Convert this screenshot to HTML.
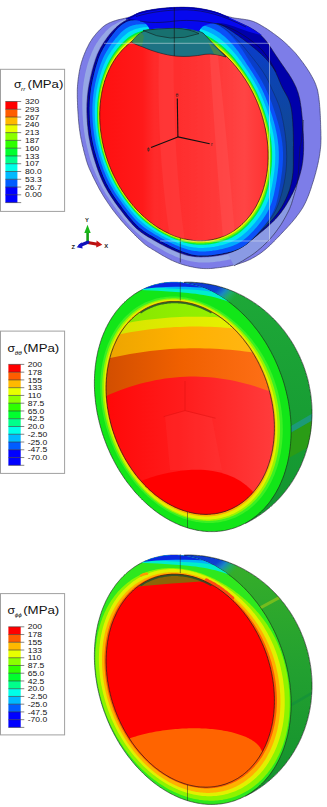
<!DOCTYPE html>
<html><head><meta charset="utf-8"><style>
html,body{margin:0;padding:0;background:#fff;}
body{width:327px;height:807px;overflow:hidden;}
svg{display:block;}
</style></head><body>
<svg width="327" height="807" viewBox="0 0 327 807">
<defs><clipPath id="lavclip"><path d="M0,0 H140 V120 L175,200 L262,230 L262,280 H0 Z"/></clipPath>
<linearGradient id="steel" gradientUnits="userSpaceOnUse" x1="0" y1="25" x2="0" y2="150"><stop offset="0" stop-color="#0a3ad8"/><stop offset="0.45" stop-color="#0c44b0"/><stop offset="1" stop-color="#11488e"/></linearGradient>
<linearGradient id="redg1" gradientUnits="userSpaceOnUse" x1="100" y1="0" x2="270" y2="0"><stop offset="0" stop-color="#ff1010"/><stop offset="0.25" stop-color="#ff1a1a"/><stop offset="0.32" stop-color="#ff2a2a"/><stop offset="0.5" stop-color="#ff3030"/><stop offset="0.7" stop-color="#ff3a3a"/><stop offset="0.85" stop-color="#ff4444"/><stop offset="1" stop-color="#ff3030"/></linearGradient>
<clipPath id="red1"><path d="M101.3,135.4 101.1,134.3 101,133.2 100.8,132.1 100.7,131 100.5,129.9 100.4,128.8 100.3,127.7 100.2,126.6 100.1,125.5 100,124.3 99.9,123.2 99.9,122.1 99.8,120.9 99.8,119.8 99.7,118.6 99.7,117.5 99.7,116.3 99.7,115.2 99.7,114 99.7,112.8 99.7,111.6 99.8,110.5 99.8,109.3 99.9,108.1 99.9,106.9 100,105.7 100.1,104.5 100.2,103.3 100.4,102 100.5,100.8 100.6,99.6 100.8,98.4 101,97.2 101.2,95.9 101.4,94.7 101.6,93.4 101.8,92.2 102.1,91 102.4,89.7 102.6,88.5 102.9,87.2 103.3,86 103.6,84.7 104,83.5 104.3,82.2 104.7,81 105.1,79.7 105.5,78.5 106,77.2 106.5,76 106.9,74.7 107.4,73.5 108,72.2 108.5,71 109.1,69.8 109.7,68.5 110.3,67.3 110.9,66.1 111.5,64.9 112.2,63.7 112.9,62.5 113.6,61.3 114.4,60.2 115.1,59 115.9,57.8 116.7,56.7 117.5,55.6 118.4,54.5 119.3,53.4 120.2,52.3 121.1,51.3 122,50.2 123,49.2 124,48.2 125,47.2 126,46.2 127,45.3 128.1,44.4 129.2,43.5 130.3,42.6 131.5,41.7 132.6,40.9 133.8,40.1 135,39.3 136.2,38.6 137.4,37.9 138.6,37.2 139.9,36.5 141.2,35.9 142.4,35.3 143.7,34.7 145.1,34.2 146.4,33.7 147.7,33.2 149.1,32.8 150.4,32.3 151.8,32 153.2,31.6 154.5,31.3 155.9,31 157.3,30.8 158.7,30.6 160.1,30.4 161.5,30.2 163,30.1 164.4,30 165.8,30 167.2,29.9 168.6,29.9 170,30 171.4,30.1 172.8,30.1 174.2,30.3 175.6,30.4 177,30.6 178.4,30.8 179.8,31.1 181.2,31.3 182.5,31.6 183.9,31.9 185.2,32.3 186.6,32.6 187.9,33 189.2,33.4 190.6,33.9 191.9,34.3 193.1,34.8 194.4,35.3 195.7,35.8 196.9,36.3 198.2,36.9 199.4,37.5 200.6,38.1 201.8,38.7 203,39.3 204.2,39.9 205.4,40.6 206.5,41.2 207.6,41.9 208.8,42.6 209.9,43.3 211,44 212.1,44.7 213.1,45.4 214.2,46.2 215.2,46.9 216.2,47.7 217.3,48.5 218.3,49.3 219.2,50.1 220.2,50.9 221.2,51.7 222.1,52.5 223.1,53.3 224,54.1 224.9,54.9 225.8,55.8 226.7,56.6 227.5,57.5 228.4,58.3 229.2,59.2 230.1,60.1 230.9,60.9 231.7,61.8 232.5,62.7 233.3,63.5 234,64.4 234.8,65.3 235.6,66.2 236.3,67.1 237,68 237.7,68.9 238.4,69.8 239.1,70.7 239.8,71.6 240.5,72.5 241.2,73.4 241.8,74.3 242.5,75.3 243.1,76.2 243.7,77.1 244.3,78 245,78.9 245.6,79.9 246.1,80.8 246.7,81.7 247.3,82.7 247.9,83.6 248.4,84.5 249,85.5 249.5,86.4 250,87.3 250.5,88.3 251,89.2 251.6,90.2 252,91.1 252.5,92.1 253,93 253.5,94 253.9,94.9 254.4,95.9 254.9,96.9 255.3,97.8 255.7,98.8 256.2,99.8 256.6,100.7 257,101.7 257.4,102.7 257.8,103.6 258.2,104.6 258.6,105.6 258.9,106.6 259.3,107.6 259.7,108.6 260,109.5 260.4,110.5 260.7,111.5 261,112.5 261.4,113.5 261.7,114.5 262,115.6 262.3,116.6 262.6,117.6 262.9,118.6 263.2,119.6 263.4,120.6 263.7,121.7 264,122.7 264.2,123.7 264.5,124.8 264.7,125.8 264.9,126.9 265.2,127.9 265.4,129 265.6,130 265.8,131.1 266,132.2 266.2,133.2 266.4,134.3 266.5,135.4 266.7,136.5 266.8,137.6 267,138.6 267.1,139.7 267.3,140.8 267.4,141.9 267.5,143.1 267.6,144.2 267.7,145.3 267.8,146.4 267.9,147.6 267.9,148.7 268,149.8 268,151 268.1,152.1 268.1,153.3 268.1,154.4 268.1,155.6 268.1,156.8 268.1,157.9 268.1,159.1 268,160.3 268,161.5 267.9,162.7 267.9,163.9 267.8,165.1 267.7,166.3 267.6,167.5 267.4,168.7 267.3,169.9 267.2,171.2 267,172.4 266.8,173.6 266.6,174.8 266.4,176.1 266.2,177.3 266,178.6 265.7,179.8 265.4,181 265.2,182.3 264.9,183.5 264.5,184.8 264.2,186 263.8,187.3 263.5,188.6 263.1,189.8 262.7,191.1 262.3,192.3 261.8,193.6 261.3,194.8 260.9,196.1 260.4,197.3 259.8,198.5 259.3,199.8 258.7,201 258.1,202.2 257.5,203.4 256.9,204.7 256.3,205.9 255.6,207.1 254.9,208.3 254.2,209.4 253.4,210.6 252.7,211.8 251.9,212.9 251.1,214 250.3,215.2 249.4,216.3 248.5,217.4 247.6,218.4 246.7,219.5 245.8,220.6 244.8,221.6 243.8,222.6 242.8,223.6 241.8,224.5 240.8,225.5 239.7,226.4 238.6,227.3 237.5,228.2 236.3,229 235.2,229.9 234,230.7 232.8,231.4 231.6,232.2 230.4,232.9 229.2,233.6 227.9,234.2 226.6,234.9 225.4,235.5 224.1,236 222.7,236.6 221.4,237.1 220.1,237.6 218.7,238 217.4,238.4 216,238.8 214.6,239.1 213.3,239.5 211.9,239.7 210.5,240 209.1,240.2 207.7,240.4 206.3,240.5 204.8,240.7 203.4,240.7 202,240.8 200.6,240.8 199.2,240.8 197.8,240.8 196.4,240.7 195,240.6 193.6,240.5 192.2,240.3 190.8,240.1 189.4,239.9 188,239.7 186.6,239.4 185.3,239.1 183.9,238.8 182.6,238.5 181.2,238.1 179.9,237.7 178.6,237.3 177.2,236.9 175.9,236.4 174.7,236 173.4,235.5 172.1,234.9 170.9,234.4 169.6,233.9 168.4,233.3 167.2,232.7 166,232.1 164.8,231.5 163.6,230.9 162.4,230.2 161.3,229.5 160.2,228.9 159,228.2 157.9,227.5 156.8,226.8 155.7,226 154.7,225.3 153.6,224.6 152.6,223.8 151.6,223 150.5,222.3 149.5,221.5 148.6,220.7 147.6,219.9 146.6,219.1 145.7,218.3 144.7,217.5 143.8,216.6 142.9,215.8 142,215 141.1,214.1 140.3,213.3 139.4,212.4 138.6,211.6 137.7,210.7 136.9,209.8 136.1,209 135.3,208.1 134.5,207.2 133.8,206.3 133,205.4 132.2,204.6 131.5,203.7 130.8,202.8 130.1,201.9 129.4,201 128.7,200.1 128,199.2 127.3,198.2 126.6,197.3 126,196.4 125.3,195.5 124.7,194.6 124.1,193.7 123.5,192.7 122.8,191.8 122.2,190.9 121.7,190 121.1,189 120.5,188.1 119.9,187.2 119.4,186.2 118.8,185.3 118.3,184.4 117.8,183.4 117.3,182.5 116.8,181.5 116.2,180.6 115.8,179.6 115.3,178.7 114.8,177.7 114.3,176.8 113.9,175.8 113.4,174.9 112.9,173.9 112.5,172.9 112.1,172 111.6,171 111.2,170 110.8,169.1 110.4,168.1 110,167.1 109.6,166.1 109.2,165.2 108.9,164.2 108.5,163.2 108.1,162.2 107.8,161.2 107.4,160.2 107.1,159.2 106.8,158.2 106.4,157.2 106.1,156.2 105.8,155.2 105.5,154.2 105.2,153.2 104.9,152.2 104.6,151.1 104.4,150.1 104.1,149.1 103.8,148.1 103.6,147 103.3,146 103.1,144.9 102.9,143.9 102.6,142.8 102.4,141.8 102.2,140.7 102,139.7 101.8,138.6 101.6,137.5 101.4,136.5Z"/></clipPath>
<clipPath id="tealc"><path d="M131.5,42 C135,37 140,32 147,30.2 C160,28.5 175,28 190,29.4 C196,30 200,31.5 203,33 L226,57 C218,54.5 212,53.6 205,54.3 C195,56.3 185,56.9 176,56.1 C165,55 152,51 143,47 C138,45.2 134,43.8 131.5,42 Z"/></clipPath>
<linearGradient id="shade" x1="0" y1="0" x2="1" y2="0"><stop offset="0" stop-color="#000" stop-opacity="0.12"/><stop offset="0.45" stop-color="#000" stop-opacity="0"/><stop offset="0.75" stop-color="#fff" stop-opacity="0.08"/><stop offset="1" stop-color="#fff" stop-opacity="0.12"/></linearGradient>
<clipPath id="cx2"><path d="M179.6,265.0 L330,265.0 L330,545.0 L250.7,545.0 Z"/></clipPath>
<linearGradient id="exl2" gradientUnits="userSpaceOnUse" x1="0" y1="290.0" x2="0" y2="530.0"><stop offset="0" stop-color="#1ea838"/><stop offset="0.5" stop-color="#189e34"/><stop offset="1" stop-color="#139430"/></linearGradient>
<radialGradient id="exg2" gradientUnits="userSpaceOnUse" cx="200" cy="268.0" r="50"><stop offset="0" stop-color="#0a30d8"/><stop offset="0.55" stop-color="#1040d0"/><stop offset="0.68" stop-color="#1a88c4"/><stop offset="0.8" stop-color="#20ac70" stop-opacity="0.8"/><stop offset="0.92" stop-color="#20ac50" stop-opacity="0"/><stop offset="1" stop-color="#20ac50" stop-opacity="0"/></radialGradient>
<clipPath id="cs2"><path d="M155.6,287 157.1,286.6 158.6,286.2 160.1,285.8 161.6,285.4 163.1,285 164.7,284.7 166.2,284.4 167.7,284.1 169.2,283.8 170.8,283.6 172.3,283.3 173.9,283.1 175.4,282.9 177,282.8 178.5,282.6 180.1,282.5 181.6,282.4 183.2,282.3 184.8,282.3 186.3,282.2 187.9,282.2 189.4,282.2 191,282.2 192.6,282.3 194.1,282.4 195.7,282.5 197.3,282.6 198.8,282.7 200.4,282.9 202,283 203.5,283.2 205.1,283.5 206.6,283.7 208.2,284 209.7,284.3 211.3,284.6 212.8,284.9 214.4,285.3 215.9,285.6 217.4,286 219,286.4 220.5,286.9 222,287.3 223.5,287.8 225,288.3 226.5,288.8 228,289.3 229.5,289.9 231,290.5 232.5,291.1 234,291.7 235.4,292.3 236.9,293 238.3,293.7 239.8,294.4 241.2,295.1 242.6,295.8 244.1,296.6 245.5,297.4 246.9,298.2 248.2,299 249.6,299.8 251,300.7 252.4,301.5 253.7,302.4 255,303.3 256.4,304.2 257.7,305.2 259,306.1 260.3,307.1 261.6,308.1 262.8,309.1 264.1,310.1 265.4,311.2 266.6,312.3 267.8,313.3 269,314.4 270.2,315.5 271.4,316.7 272.6,317.8 273.7,319 274.9,320.1 276,321.3 277.1,322.5 278.2,323.7 279.3,325 280.4,326.2 281.4,327.5 282.4,328.8 283.5,330 284.5,331.3 285.5,332.7 286.4,334 287.4,335.3 288.3,336.7 289.3,338 290.2,339.4 291.1,340.8 292,342.2 292.8,343.6 293.7,345 294.5,346.5 295.3,347.9 296.1,349.4 296.8,350.8 297.6,352.3 298.3,353.8 299.1,355.3 299.8,356.8 300.4,358.3 301.1,359.8 301.7,361.4 302.4,362.9 303,364.4 303.6,366 304.1,367.5 304.7,369.1 305.2,370.7 305.7,372.3 306.2,373.8 306.7,375.4 307.1,377 307.6,378.6 308,380.2 308.4,381.9 308.7,383.5 309.1,385.1 309.4,386.7 309.7,388.4 310,390 310.3,391.6 310.6,393.3 310.8,394.9 311,396.5 311.2,398.2 311.4,399.8 311.5,401.5 311.7,403.1 311.8,404.8 311.9,406.4 311.9,408.1 312,409.7 312,411.4 312,413 312,414.7 312,416.3 311.9,418 311.8,419.6 311.7,421.3 311.6,422.9 311.5,424.6 311.3,426.2 311.2,427.8 311,429.5 310.8,431.1 310.5,432.7 310.3,434.3 310,435.9 309.7,437.5 309.4,439.1 309,440.7 308.7,442.3 308.3,443.9 307.9,445.5 307.5,447.1 307,448.6 306.6,450.2 306.1,451.8 305.6,453.3 305.1,454.8 304.6,456.4 304,457.9 303.4,459.4 302.8,460.9 302.2,462.4 301.6,463.9 301,465.4 300.3,466.9 299.6,468.3 298.9,469.8 298.2,471.2 297.4,472.6 296.7,474 295.9,475.4 295.1,476.8 294.3,478.2 293.5,479.6 292.6,480.9 291.8,482.3 290.9,483.6 290,484.9 289.1,486.2 288.1,487.5 287.2,488.8 286.2,490.1 285.3,491.3 284.3,492.6 283.2,493.8 282.2,495 281.2,496.2 280.1,497.4 279.1,498.5 278,499.7 276.9,500.8 275.7,501.9 274.6,503 273.5,504.1 272.3,505.2 271.1,506.2 270,507.3 268.8,508.3 267.5,509.3 266.3,510.3 265.1,511.2 263.8,512.2 262.6,513.1 261.3,514 260,514.9 258.7,515.8 257.4,516.6 256.1,517.5 254.8,518.3 253.4,519.1 252.1,519.9 250.7,520.6 249.3,521.4 247.9,522.1 246.6,522.8 245.2,523.5 243.7,524.2 242.3,524.8 240.9,525.4 239.5,526 238,526.6 236.6,527.2 235.1,527.7 233.6,528.3 232.2,528.8 230.7,529.2 229.2,529.7 227.7,530.1 226.2,530.6 224.7,531 223.2,531.3 221.7,531.7 220.2,532 218.6,532.4 217.1,532.6 215.6,532.9 214,533.2 212.5,533.4 211,533.6 209.4,533.8 207.9,534 206.3,534.1 204.7,534.2 203.2,534.3 201.6,534.4 200.1,534.5 198.5,534.5 196.9,534.5 195.4,534.5 193.8,534.5 192.2,534.4 190.7,534.4 189.1,534.3 187.5,534.1 186,534 184.4,533.9 182.9,533.7 181.3,533.5 179.7,533.2 178.2,533 176.6,532.7 175.1,532.5 173.5,532.1 172,531.8 170.4,531.5 168.9,531.1 167.4,530.7 165.8,530.3 164.3,529.9 162.8,529.4 161.3,528.9 159.8,528.4 158.3,527.9 156.8,527.4 155.3,526.8 153.8,526.2 152.3,525.6 150.9,525 149.4,524.4 147.9,523.7 146.5,523 145,522.3 143.6,521.6 142.2,520.9 140.8,520.1 139.4,519.4 138,518.6 136.6,517.8 135.2,516.9 133.8,516.1 132.5,515.2 131.1,514.3 129.8,513.4 128.4,512.5 127.1,511.5 125.8,510.6 124.5,509.6 123.2,508.6 122,507.6 120.7,506.6 119.5,505.5 118.2,504.5 117,503.4 115.8,502.3 114.6,501.2 113.4,500.1 112.3,498.9 111.1,497.8 110,496.6 108.8,495.4 107.7,494.2 106.6,493 105.5,491.7 104.5,490.5 103.4,489.2 102.4,488 101.4,486.7 100.3,485.4 99.4,484.1 98.4,482.7 97.4,481.4 96.5,480 95.5,478.7 94.6,477.3 93.7,475.9 92.9,474.5 92,473.1 91.2,471.7 90.3,470.2 89.5,468.8 88.7,467.3 88,465.9 87.2,464.4 86.5,462.9 85.8,461.4 85.1,459.9 84.4,458.4 83.7,456.9 83.1,455.4 82.5,453.8 81.8,452.3 81.3,450.7 80.7,449.2 80.1,447.6 79.6,446 79.1,444.5 78.6,442.9 78.1,441.3 77.7,439.7 77.3,438.1 76.8,436.5 76.4,434.9 76.1,433.2 75.7,431.6 75.4,430 75.1,428.4 74.8,426.7 74.5,425.1 74.3,423.5 74,421.8 73.8,420.2 73.6,418.5 73.4,416.9 73.3,415.2 73.2,413.6 73.1,411.9 73,410.3 72.9,408.6 72.8,407 72.8,405.3 72.8,403.7 72.8,402 72.9,400.4 72.9,398.7 73,397.1 73.1,395.4 73.2,393.8 73.3,392.2 73.5,390.5 73.7,388.9 73.9,387.3 74.1,385.6 74.3,384 74.6,382.4 74.8,380.8 75.1,379.2 75.5,377.6 75.8,376 76.2,374.4 76.5,372.8 76.9,371.2 77.3,369.6 77.8,368.1 78.2,366.5 78.7,365 79.2,363.4 79.7,361.9 80.3,360.3 80.8,358.8 81.4,357.3 82,355.8 82.6,354.3 83.2,352.8 83.9,351.3 84.5,349.9 85.2,348.4 85.9,347 86.6,345.5 87.4,344.1 88.1,342.7 88.9,341.3 89.7,339.9 90.5,338.5 91.3,337.1 92.2,335.8 93.1,334.4 93.9,333.1 94.8,331.8 95.7,330.5 96.7,329.2 97.6,327.9 98.6,326.6 99.6,325.4 100.6,324.2 101.6,322.9 102.6,321.7 103.6,320.5 104.7,319.4 105.8,318.2 106.9,317 108,315.9 109.1,314.8 110.2,313.7 111.3,312.6 112.5,311.5 113.7,310.5 114.9,309.5 116.1,308.4 117.3,307.4 118.5,306.5 119.7,305.5 121,304.5 122.2,303.6 123.5,302.7 124.8,301.8 126.1,300.9 127.4,300.1 128.7,299.2 130.1,298.4 131.4,297.6 132.8,296.8 134.1,296.1 135.5,295.3 136.9,294.6 138.3,293.9 139.7,293.2 141.1,292.6 142.5,291.9 143.9,291.3 145.4,290.7 146.8,290.1 148.2,289.5 149.7,289 151.2,288.5 152.6,288 154.1,287.5Z"/></clipPath>
<clipPath id="ce2"><path d="M150.3,286.2 151.5,285.8 152.6,285.5 153.8,285.1 155,284.8 156.2,284.5 157.4,284.2 158.6,283.9 159.8,283.6 161,283.4 162.2,283.2 163.5,283 164.7,282.8 165.9,282.7 167.2,282.6 168.4,282.5 169.7,282.4 170.9,282.3 172.2,282.3 173.4,282.3 174.7,282.3 176,282.3 177.2,282.3 178.5,282.4 179.8,282.5 181.1,282.6 182.3,282.7 183.6,282.9 184.9,283.1 186.2,283.3 187.5,283.5 188.8,283.7 190,284 191.3,284.3 192.6,284.6 193.9,284.9 195.2,285.2 196.5,285.6 197.8,286 199.1,286.4 200.3,286.8 201.6,287.3 202.9,287.7 204.2,288.2 205.5,288.7 206.7,289.2 208,289.8 209.3,290.4 210.5,290.9 211.8,291.6 213.1,292.2 214.3,292.8 215.6,293.5 216.8,294.2 218.1,294.9 219.3,295.6 220.6,296.4 221.8,297.1 223,297.9 224.2,298.7 225.5,299.5 226.7,300.4 227.9,301.2 229.1,302.1 230.3,303 231.5,303.9 232.6,304.8 233.8,305.8 235,306.7 236.1,307.7 237.3,308.7 238.4,309.7 239.6,310.8 240.7,311.8 241.8,312.9 242.9,313.9 244,315 245.1,316.1 246.2,317.3 247.3,318.4 248.4,319.6 249.4,320.7 250.5,321.9 251.5,323.1 252.5,324.3 253.5,325.6 254.5,326.8 255.5,328.1 256.5,329.3 257.5,330.6 258.5,331.9 259.4,333.2 260.4,334.6 261.3,335.9 262.2,337.2 263.1,338.6 264,340 264.9,341.3 265.8,342.7 266.6,344.1 267.5,345.6 268.3,347 269.1,348.4 269.9,349.9 270.7,351.3 271.5,352.8 272.2,354.3 273,355.7 273.7,357.2 274.5,358.7 275.2,360.3 275.9,361.8 276.5,363.3 277.2,364.8 277.9,366.4 278.5,367.9 279.1,369.5 279.7,371 280.3,372.6 280.9,374.2 281.5,375.7 282,377.3 282.6,378.9 283.1,380.5 283.6,382.1 284.1,383.7 284.5,385.3 285,386.9 285.4,388.5 285.8,390.1 286.3,391.8 286.6,393.4 287,395 287.4,396.6 287.7,398.3 288.1,399.9 288.4,401.5 288.7,403.2 288.9,404.8 289.2,406.4 289.4,408 289.7,409.7 289.9,411.3 290.1,412.9 290.2,414.6 290.4,416.2 290.6,417.8 290.7,419.4 290.8,421.1 290.9,422.7 291,424.3 291,425.9 291.1,427.5 291.1,429.1 291.1,430.7 291.1,432.3 291.1,433.9 291,435.5 291,437.1 290.9,438.7 290.8,440.3 290.7,441.8 290.6,443.4 290.4,445 290.3,446.5 290.1,448.1 289.9,449.6 289.7,451.1 289.5,452.7 289.2,454.2 289,455.7 288.7,457.2 288.4,458.7 288.1,460.1 287.8,461.6 287.5,463.1 287.1,464.5 286.7,466 286.3,467.4 285.9,468.8 285.5,470.2 285.1,471.6 284.6,473 284.2,474.4 283.7,475.8 283.2,477.1 282.7,478.5 282.1,479.8 281.6,481.1 281,482.4 280.4,483.7 279.9,485 279.3,486.3 278.6,487.5 278,488.8 277.3,490 276.7,491.2 276,492.4 275.3,493.6 274.6,494.7 273.9,495.9 273.1,497 272.4,498.1 271.6,499.2 270.9,500.3 270.1,501.4 269.3,502.5 268.5,503.5 267.6,504.5 266.8,505.5 265.9,506.5 265.1,507.5 264.2,508.5 263.3,509.4 262.4,510.3 261.5,511.2 260.5,512.1 259.6,513 258.7,513.8 257.7,514.7 256.7,515.5 255.7,516.3 254.7,517 253.7,517.8 252.7,518.5 251.7,519.3 250.7,520 249.6,520.6 248.6,521.3 247.5,521.9 246.4,522.6 245.3,523.2 244.3,523.7 243.2,524.3 242,524.8 240.9,525.4 239.8,525.9 238.7,526.3 237.5,526.8 236.4,527.2 235.2,527.7 234,528.1 232.9,528.4 231.7,528.8 230.5,529.1 229.3,529.4 228.1,529.7 226.9,530 225.7,530.3 224.5,530.5 223.3,530.7 222,530.9 220.8,531.1 219.6,531.2 218.3,531.3 217.1,531.4 215.8,531.5 214.6,531.6 213.3,531.6 212.1,531.6 210.8,531.6 209.5,531.6 208.3,531.6 207,531.5 205.7,531.4 204.4,531.3 203.2,531.2 201.9,531 200.6,530.8 199.3,530.6 198,530.4 196.7,530.2 195.5,529.9 194.2,529.6 192.9,529.3 191.6,529 190.3,528.7 189,528.3 187.7,527.9 186.4,527.5 185.2,527.1 183.9,526.6 182.6,526.2 181.3,525.7 180,525.2 178.8,524.7 177.5,524.1 176.2,523.5 175,523 173.7,522.3 172.4,521.7 171.2,521.1 169.9,520.4 168.7,519.7 167.4,519 166.2,518.3 164.9,517.5 163.7,516.8 162.5,516 161.3,515.2 160,514.4 158.8,513.5 157.6,512.7 156.4,511.8 155.2,510.9 154,510 152.9,509.1 151.7,508.1 150.5,507.2 149.4,506.2 148.2,505.2 147.1,504.2 145.9,503.1 144.8,502.1 143.7,501 142.6,500 141.5,498.9 140.4,497.8 139.3,496.6 138.2,495.5 137.1,494.3 136.1,493.2 135,492 134,490.8 133,489.6 132,488.3 131,487.1 130,485.8 129,484.6 128,483.3 127,482 126.1,480.7 125.1,479.3 124.2,478 123.3,476.7 122.4,475.3 121.5,473.9 120.6,472.6 119.7,471.2 118.9,469.8 118,468.3 117.2,466.9 116.4,465.5 115.6,464 114.8,462.6 114,461.1 113.3,459.6 112.5,458.2 111.8,456.7 111,455.2 110.3,453.6 109.6,452.1 109,450.6 108.3,449.1 107.6,447.5 107,446 106.4,444.4 105.8,442.9 105.2,441.3 104.6,439.7 104,438.2 103.5,436.6 102.9,435 102.4,433.4 101.9,431.8 101.4,430.2 101,428.6 100.5,427 100.1,425.4 99.7,423.8 99.2,422.1 98.9,420.5 98.5,418.9 98.1,417.3 97.8,415.6 97.4,414 97.1,412.4 96.8,410.7 96.6,409.1 96.3,407.5 96.1,405.9 95.8,404.2 95.6,402.6 95.4,401 95.3,399.3 95.1,397.7 94.9,396.1 94.8,394.5 94.7,392.8 94.6,391.2 94.5,389.6 94.5,388 94.4,386.4 94.4,384.8 94.4,383.2 94.4,381.6 94.4,380 94.5,378.4 94.5,376.8 94.6,375.2 94.7,373.6 94.8,372.1 94.9,370.5 95.1,368.9 95.2,367.4 95.4,365.8 95.6,364.3 95.8,362.8 96,361.2 96.3,359.7 96.5,358.2 96.8,356.7 97.1,355.2 97.4,353.8 97.7,352.3 98,350.8 98.4,349.4 98.8,347.9 99.2,346.5 99.6,345.1 100,343.7 100.4,342.3 100.9,340.9 101.3,339.5 101.8,338.1 102.3,336.8 102.8,335.4 103.4,334.1 103.9,332.8 104.5,331.5 105.1,330.2 105.6,328.9 106.2,327.6 106.9,326.4 107.5,325.1 108.2,323.9 108.8,322.7 109.5,321.5 110.2,320.3 110.9,319.2 111.6,318 112.4,316.9 113.1,315.8 113.9,314.7 114.6,313.6 115.4,312.5 116.2,311.4 117,310.4 117.9,309.4 118.7,308.4 119.6,307.4 120.4,306.4 121.3,305.4 122.2,304.5 123.1,303.6 124,302.7 125,301.8 125.9,300.9 126.8,300.1 127.8,299.2 128.8,298.4 129.8,297.6 130.8,296.9 131.8,296.1 132.8,295.4 133.8,294.6 134.8,293.9 135.9,293.3 136.9,292.6 138,292 139.1,291.3 140.2,290.7 141.2,290.2 142.3,289.6 143.5,289.1 144.6,288.5 145.7,288 146.8,287.6 148,287.1 149.1,286.7Z"/></clipPath>
<clipPath id="cr2"><path d="M154.6,304.8 155.6,304.4 156.6,304.1 157.6,303.8 158.6,303.5 159.6,303.3 160.6,303 161.7,302.8 162.7,302.6 163.8,302.4 164.8,302.2 165.9,302.1 166.9,301.9 168,301.8 169,301.7 170.1,301.6 171.2,301.5 172.2,301.5 173.3,301.5 174.4,301.5 175.5,301.5 176.6,301.5 177.7,301.5 178.8,301.6 179.8,301.7 180.9,301.8 182,301.9 183.1,302 184.2,302.2 185.3,302.3 186.4,302.5 187.5,302.7 188.6,303 189.7,303.2 190.8,303.5 191.9,303.7 193,304 194.1,304.4 195.2,304.7 196.3,305 197.4,305.4 198.5,305.8 199.6,306.2 200.7,306.6 201.8,307.1 202.9,307.5 204,308 205.1,308.5 206.2,309 207.2,309.5 208.3,310 209.4,310.6 210.5,311.2 211.5,311.8 212.6,312.4 213.6,313 214.7,313.6 215.8,314.3 216.8,314.9 217.8,315.6 218.9,316.3 219.9,317.1 220.9,317.8 222,318.5 223,319.3 224,320.1 225,320.9 226,321.7 227,322.5 228,323.3 229,324.2 229.9,325.1 230.9,326 231.9,326.8 232.8,327.8 233.8,328.7 234.7,329.6 235.6,330.6 236.6,331.5 237.5,332.5 238.4,333.5 239.3,334.5 240.2,335.5 241.1,336.5 241.9,337.6 242.8,338.6 243.7,339.7 244.5,340.8 245.3,341.9 246.2,343 247,344.1 247.8,345.2 248.6,346.3 249.4,347.5 250.2,348.6 250.9,349.8 251.7,351 252.4,352.1 253.2,353.3 253.9,354.5 254.6,355.7 255.3,357 256,358.2 256.7,359.4 257.4,360.7 258,361.9 258.7,363.2 259.3,364.5 259.9,365.7 260.5,367 261.1,368.3 261.7,369.6 262.3,370.9 262.9,372.2 263.4,373.5 264,374.9 264.5,376.2 265,377.5 265.5,378.8 266,380.2 266.5,381.5 266.9,382.9 267.4,384.2 267.8,385.6 268.2,387 268.6,388.3 269,389.7 269.4,391.1 269.8,392.5 270.1,393.8 270.5,395.2 270.8,396.6 271.1,398 271.4,399.4 271.7,400.8 272,402.2 272.2,403.6 272.5,405 272.7,406.3 272.9,407.7 273.1,409.1 273.3,410.5 273.5,411.9 273.6,413.3 273.8,414.7 273.9,416.1 274,417.5 274.1,418.9 274.2,420.3 274.3,421.6 274.3,423 274.4,424.4 274.4,425.8 274.4,427.1 274.4,428.5 274.4,429.9 274.4,431.2 274.3,432.6 274.3,434 274.2,435.3 274.1,436.6 274,438 273.9,439.3 273.8,440.6 273.6,442 273.5,443.3 273.3,444.6 273.1,445.9 272.9,447.2 272.7,448.5 272.5,449.8 272.2,451.1 272,452.3 271.7,453.6 271.4,454.8 271.1,456.1 270.8,457.3 270.5,458.6 270.1,459.8 269.8,461 269.4,462.2 269,463.4 268.6,464.6 268.2,465.8 267.8,466.9 267.4,468.1 266.9,469.2 266.4,470.4 266,471.5 265.5,472.6 265,473.7 264.5,474.8 263.9,475.9 263.4,476.9 262.9,478 262.3,479 261.7,480.1 261.1,481.1 260.5,482.1 259.9,483.1 259.3,484.1 258.7,485 258,486 257.3,486.9 256.7,487.8 256,488.8 255.3,489.7 254.6,490.5 253.9,491.4 253.2,492.3 252.4,493.1 251.7,493.9 250.9,494.8 250.1,495.6 249.4,496.3 248.6,497.1 247.8,497.9 247,498.6 246.2,499.3 245.3,500 244.5,500.7 243.6,501.4 242.8,502.1 241.9,502.7 241,503.3 240.2,503.9 239.3,504.5 238.4,505.1 237.5,505.7 236.5,506.2 235.6,506.7 234.7,507.2 233.8,507.7 232.8,508.2 231.9,508.7 230.9,509.1 229.9,509.5 228.9,509.9 228,510.3 227,510.7 226,511.1 225,511.4 224,511.7 223,512 221.9,512.3 220.9,512.6 219.9,512.8 218.9,513 217.8,513.3 216.8,513.4 215.7,513.6 214.7,513.8 213.6,513.9 212.6,514 211.5,514.1 210.4,514.2 209.4,514.3 208.3,514.3 207.2,514.4 206.1,514.4 205.1,514.4 204,514.3 202.9,514.3 201.8,514.2 200.7,514.2 199.6,514.1 198.5,514 197.4,513.8 196.3,513.7 195.2,513.5 194.1,513.3 193,513.1 191.9,512.9 190.8,512.6 189.7,512.4 188.6,512.1 187.5,511.8 186.4,511.5 185.3,511.1 184.2,510.8 183.1,510.4 182,510 180.9,509.6 179.8,509.2 178.7,508.8 177.6,508.3 176.6,507.9 175.5,507.4 174.4,506.9 173.3,506.3 172.2,505.8 171.2,505.3 170.1,504.7 169,504.1 168,503.5 166.9,502.9 165.8,502.2 164.8,501.6 163.7,500.9 162.7,500.2 161.7,499.5 160.6,498.8 159.6,498.1 158.6,497.3 157.6,496.5 156.5,495.8 155.5,495 154.5,494.2 153.5,493.3 152.6,492.5 151.6,491.6 150.6,490.8 149.6,489.9 148.7,489 147.7,488.1 146.8,487.2 145.8,486.2 144.9,485.3 144,484.3 143.1,483.3 142.2,482.3 141.3,481.3 140.4,480.3 139.5,479.3 138.6,478.3 137.7,477.2 136.9,476.1 136,475.1 135.2,474 134.4,472.9 133.6,471.8 132.7,470.6 131.9,469.5 131.2,468.4 130.4,467.2 129.6,466.1 128.9,464.9 128.1,463.7 127.4,462.5 126.6,461.3 125.9,460.1 125.2,458.9 124.5,457.6 123.8,456.4 123.2,455.2 122.5,453.9 121.9,452.7 121.2,451.4 120.6,450.1 120,448.8 119.4,447.5 118.8,446.2 118.2,444.9 117.7,443.6 117.1,442.3 116.6,441 116.1,439.7 115.5,438.3 115,437 114.6,435.6 114.1,434.3 113.6,432.9 113.2,431.6 112.7,430.2 112.3,428.9 111.9,427.5 111.5,426.1 111.1,424.8 110.8,423.4 110.4,422 110.1,420.6 109.8,419.2 109.4,417.8 109.1,416.5 108.9,415.1 108.6,413.7 108.3,412.3 108.1,410.9 107.9,409.5 107.6,408.1 107.4,406.7 107.3,405.3 107.1,403.9 106.9,402.5 106.8,401.1 106.7,399.7 106.5,398.4 106.4,397 106.3,395.6 106.3,394.2 106.2,392.8 106.2,391.4 106.1,390.1 106.1,388.7 106.1,387.3 106.1,386 106.2,384.6 106.2,383.2 106.3,381.9 106.4,380.5 106.4,379.2 106.5,377.9 106.7,376.5 106.8,375.2 106.9,373.9 107.1,372.6 107.3,371.2 107.4,369.9 107.6,368.6 107.9,367.3 108.1,366.1 108.3,364.8 108.6,363.5 108.9,362.2 109.1,361 109.4,359.7 109.8,358.5 110.1,357.3 110.4,356.1 110.8,354.8 111.1,353.6 111.5,352.4 111.9,351.3 112.3,350.1 112.8,348.9 113.2,347.8 113.6,346.6 114.1,345.5 114.6,344.4 115.1,343.3 115.6,342.2 116.1,341.1 116.6,340 117.1,338.9 117.7,337.9 118.2,336.8 118.8,335.8 119.4,334.8 120,333.8 120.6,332.8 121.2,331.8 121.9,330.8 122.5,329.9 123.2,328.9 123.9,328 124.5,327.1 125.2,326.2 125.9,325.3 126.7,324.4 127.4,323.6 128.1,322.7 128.9,321.9 129.6,321.1 130.4,320.3 131.2,319.5 132,318.7 132.8,318 133.6,317.2 134.4,316.5 135.2,315.8 136.1,315.1 136.9,314.4 137.8,313.8 138.6,313.1 139.5,312.5 140.4,311.9 141.3,311.3 142.2,310.7 143.1,310.2 144,309.6 144.9,309.1 145.8,308.6 146.8,308.1 147.7,307.6 148.7,307.2 149.6,306.7 150.6,306.3 151.6,305.9 152.6,305.5 153.6,305.1Z"/></clipPath>
<linearGradient id="g2red" gradientUnits="userSpaceOnUse" x1="105" y1="0" x2="275" y2="0"><stop offset="0" stop-color="#ff0a0a"/><stop offset="0.45" stop-color="#ff1c1c"/><stop offset="1" stop-color="#ff3c3c"/></linearGradient>
<linearGradient id="g2yg" gradientUnits="userSpaceOnUse" x1="105" y1="0" x2="275" y2="0"><stop offset="0" stop-color="#84e400"/><stop offset="0.45" stop-color="#90ee00"/><stop offset="1" stop-color="#9cf400"/></linearGradient>
<linearGradient id="g2y" gradientUnits="userSpaceOnUse" x1="105" y1="0" x2="275" y2="0"><stop offset="0" stop-color="#d4e200"/><stop offset="0.45" stop-color="#e0ec00"/><stop offset="1" stop-color="#ecf400"/></linearGradient>
<linearGradient id="g2o" gradientUnits="userSpaceOnUse" x1="105" y1="0" x2="275" y2="0"><stop offset="0" stop-color="#eca400"/><stop offset="0.45" stop-color="#ffb000"/><stop offset="1" stop-color="#ffb818"/></linearGradient>
<linearGradient id="g2ro" gradientUnits="userSpaceOnUse" x1="105" y1="0" x2="275" y2="0"><stop offset="0" stop-color="#d24e00"/><stop offset="0.45" stop-color="#f06000"/><stop offset="1" stop-color="#ff7018"/></linearGradient>
<linearGradient id="g2r" gradientUnits="userSpaceOnUse" x1="105" y1="0" x2="275" y2="0"><stop offset="0" stop-color="#ff0808"/><stop offset="0.45" stop-color="#ff1c1c"/><stop offset="1" stop-color="#ff3c3c"/></linearGradient>
<clipPath id="cx3"><path d="M179.6,537.8 L330,537.8 L330,817.8 L250.7,817.8 Z"/></clipPath>
<linearGradient id="exl3" gradientUnits="userSpaceOnUse" x1="0" y1="562.8" x2="0" y2="802.8"><stop offset="0" stop-color="#36ae2a"/><stop offset="0.45" stop-color="#22a030"/><stop offset="1" stop-color="#12902e"/></linearGradient>
<radialGradient id="exg3" gradientUnits="userSpaceOnUse" cx="200" cy="540.8" r="50"><stop offset="0" stop-color="#0a30d8"/><stop offset="0.55" stop-color="#1040d0"/><stop offset="0.68" stop-color="#1a88c4"/><stop offset="0.8" stop-color="#20ac70" stop-opacity="0.8"/><stop offset="0.92" stop-color="#20ac50" stop-opacity="0"/><stop offset="1" stop-color="#20ac50" stop-opacity="0"/></radialGradient>
<clipPath id="cs3"><path d="M155.6,559.8 157.1,559.4 158.6,559 160.1,558.6 161.6,558.2 163.1,557.8 164.7,557.5 166.2,557.2 167.7,556.9 169.2,556.6 170.8,556.4 172.3,556.1 173.9,555.9 175.4,555.7 177,555.6 178.5,555.4 180.1,555.3 181.6,555.2 183.2,555.1 184.8,555.1 186.3,555 187.9,555 189.4,555 191,555 192.6,555.1 194.1,555.2 195.7,555.3 197.3,555.4 198.8,555.5 200.4,555.7 202,555.8 203.5,556 205.1,556.3 206.6,556.5 208.2,556.8 209.7,557.1 211.3,557.4 212.8,557.7 214.4,558.1 215.9,558.4 217.4,558.8 219,559.2 220.5,559.7 222,560.1 223.5,560.6 225,561.1 226.5,561.6 228,562.1 229.5,562.7 231,563.3 232.5,563.9 234,564.5 235.4,565.1 236.9,565.8 238.3,566.5 239.8,567.2 241.2,567.9 242.6,568.6 244.1,569.4 245.5,570.2 246.9,571 248.2,571.8 249.6,572.6 251,573.5 252.4,574.3 253.7,575.2 255,576.1 256.4,577 257.7,578 259,578.9 260.3,579.9 261.6,580.9 262.8,581.9 264.1,582.9 265.4,584 266.6,585.1 267.8,586.1 269,587.2 270.2,588.3 271.4,589.5 272.6,590.6 273.7,591.8 274.9,592.9 276,594.1 277.1,595.3 278.2,596.5 279.3,597.8 280.4,599 281.4,600.3 282.4,601.6 283.5,602.8 284.5,604.1 285.5,605.5 286.4,606.8 287.4,608.1 288.3,609.5 289.3,610.8 290.2,612.2 291.1,613.6 292,615 292.8,616.4 293.7,617.8 294.5,619.3 295.3,620.7 296.1,622.2 296.8,623.6 297.6,625.1 298.3,626.6 299.1,628.1 299.8,629.6 300.4,631.1 301.1,632.6 301.7,634.2 302.4,635.7 303,637.2 303.6,638.8 304.1,640.3 304.7,641.9 305.2,643.5 305.7,645.1 306.2,646.6 306.7,648.2 307.1,649.8 307.6,651.4 308,653 308.4,654.7 308.7,656.3 309.1,657.9 309.4,659.5 309.7,661.2 310,662.8 310.3,664.4 310.6,666.1 310.8,667.7 311,669.3 311.2,671 311.4,672.6 311.5,674.3 311.7,675.9 311.8,677.6 311.9,679.2 311.9,680.9 312,682.5 312,684.2 312,685.8 312,687.5 312,689.1 311.9,690.8 311.8,692.4 311.7,694.1 311.6,695.7 311.5,697.4 311.3,699 311.2,700.6 311,702.3 310.8,703.9 310.5,705.5 310.3,707.1 310,708.7 309.7,710.3 309.4,711.9 309,713.5 308.7,715.1 308.3,716.7 307.9,718.3 307.5,719.9 307,721.4 306.6,723 306.1,724.6 305.6,726.1 305.1,727.6 304.6,729.2 304,730.7 303.4,732.2 302.8,733.7 302.2,735.2 301.6,736.7 301,738.2 300.3,739.7 299.6,741.1 298.9,742.6 298.2,744 297.4,745.4 296.7,746.8 295.9,748.2 295.1,749.6 294.3,751 293.5,752.4 292.6,753.7 291.8,755.1 290.9,756.4 290,757.7 289.1,759 288.1,760.3 287.2,761.6 286.2,762.9 285.3,764.1 284.3,765.4 283.2,766.6 282.2,767.8 281.2,769 280.1,770.2 279.1,771.3 278,772.5 276.9,773.6 275.7,774.7 274.6,775.8 273.5,776.9 272.3,778 271.1,779 270,780.1 268.8,781.1 267.5,782.1 266.3,783.1 265.1,784 263.8,785 262.6,785.9 261.3,786.8 260,787.7 258.7,788.6 257.4,789.4 256.1,790.3 254.8,791.1 253.4,791.9 252.1,792.7 250.7,793.4 249.3,794.2 247.9,794.9 246.6,795.6 245.2,796.3 243.7,797 242.3,797.6 240.9,798.2 239.5,798.8 238,799.4 236.6,800 235.1,800.5 233.6,801.1 232.2,801.6 230.7,802 229.2,802.5 227.7,802.9 226.2,803.4 224.7,803.8 223.2,804.1 221.7,804.5 220.2,804.8 218.6,805.2 217.1,805.4 215.6,805.7 214,806 212.5,806.2 211,806.4 209.4,806.6 207.9,806.8 206.3,806.9 204.7,807 203.2,807.1 201.6,807.2 200.1,807.3 198.5,807.3 196.9,807.3 195.4,807.3 193.8,807.3 192.2,807.2 190.7,807.2 189.1,807.1 187.5,806.9 186,806.8 184.4,806.7 182.9,806.5 181.3,806.3 179.7,806 178.2,805.8 176.6,805.5 175.1,805.3 173.5,804.9 172,804.6 170.4,804.3 168.9,803.9 167.4,803.5 165.8,803.1 164.3,802.7 162.8,802.2 161.3,801.7 159.8,801.2 158.3,800.7 156.8,800.2 155.3,799.6 153.8,799 152.3,798.4 150.9,797.8 149.4,797.2 147.9,796.5 146.5,795.8 145,795.1 143.6,794.4 142.2,793.7 140.8,792.9 139.4,792.2 138,791.4 136.6,790.6 135.2,789.7 133.8,788.9 132.5,788 131.1,787.1 129.8,786.2 128.4,785.3 127.1,784.3 125.8,783.4 124.5,782.4 123.2,781.4 122,780.4 120.7,779.4 119.5,778.3 118.2,777.3 117,776.2 115.8,775.1 114.6,774 113.4,772.9 112.3,771.7 111.1,770.6 110,769.4 108.8,768.2 107.7,767 106.6,765.8 105.5,764.5 104.5,763.3 103.4,762 102.4,760.8 101.4,759.5 100.3,758.2 99.4,756.9 98.4,755.5 97.4,754.2 96.5,752.8 95.5,751.5 94.6,750.1 93.7,748.7 92.9,747.3 92,745.9 91.2,744.5 90.3,743 89.5,741.6 88.7,740.1 88,738.7 87.2,737.2 86.5,735.7 85.8,734.2 85.1,732.7 84.4,731.2 83.7,729.7 83.1,728.2 82.5,726.6 81.8,725.1 81.3,723.5 80.7,722 80.1,720.4 79.6,718.8 79.1,717.3 78.6,715.7 78.1,714.1 77.7,712.5 77.3,710.9 76.8,709.3 76.4,707.7 76.1,706 75.7,704.4 75.4,702.8 75.1,701.2 74.8,699.5 74.5,697.9 74.3,696.3 74,694.6 73.8,693 73.6,691.3 73.4,689.7 73.3,688 73.2,686.4 73.1,684.7 73,683.1 72.9,681.4 72.8,679.8 72.8,678.1 72.8,676.5 72.8,674.8 72.9,673.2 72.9,671.5 73,669.9 73.1,668.2 73.2,666.6 73.3,665 73.5,663.3 73.7,661.7 73.9,660.1 74.1,658.4 74.3,656.8 74.6,655.2 74.8,653.6 75.1,652 75.5,650.4 75.8,648.8 76.2,647.2 76.5,645.6 76.9,644 77.3,642.4 77.8,640.9 78.2,639.3 78.7,637.8 79.2,636.2 79.7,634.7 80.3,633.1 80.8,631.6 81.4,630.1 82,628.6 82.6,627.1 83.2,625.6 83.9,624.1 84.5,622.7 85.2,621.2 85.9,619.8 86.6,618.3 87.4,616.9 88.1,615.5 88.9,614.1 89.7,612.7 90.5,611.3 91.3,609.9 92.2,608.6 93.1,607.2 93.9,605.9 94.8,604.6 95.7,603.3 96.7,602 97.6,600.7 98.6,599.4 99.6,598.2 100.6,597 101.6,595.7 102.6,594.5 103.6,593.3 104.7,592.2 105.8,591 106.9,589.8 108,588.7 109.1,587.6 110.2,586.5 111.3,585.4 112.5,584.3 113.7,583.3 114.9,582.3 116.1,581.2 117.3,580.2 118.5,579.3 119.7,578.3 121,577.3 122.2,576.4 123.5,575.5 124.8,574.6 126.1,573.7 127.4,572.9 128.7,572 130.1,571.2 131.4,570.4 132.8,569.6 134.1,568.9 135.5,568.1 136.9,567.4 138.3,566.7 139.7,566 141.1,565.4 142.5,564.7 143.9,564.1 145.4,563.5 146.8,562.9 148.2,562.3 149.7,561.8 151.2,561.3 152.6,560.8 154.1,560.3Z"/></clipPath>
<clipPath id="ce3"><path d="M150.3,559 151.5,558.6 152.6,558.3 153.8,557.9 155,557.6 156.2,557.3 157.4,557 158.6,556.7 159.8,556.4 161,556.2 162.2,556 163.5,555.8 164.7,555.6 165.9,555.5 167.2,555.4 168.4,555.3 169.7,555.2 170.9,555.1 172.2,555.1 173.4,555.1 174.7,555.1 176,555.1 177.2,555.1 178.5,555.2 179.8,555.3 181.1,555.4 182.3,555.5 183.6,555.7 184.9,555.9 186.2,556.1 187.5,556.3 188.8,556.5 190,556.8 191.3,557.1 192.6,557.4 193.9,557.7 195.2,558 196.5,558.4 197.8,558.8 199.1,559.2 200.3,559.6 201.6,560.1 202.9,560.5 204.2,561 205.5,561.5 206.7,562 208,562.6 209.3,563.2 210.5,563.7 211.8,564.4 213.1,565 214.3,565.6 215.6,566.3 216.8,567 218.1,567.7 219.3,568.4 220.6,569.2 221.8,569.9 223,570.7 224.2,571.5 225.5,572.3 226.7,573.2 227.9,574 229.1,574.9 230.3,575.8 231.5,576.7 232.6,577.6 233.8,578.6 235,579.5 236.1,580.5 237.3,581.5 238.4,582.5 239.6,583.6 240.7,584.6 241.8,585.7 242.9,586.7 244,587.8 245.1,588.9 246.2,590.1 247.3,591.2 248.4,592.4 249.4,593.5 250.5,594.7 251.5,595.9 252.5,597.1 253.5,598.4 254.5,599.6 255.5,600.9 256.5,602.1 257.5,603.4 258.5,604.7 259.4,606 260.4,607.4 261.3,608.7 262.2,610 263.1,611.4 264,612.8 264.9,614.1 265.8,615.5 266.6,616.9 267.5,618.4 268.3,619.8 269.1,621.2 269.9,622.7 270.7,624.1 271.5,625.6 272.2,627.1 273,628.5 273.7,630 274.5,631.5 275.2,633.1 275.9,634.6 276.5,636.1 277.2,637.6 277.9,639.2 278.5,640.7 279.1,642.3 279.7,643.8 280.3,645.4 280.9,647 281.5,648.5 282,650.1 282.6,651.7 283.1,653.3 283.6,654.9 284.1,656.5 284.5,658.1 285,659.7 285.4,661.3 285.8,662.9 286.3,664.6 286.6,666.2 287,667.8 287.4,669.4 287.7,671.1 288.1,672.7 288.4,674.3 288.7,676 288.9,677.6 289.2,679.2 289.4,680.8 289.7,682.5 289.9,684.1 290.1,685.7 290.2,687.4 290.4,689 290.6,690.6 290.7,692.2 290.8,693.9 290.9,695.5 291,697.1 291,698.7 291.1,700.3 291.1,701.9 291.1,703.5 291.1,705.1 291.1,706.7 291,708.3 291,709.9 290.9,711.5 290.8,713.1 290.7,714.6 290.6,716.2 290.4,717.8 290.3,719.3 290.1,720.9 289.9,722.4 289.7,723.9 289.5,725.5 289.2,727 289,728.5 288.7,730 288.4,731.5 288.1,732.9 287.8,734.4 287.5,735.9 287.1,737.3 286.7,738.8 286.3,740.2 285.9,741.6 285.5,743 285.1,744.4 284.6,745.8 284.2,747.2 283.7,748.6 283.2,749.9 282.7,751.3 282.1,752.6 281.6,753.9 281,755.2 280.4,756.5 279.9,757.8 279.3,759.1 278.6,760.3 278,761.6 277.3,762.8 276.7,764 276,765.2 275.3,766.4 274.6,767.5 273.9,768.7 273.1,769.8 272.4,770.9 271.6,772 270.9,773.1 270.1,774.2 269.3,775.3 268.5,776.3 267.6,777.3 266.8,778.3 265.9,779.3 265.1,780.3 264.2,781.3 263.3,782.2 262.4,783.1 261.5,784 260.5,784.9 259.6,785.8 258.7,786.6 257.7,787.5 256.7,788.3 255.7,789.1 254.7,789.8 253.7,790.6 252.7,791.3 251.7,792.1 250.7,792.8 249.6,793.4 248.6,794.1 247.5,794.7 246.4,795.4 245.3,796 244.3,796.5 243.2,797.1 242,797.6 240.9,798.2 239.8,798.7 238.7,799.1 237.5,799.6 236.4,800 235.2,800.5 234,800.9 232.9,801.2 231.7,801.6 230.5,801.9 229.3,802.2 228.1,802.5 226.9,802.8 225.7,803.1 224.5,803.3 223.3,803.5 222,803.7 220.8,803.9 219.6,804 218.3,804.1 217.1,804.2 215.8,804.3 214.6,804.4 213.3,804.4 212.1,804.4 210.8,804.4 209.5,804.4 208.3,804.4 207,804.3 205.7,804.2 204.4,804.1 203.2,804 201.9,803.8 200.6,803.6 199.3,803.4 198,803.2 196.7,803 195.5,802.7 194.2,802.4 192.9,802.1 191.6,801.8 190.3,801.5 189,801.1 187.7,800.7 186.4,800.3 185.2,799.9 183.9,799.4 182.6,799 181.3,798.5 180,798 178.8,797.5 177.5,796.9 176.2,796.3 175,795.8 173.7,795.1 172.4,794.5 171.2,793.9 169.9,793.2 168.7,792.5 167.4,791.8 166.2,791.1 164.9,790.3 163.7,789.6 162.5,788.8 161.3,788 160,787.2 158.8,786.3 157.6,785.5 156.4,784.6 155.2,783.7 154,782.8 152.9,781.9 151.7,780.9 150.5,780 149.4,779 148.2,778 147.1,777 145.9,775.9 144.8,774.9 143.7,773.8 142.6,772.8 141.5,771.7 140.4,770.6 139.3,769.4 138.2,768.3 137.1,767.1 136.1,766 135,764.8 134,763.6 133,762.4 132,761.1 131,759.9 130,758.6 129,757.4 128,756.1 127,754.8 126.1,753.5 125.1,752.1 124.2,750.8 123.3,749.5 122.4,748.1 121.5,746.7 120.6,745.4 119.7,744 118.9,742.6 118,741.1 117.2,739.7 116.4,738.3 115.6,736.8 114.8,735.4 114,733.9 113.3,732.4 112.5,731 111.8,729.5 111,728 110.3,726.4 109.6,724.9 109,723.4 108.3,721.9 107.6,720.3 107,718.8 106.4,717.2 105.8,715.7 105.2,714.1 104.6,712.5 104,711 103.5,709.4 102.9,707.8 102.4,706.2 101.9,704.6 101.4,703 101,701.4 100.5,699.8 100.1,698.2 99.7,696.6 99.2,694.9 98.9,693.3 98.5,691.7 98.1,690.1 97.8,688.4 97.4,686.8 97.1,685.2 96.8,683.5 96.6,681.9 96.3,680.3 96.1,678.7 95.8,677 95.6,675.4 95.4,673.8 95.3,672.1 95.1,670.5 94.9,668.9 94.8,667.3 94.7,665.6 94.6,664 94.5,662.4 94.5,660.8 94.4,659.2 94.4,657.6 94.4,656 94.4,654.4 94.4,652.8 94.5,651.2 94.5,649.6 94.6,648 94.7,646.4 94.8,644.9 94.9,643.3 95.1,641.7 95.2,640.2 95.4,638.6 95.6,637.1 95.8,635.6 96,634 96.3,632.5 96.5,631 96.8,629.5 97.1,628 97.4,626.6 97.7,625.1 98,623.6 98.4,622.2 98.8,620.7 99.2,619.3 99.6,617.9 100,616.5 100.4,615.1 100.9,613.7 101.3,612.3 101.8,610.9 102.3,609.6 102.8,608.2 103.4,606.9 103.9,605.6 104.5,604.3 105.1,603 105.6,601.7 106.2,600.4 106.9,599.2 107.5,597.9 108.2,596.7 108.8,595.5 109.5,594.3 110.2,593.1 110.9,592 111.6,590.8 112.4,589.7 113.1,588.6 113.9,587.5 114.6,586.4 115.4,585.3 116.2,584.2 117,583.2 117.9,582.2 118.7,581.2 119.6,580.2 120.4,579.2 121.3,578.2 122.2,577.3 123.1,576.4 124,575.5 125,574.6 125.9,573.7 126.8,572.9 127.8,572 128.8,571.2 129.8,570.4 130.8,569.7 131.8,568.9 132.8,568.2 133.8,567.4 134.8,566.7 135.9,566.1 136.9,565.4 138,564.8 139.1,564.1 140.2,563.5 141.2,563 142.3,562.4 143.5,561.9 144.6,561.3 145.7,560.8 146.8,560.4 148,559.9 149.1,559.5Z"/></clipPath>
<clipPath id="cr3"><path d="M154.6,577.6 155.6,577.2 156.6,576.9 157.6,576.6 158.6,576.3 159.6,576.1 160.6,575.8 161.7,575.6 162.7,575.4 163.8,575.2 164.8,575 165.9,574.9 166.9,574.7 168,574.6 169,574.5 170.1,574.4 171.2,574.3 172.2,574.3 173.3,574.3 174.4,574.3 175.5,574.3 176.6,574.3 177.7,574.3 178.8,574.4 179.8,574.5 180.9,574.6 182,574.7 183.1,574.8 184.2,575 185.3,575.1 186.4,575.3 187.5,575.5 188.6,575.8 189.7,576 190.8,576.3 191.9,576.5 193,576.8 194.1,577.2 195.2,577.5 196.3,577.8 197.4,578.2 198.5,578.6 199.6,579 200.7,579.4 201.8,579.9 202.9,580.3 204,580.8 205.1,581.3 206.2,581.8 207.2,582.3 208.3,582.8 209.4,583.4 210.5,584 211.5,584.6 212.6,585.2 213.6,585.8 214.7,586.4 215.8,587.1 216.8,587.7 217.8,588.4 218.9,589.1 219.9,589.9 220.9,590.6 222,591.3 223,592.1 224,592.9 225,593.7 226,594.5 227,595.3 228,596.1 229,597 229.9,597.9 230.9,598.8 231.9,599.6 232.8,600.6 233.8,601.5 234.7,602.4 235.6,603.4 236.6,604.3 237.5,605.3 238.4,606.3 239.3,607.3 240.2,608.3 241.1,609.3 241.9,610.4 242.8,611.4 243.7,612.5 244.5,613.6 245.3,614.7 246.2,615.8 247,616.9 247.8,618 248.6,619.1 249.4,620.3 250.2,621.4 250.9,622.6 251.7,623.8 252.4,624.9 253.2,626.1 253.9,627.3 254.6,628.5 255.3,629.8 256,631 256.7,632.2 257.4,633.5 258,634.7 258.7,636 259.3,637.3 259.9,638.5 260.5,639.8 261.1,641.1 261.7,642.4 262.3,643.7 262.9,645 263.4,646.3 264,647.7 264.5,649 265,650.3 265.5,651.6 266,653 266.5,654.3 266.9,655.7 267.4,657 267.8,658.4 268.2,659.8 268.6,661.1 269,662.5 269.4,663.9 269.8,665.3 270.1,666.6 270.5,668 270.8,669.4 271.1,670.8 271.4,672.2 271.7,673.6 272,675 272.2,676.4 272.5,677.8 272.7,679.1 272.9,680.5 273.1,681.9 273.3,683.3 273.5,684.7 273.6,686.1 273.8,687.5 273.9,688.9 274,690.3 274.1,691.7 274.2,693.1 274.3,694.4 274.3,695.8 274.4,697.2 274.4,698.6 274.4,699.9 274.4,701.3 274.4,702.7 274.4,704 274.3,705.4 274.3,706.8 274.2,708.1 274.1,709.4 274,710.8 273.9,712.1 273.8,713.4 273.6,714.8 273.5,716.1 273.3,717.4 273.1,718.7 272.9,720 272.7,721.3 272.5,722.6 272.2,723.9 272,725.1 271.7,726.4 271.4,727.6 271.1,728.9 270.8,730.1 270.5,731.4 270.1,732.6 269.8,733.8 269.4,735 269,736.2 268.6,737.4 268.2,738.6 267.8,739.7 267.4,740.9 266.9,742 266.4,743.2 266,744.3 265.5,745.4 265,746.5 264.5,747.6 263.9,748.7 263.4,749.7 262.9,750.8 262.3,751.8 261.7,752.9 261.1,753.9 260.5,754.9 259.9,755.9 259.3,756.9 258.7,757.8 258,758.8 257.3,759.7 256.7,760.6 256,761.6 255.3,762.5 254.6,763.3 253.9,764.2 253.2,765.1 252.4,765.9 251.7,766.7 250.9,767.6 250.1,768.4 249.4,769.1 248.6,769.9 247.8,770.7 247,771.4 246.2,772.1 245.3,772.8 244.5,773.5 243.6,774.2 242.8,774.9 241.9,775.5 241,776.1 240.2,776.7 239.3,777.3 238.4,777.9 237.5,778.5 236.5,779 235.6,779.5 234.7,780 233.8,780.5 232.8,781 231.9,781.5 230.9,781.9 229.9,782.3 228.9,782.7 228,783.1 227,783.5 226,783.9 225,784.2 224,784.5 223,784.8 221.9,785.1 220.9,785.4 219.9,785.6 218.9,785.8 217.8,786.1 216.8,786.2 215.7,786.4 214.7,786.6 213.6,786.7 212.6,786.8 211.5,786.9 210.4,787 209.4,787.1 208.3,787.1 207.2,787.2 206.1,787.2 205.1,787.2 204,787.1 202.9,787.1 201.8,787 200.7,787 199.6,786.9 198.5,786.8 197.4,786.6 196.3,786.5 195.2,786.3 194.1,786.1 193,785.9 191.9,785.7 190.8,785.4 189.7,785.2 188.6,784.9 187.5,784.6 186.4,784.3 185.3,783.9 184.2,783.6 183.1,783.2 182,782.8 180.9,782.4 179.8,782 178.7,781.6 177.6,781.1 176.6,780.7 175.5,780.2 174.4,779.7 173.3,779.1 172.2,778.6 171.2,778.1 170.1,777.5 169,776.9 168,776.3 166.9,775.7 165.8,775 164.8,774.4 163.7,773.7 162.7,773 161.7,772.3 160.6,771.6 159.6,770.9 158.6,770.1 157.6,769.3 156.5,768.6 155.5,767.8 154.5,767 153.5,766.1 152.6,765.3 151.6,764.4 150.6,763.6 149.6,762.7 148.7,761.8 147.7,760.9 146.8,760 145.8,759 144.9,758.1 144,757.1 143.1,756.1 142.2,755.1 141.3,754.1 140.4,753.1 139.5,752.1 138.6,751.1 137.7,750 136.9,748.9 136,747.9 135.2,746.8 134.4,745.7 133.6,744.6 132.7,743.4 131.9,742.3 131.2,741.2 130.4,740 129.6,738.9 128.9,737.7 128.1,736.5 127.4,735.3 126.6,734.1 125.9,732.9 125.2,731.7 124.5,730.4 123.8,729.2 123.2,728 122.5,726.7 121.9,725.5 121.2,724.2 120.6,722.9 120,721.6 119.4,720.3 118.8,719 118.2,717.7 117.7,716.4 117.1,715.1 116.6,713.8 116.1,712.5 115.5,711.1 115,709.8 114.6,708.4 114.1,707.1 113.6,705.7 113.2,704.4 112.7,703 112.3,701.7 111.9,700.3 111.5,698.9 111.1,697.6 110.8,696.2 110.4,694.8 110.1,693.4 109.8,692 109.4,690.6 109.1,689.3 108.9,687.9 108.6,686.5 108.3,685.1 108.1,683.7 107.9,682.3 107.6,680.9 107.4,679.5 107.3,678.1 107.1,676.7 106.9,675.3 106.8,673.9 106.7,672.5 106.5,671.2 106.4,669.8 106.3,668.4 106.3,667 106.2,665.6 106.2,664.2 106.1,662.9 106.1,661.5 106.1,660.1 106.1,658.8 106.2,657.4 106.2,656 106.3,654.7 106.4,653.3 106.4,652 106.5,650.7 106.7,649.3 106.8,648 106.9,646.7 107.1,645.4 107.3,644 107.4,642.7 107.6,641.4 107.9,640.1 108.1,638.9 108.3,637.6 108.6,636.3 108.9,635 109.1,633.8 109.4,632.5 109.8,631.3 110.1,630.1 110.4,628.9 110.8,627.6 111.1,626.4 111.5,625.2 111.9,624.1 112.3,622.9 112.8,621.7 113.2,620.6 113.6,619.4 114.1,618.3 114.6,617.2 115.1,616.1 115.6,615 116.1,613.9 116.6,612.8 117.1,611.7 117.7,610.7 118.2,609.6 118.8,608.6 119.4,607.6 120,606.6 120.6,605.6 121.2,604.6 121.9,603.6 122.5,602.7 123.2,601.7 123.9,600.8 124.5,599.9 125.2,599 125.9,598.1 126.7,597.2 127.4,596.4 128.1,595.5 128.9,594.7 129.6,593.9 130.4,593.1 131.2,592.3 132,591.5 132.8,590.8 133.6,590 134.4,589.3 135.2,588.6 136.1,587.9 136.9,587.2 137.8,586.6 138.6,585.9 139.5,585.3 140.4,584.7 141.3,584.1 142.2,583.5 143.1,583 144,582.4 144.9,581.9 145.8,581.4 146.8,580.9 147.7,580.4 148.7,580 149.6,579.5 150.6,579.1 151.6,578.7 152.6,578.3 153.6,577.9Z"/></clipPath></defs>
<rect width="327" height="807" fill="#fff"/>
<path d="M80.4,135.4 80.2,134 80,132.7 79.8,131.3 79.6,129.9 79.4,128.5 79.2,127.1 79.1,125.7 78.9,124.3 78.8,122.9 78.6,121.5 78.5,120.1 78.4,118.7 78.3,117.2 78.2,115.8 78.1,114.3 78,112.9 77.9,111.4 77.8,109.9 77.7,108.4 77.6,106.9 77.6,105.4 77.5,103.9 77.5,102.3 77.4,100.8 77.4,99.2 77.3,97.6 77.3,96.1 77.3,94.5 77.3,92.8 77.3,91.2 77.3,89.6 77.4,88 77.5,86.3 77.6,84.7 77.8,83 77.9,81.4 78.1,79.7 78.3,78.1 78.6,76.4 78.8,74.7 79.1,73 79.4,71.3 79.7,69.6 80.1,67.9 80.4,66.3 80.9,64.6 81.3,62.9 81.8,61.2 82.4,59.6 82.9,57.9 83.5,56.3 84.2,54.6 84.8,53 85.5,51.4 86.2,49.7 87,48.1 87.8,46.5 88.6,44.9 89.4,43.3 90.3,41.8 91.3,40.3 92.2,38.8 93.3,37.3 94.4,35.9 95.5,34.5 96.6,33.2 97.8,31.9 99,30.6 100.3,29.3 101.6,28.1 102.9,26.9 104.3,25.8 105.7,24.8 107.3,23.9 108.9,23.1 110.5,22.4 112.2,21.7 113.9,21.1 115.6,20.6 117.3,20 119,19.6 120.8,19.2 122.6,18.8 124.3,18.4 126,18 127.7,17.6 129.3,17.1 130.9,16.4 132.5,15.8 134,15 135.6,14.3 137.1,13.6 138.7,12.9 140.3,12.3 142,11.8 143.6,11.4 145.3,11 146.9,10.6 148.6,10.3 150.3,9.9 152,9.7 153.6,9.4 155.3,9.1 157,8.9 158.7,8.7 160.4,8.5 162.1,8.3 163.7,8.1 165.4,8 167.1,7.8 168.8,7.7 170.5,7.6 172.2,7.5 173.8,7.4 175.5,7.4 177.2,7.3 178.9,7.3 180.5,7.2 182.2,7.2 183.9,7.2 185.6,7.3 187.3,7.3 188.9,7.4 190.6,7.5 192.3,7.6 193.9,7.8 195.6,7.9 197.3,8.1 198.9,8.3 200.6,8.6 202.2,8.9 203.9,9.2 205.5,9.5 207.2,9.8 208.8,10.2 210.4,10.6 212,11 213.7,11.5 215.3,11.9 216.8,12.5 218.4,13 220,13.6 221.5,14.2 223.1,14.8 224.6,15.4 226.2,16 227.8,16.5 229.4,16.9 231,17.3 232.6,17.7 234.3,18 236,18.3 237.8,18.5 239.5,18.7 241.3,19 243.1,19.2 244.9,19.5 246.7,19.8 248.5,20.1 250.2,20.5 251.9,21 253.6,21.6 255.3,22.3 256.9,23 258.4,23.8 260,24.7 261.5,25.6 263,26.5 264.5,27.4 266,28.3 267.5,29.3 269,30.3 270.4,31.3 271.9,32.3 273.3,33.4 274.8,34.4 276.2,35.5 277.7,36.6 279.1,37.7 280.5,38.8 281.9,39.9 283.2,41.1 284.6,42.3 285.9,43.5 287.2,44.7 288.6,46 289.8,47.3 291.1,48.6 292.4,49.9 293.6,51.2 294.9,52.5 296.1,53.9 297.2,55.3 298.4,56.7 299.5,58.2 300.6,59.6 301.7,61.1 302.8,62.5 303.9,64 304.9,65.5 306,67 307,68.5 308,70.1 309,71.6 310,73.2 310.9,74.8 311.8,76.4 312.7,78 313.6,79.7 314.4,81.3 315.1,83 315.8,84.7 316.4,86.5 317,88.3 317.5,90 317.9,91.9 318.2,93.7 318.5,95.5 318.8,97.3 319,99.2 319.2,101 319.4,102.8 319.6,104.7 319.7,106.5 319.9,108.3 320,110.2 320.1,112 320.2,113.8 320.3,115.6 320.4,117.4 320.4,119.2 320.5,121 320.6,122.8 320.6,124.6 320.7,126.4 320.7,128.2 320.8,130 320.9,131.8 320.9,133.6 320.9,135.4 321,137.2 321,139 320.9,140.8 320.9,142.6 320.8,144.4 320.7,146.1 320.5,147.9 320.3,149.7 320.1,151.5 319.8,153.3 319.6,155.1 319.3,156.8 319,158.6 318.6,160.3 318.3,162.1 317.9,163.9 317.5,165.6 317.1,167.4 316.7,169.1 316.2,170.8 315.8,172.6 315.3,174.3 314.8,176 314.3,177.8 313.8,179.5 313.3,181.2 312.7,182.9 312.2,184.6 311.6,186.3 311.1,188.1 310.5,189.8 309.9,191.5 309.3,193.2 308.7,194.9 308,196.6 307.3,198.3 306.6,199.9 305.9,201.6 305.1,203.2 304.2,204.9 303.4,206.5 302.5,208 301.5,209.6 300.5,211.1 299.5,212.6 298.4,214.1 297.3,215.5 296.2,217 295.1,218.4 293.9,219.8 292.8,221.2 291.6,222.6 290.4,223.9 289.2,225.3 288,226.6 286.7,228 285.5,229.3 284.3,230.6 283,231.9 281.8,233.2 280.5,234.6 279.3,235.9 278,237.2 276.7,238.5 275.5,239.8 274.2,241.1 272.9,242.4 271.6,243.7 270.3,245 269,246.2 267.6,247.5 266.2,248.7 264.8,249.9 263.4,251 261.9,252.2 260.5,253.3 258.9,254.3 257.4,255.3 255.8,256.3 254.3,257.2 252.6,258.1 251,259 249.3,259.8 247.7,260.5 246,261.2 244.2,261.9 242.5,262.5 240.8,263.1 239,263.7 237.3,264.2 235.5,264.7 233.7,265.1 231.9,265.5 230.1,265.9 228.3,266.3 226.5,266.6 224.7,266.9 222.9,267.1 221.1,267.4 219.3,267.6 217.5,267.8 215.7,268 214,268.2 212.2,268.4 210.4,268.5 208.6,268.6 206.8,268.6 205,268.6 203.2,268.5 201.4,268.4 199.6,268.2 197.8,268 196.1,267.7 194.3,267.4 192.5,267 190.8,266.7 189,266.3 187.3,265.8 185.6,265.4 183.9,264.9 182.2,264.4 180.5,263.8 178.9,263.3 177.2,262.6 175.6,262 174,261.3 172.4,260.6 170.8,259.9 169.3,259.1 167.7,258.3 166.2,257.4 164.7,256.6 163.2,255.8 161.7,254.9 160.3,254.1 158.9,253.2 157.4,252.3 156,251.5 154.6,250.6 153.2,249.8 151.9,249 150.5,248.1 149.1,247.3 147.8,246.5 146.5,245.5 145.2,244.6 144,243.6 142.8,242.5 141.6,241.4 140.4,240.3 139.3,239.3 138.1,238.2 137,237.1 135.9,236 134.8,234.9 133.7,233.8 132.7,232.8 131.6,231.7 130.6,230.6 129.5,229.5 128.5,228.5 127.5,227.4 126.5,226.3 125.5,225.3 124.6,224.2 123.6,223.1 122.6,222 121.7,221 120.8,219.9 119.9,218.8 119,217.7 118.1,216.6 117.2,215.5 116.4,214.5 115.5,213.4 114.7,212.3 113.8,211.2 113,210.1 112.2,209 111.4,207.9 110.6,206.8 109.8,205.7 109.1,204.6 108.3,203.5 107.5,202.3 106.8,201.2 106.1,200.1 105.3,199 104.6,197.9 103.9,196.8 103.2,195.7 102.5,194.5 101.8,193.4 101.2,192.2 100.5,191.1 99.9,190 99.2,188.8 98.6,187.7 98,186.5 97.4,185.3 96.8,184.2 96.2,183 95.6,181.8 95,180.7 94.4,179.5 93.8,178.3 93.3,177.2 92.7,176 92.2,174.8 91.6,173.6 91.1,172.4 90.5,171.2 90,170 89.4,168.8 88.9,167.6 88.4,166.4 88,165.2 87.5,163.9 87.1,162.7 86.7,161.4 86.3,160.2 86,158.9 85.6,157.6 85.3,156.3 84.9,155.1 84.6,153.8 84.2,152.5 83.9,151.2 83.6,149.9 83.3,148.6 83,147.3 82.6,146 82.3,144.7 82,143.4 81.8,142.1 81.5,140.7 81.2,139.4 80.9,138.1 80.7,136.7Z" fill="#7d7de8" stroke="#2a2a55" stroke-width="0.6"/>
<path d="M84.7,135.4 84.5,134.1 84.3,132.8 84.1,131.5 83.9,130.1 83.8,128.8 83.6,127.5 83.5,126.2 83.3,124.8 83.2,123.5 83.1,122.1 83,120.7 82.9,119.4 82.8,118 82.7,116.6 82.6,115.2 82.5,113.8 82.5,112.4 82.4,111 82.4,109.6 82.3,108.2 82.3,106.7 82.3,105.3 82.3,103.8 82.3,102.4 82.3,100.9 82.3,99.4 82.3,97.9 82.4,96.4 82.4,94.9 82.5,93.4 82.6,91.9 82.7,90.3 82.9,88.8 83,87.3 83.2,85.7 83.4,84.2 83.6,82.6 83.9,81.1 84.1,79.5 84.4,77.9 84.7,76.4 85,74.8 85.3,73.2 85.7,71.6 86.1,70 86.5,68.4 86.9,66.8 87.3,65.2 87.8,63.6 88.3,62 88.8,60.4 89.4,58.8 90,57.2 90.6,55.7 91.2,54.1 91.8,52.5 92.5,50.9 93.3,49.4 94,47.8 94.8,46.3 95.7,44.8 96.5,43.3 97.5,41.9 98.4,40.4 99.4,39 100.4,37.7 101.5,36.3 102.6,35 103.7,33.7 104.9,32.4 106,31.1 107.3,29.9 108.5,28.7 109.9,27.6 111.2,26.6 112.6,25.6 114.1,24.7 115.6,23.9 117.1,23 118.6,22.2 120.1,21.5 121.7,20.8 123.3,20.2 124.9,19.6 126.5,19 128.1,18.4 129.7,17.8 131.3,17.2 132.8,16.5 134.4,15.9 136,15.3 137.6,14.7 139.2,14.2 140.8,13.7 142.4,13.2 144.1,12.8 145.7,12.4 147.4,12.1 149,11.7 150.7,11.4 152.3,11.1 154,10.8 155.7,10.6 157.3,10.3 159,10.1 160.6,9.9 162.3,9.7 164,9.5 165.6,9.4 167.3,9.2 169,9.1 170.6,9 172.3,8.9 173.9,8.8 175.6,8.7 177.3,8.7 178.9,8.6 180.6,8.6 182.2,8.6 183.9,8.6 185.6,8.6 187.2,8.7 188.9,8.7 190.5,8.8 192.2,9 193.8,9.1 195.5,9.3 197.1,9.4 198.8,9.7 200.4,9.9 202.1,10.2 203.7,10.5 205.3,10.8 206.9,11.1 208.6,11.5 210.2,11.8 211.8,12.2 213.4,12.6 215,13.1 216.5,13.6 218.1,14.1 219.7,14.6 221.2,15.1 222.8,15.7 224.3,16.2 225.9,16.8 227.5,17.3 229,17.8 230.6,18.3 232.2,18.7 233.8,19.1 235.5,19.6 237.1,20 238.7,20.4 240.4,20.8 242,21.3 243.7,21.7 245.3,22.2 247,22.7 248.6,23.3 250.2,23.9 251.8,24.6 253.3,25.3 254.8,26.1 256.3,27 257.8,27.9 259.2,28.8 260.7,29.7 262,30.7 263.4,31.8 264.7,32.8 266.1,33.9 267.3,35 268.6,36.2 269.9,37.4 271.1,38.6 272.3,39.8 273.5,41 274.7,42.2 275.8,43.5 277,44.7 278.1,46 279.2,47.3 280.3,48.6 281.4,49.9 282.5,51.2 283.6,52.5 284.7,53.8 285.8,55.1 286.8,56.4 287.9,57.7 289,59 290,60.4 291,61.8 292,63.1 293.1,64.5 294.1,65.9 295.1,67.3 296,68.7 297,70.1 298,71.5 298.9,72.9 299.8,74.4 300.7,75.9 301.6,77.3 302.4,78.8 303.2,80.4 304,81.9 304.8,83.5 305.5,85 306.1,86.6 306.7,88.2 307.3,89.9 307.8,91.5 308.2,93.2 308.6,94.9 309,96.5 309.3,98.2 309.6,99.9 309.8,101.6 310,103.3 310.2,105.1 310.4,106.8 310.6,108.5 310.7,110.1 310.9,111.8 311,113.5 311.1,115.2 311.3,116.9 311.4,118.6 311.5,120.3 311.6,122 311.7,123.6 311.7,125.3 311.8,127 311.9,128.7 312,130.3 312,132 312.1,133.7 312.2,135.4 312.2,137.1 312.2,138.7 312.2,140.4 312.2,142.1 312.2,143.8 312.1,145.5 312.1,147.2 312,148.8 311.8,150.5 311.7,152.2 311.5,153.9 311.3,155.6 311.1,157.2 310.9,158.9 310.6,160.6 310.3,162.3 310,163.9 309.7,165.6 309.4,167.2 309,168.9 308.6,170.6 308.2,172.2 307.8,173.8 307.3,175.5 306.8,177.1 306.4,178.7 305.8,180.4 305.3,182 304.8,183.6 304.2,185.2 303.7,186.8 303.1,188.4 302.4,190 301.8,191.6 301.1,193.2 300.5,194.8 299.8,196.3 299,197.9 298.3,199.4 297.5,200.9 296.6,202.5 295.8,204 294.9,205.4 294,206.9 293.1,208.3 292.1,209.8 291.2,211.2 290.2,212.6 289.1,214 288.1,215.3 287,216.7 285.9,218 284.8,219.3 283.7,220.6 282.6,221.9 281.4,223.2 280.2,224.4 279.1,225.7 277.9,226.9 276.7,228.1 275.4,229.3 274.2,230.6 273,231.7 271.7,232.9 270.5,234.1 269.2,235.3 268,236.5 266.7,237.6 265.4,238.8 264.1,239.9 262.8,241.1 261.5,242.2 260.2,243.3 258.8,244.4 257.5,245.5 256.1,246.5 254.7,247.6 253.3,248.6 251.8,249.6 250.4,250.6 248.9,251.5 247.4,252.4 245.9,253.3 244.4,254.1 242.8,254.8 241.2,255.6 239.6,256.3 238,256.9 236.4,257.5 234.7,258 233,258.6 231.4,259 229.7,259.5 228,259.8 226.3,260.2 224.6,260.5 222.9,260.8 221.1,261.1 219.4,261.4 217.7,261.6 216,261.8 214.3,262 212.6,262.2 210.9,262.3 209.2,262.5 207.5,262.5 205.8,262.6 204.1,262.6 202.3,262.6 200.6,262.5 198.9,262.4 197.2,262.3 195.5,262.1 193.9,261.8 192.2,261.5 190.5,261.2 188.8,260.8 187.2,260.4 185.5,260 183.9,259.5 182.3,259 180.7,258.5 179.1,257.9 177.5,257.3 176,256.7 174.4,256 172.9,255.3 171.4,254.6 169.9,253.9 168.4,253.2 166.9,252.4 165.5,251.7 164.1,250.9 162.6,250.1 161.2,249.3 159.8,248.5 158.5,247.7 157.1,247 155.8,246.2 154.4,245.4 153.1,244.6 151.8,243.8 150.5,243.1 149.2,242.3 147.9,241.5 146.6,240.6 145.4,239.8 144.2,238.9 143,237.9 141.8,237 140.7,236 139.5,235.1 138.4,234.1 137.3,233.1 136.2,232.1 135.1,231.1 134.1,230.1 133,229 132,228 131,227 130,225.9 129.1,224.8 128.1,223.8 127.2,222.7 126.3,221.6 125.3,220.6 124.4,219.5 123.5,218.5 122.7,217.4 121.8,216.3 120.9,215.2 120.1,214.2 119.3,213.1 118.4,212 117.6,211 116.8,209.9 116,208.8 115.2,207.8 114.4,206.7 113.6,205.6 112.9,204.6 112.1,203.5 111.4,202.4 110.6,201.3 109.9,200.3 109.2,199.2 108.5,198.1 107.8,197 107.1,195.9 106.4,194.9 105.7,193.8 105.1,192.7 104.4,191.6 103.8,190.4 103.2,189.3 102.5,188.2 101.9,187.1 101.3,186 100.8,184.8 100.2,183.7 99.6,182.6 99.1,181.4 98.5,180.3 98,179.1 97.5,178 97,176.8 96.5,175.7 96,174.5 95.5,173.4 95,172.2 94.5,171 94,169.9 93.5,168.7 93.1,167.5 92.6,166.4 92.2,165.2 91.8,164 91.4,162.8 91,161.6 90.6,160.4 90.2,159.2 89.9,157.9 89.5,156.7 89.2,155.5 88.9,154.3 88.5,153.1 88.2,151.8 87.9,150.6 87.6,149.3 87.3,148.1 87,146.9 86.7,145.6 86.4,144.3 86.1,143.1 85.9,141.8 85.6,140.5 85.4,139.3 85.1,138 84.9,136.7Z M88.4,136.6 88.6,137.9 88.9,139.1 89.1,140.3 89.3,141.6 89.6,142.8 89.8,144 90.1,145.2 90.4,146.5 90.6,147.7 90.9,148.9 91.2,150.1 91.5,151.3 91.9,152.4 92.2,153.6 92.5,154.8 92.8,156 93.2,157.2 93.5,158.3 93.9,159.5 94.2,160.7 94.6,161.8 95,163 95.4,164.1 95.8,165.3 96.2,166.5 96.6,167.6 97,168.8 97.4,169.9 97.8,171 98.2,172.2 98.7,173.3 99.1,174.5 99.6,175.6 100.1,176.7 100.5,177.9 101,179 101.5,180.1 102,181.2 102.6,182.3 103.1,183.4 103.7,184.6 104.2,185.7 104.8,186.8 105.4,187.8 106,188.9 106.6,190 107.2,191.1 107.8,192.2 108.5,193.2 109.2,194.3 109.8,195.4 110.5,196.4 111.2,197.5 111.9,198.5 112.6,199.6 113.3,200.6 114,201.7 114.8,202.7 115.5,203.8 116.3,204.8 117,205.8 117.8,206.9 118.6,207.9 119.4,209 120.1,210 120.9,211.1 121.8,212.1 122.6,213.2 123.4,214.2 124.2,215.3 125.1,216.3 125.9,217.4 126.8,218.5 127.7,219.5 128.6,220.6 129.5,221.6 130.4,222.7 131.3,223.7 132.3,224.8 133.3,225.8 134.3,226.8 135.3,227.8 136.3,228.8 137.4,229.8 138.4,230.7 139.5,231.6 140.7,232.5 141.8,233.3 143,234.2 144.2,235 145.4,235.8 146.6,236.5 147.8,237.3 149.1,238 150.3,238.8 151.6,239.5 152.8,240.2 154.1,241 155.4,241.7 156.7,242.4 158,243.2 159.3,243.9 160.7,244.6 162,245.3 163.4,246.1 164.8,246.8 166.1,247.5 167.5,248.2 169,248.9 170.4,249.6 171.8,250.2 173.3,250.9 174.8,251.5 176.2,252.2 177.7,252.8 179.3,253.4 180.8,253.9 182.3,254.5 183.9,255 185.5,255.4 187.1,255.9 188.6,256.3 190.3,256.6 191.9,256.9 193.5,257.1 195.1,257.3 196.7,257.5 198.4,257.6 200,257.6 201.6,257.6 203.3,257.6 204.9,257.5 206.5,257.5 208.2,257.4 209.8,257.3 211.4,257.1 213.1,257 214.7,256.8 216.4,256.6 218,256.3 219.6,256.1 221.3,255.8 222.9,255.5 224.5,255.1 226.2,254.7 227.8,254.3 229.4,253.9 231,253.4 232.6,252.9 234.1,252.3 235.7,251.7 237.2,251 238.7,250.3 240.2,249.5 241.6,248.7 243,247.8 244.4,246.9 245.8,245.9 247.2,244.9 248.5,244 249.8,242.9 251.1,241.9 252.4,240.9 253.7,239.8 255,238.8 256.3,237.8 257.5,236.7 258.8,235.7 260.1,234.7 261.3,233.6 262.6,232.6 263.8,231.5 265.1,230.4 266.3,229.4 267.6,228.3 268.8,227.2 270,226.1 271.2,225 272.4,223.8 273.5,222.7 274.7,221.5 275.8,220.4 276.9,219.2 278,217.9 279.1,216.7 280.2,215.4 281.2,214.2 282.2,212.9 283.2,211.6 284.1,210.2 285.1,208.9 286,207.5 286.9,206.1 287.7,204.8 288.6,203.4 289.4,201.9 290.2,200.5 291,199.1 291.8,197.7 292.5,196.2 293.3,194.8 294,193.3 294.7,191.8 295.4,190.3 296,188.9 296.7,187.4 297.3,185.9 297.9,184.4 298.5,182.8 299,181.3 299.6,179.8 300.1,178.2 300.6,176.7 301,175.1 301.5,173.6 301.9,172 302.3,170.4 302.6,168.9 302.9,167.3 303.2,165.7 303.5,164.1 303.8,162.5 304,160.9 304.2,159.3 304.4,157.7 304.5,156.1 304.6,154.5 304.7,152.9 304.8,151.3 304.9,149.7 304.9,148.1 305,146.5 305,144.9 305,143.3 305,141.7 304.9,140.1 304.9,138.5 304.8,137 304.8,135.4 304.7,133.8 304.6,132.2 304.5,130.6 304.5,129.1 304.4,127.5 304.3,125.9 304.2,124.3 304,122.8 303.9,121.2 303.8,119.6 303.7,118 303.5,116.4 303.4,114.8 303.2,113.3 303.1,111.7 302.9,110.1 302.7,108.5 302.5,106.9 302.3,105.3 302.1,103.7 301.8,102.1 301.5,100.5 301.2,98.9 300.9,97.4 300.5,95.8 300.1,94.2 299.6,92.7 299.1,91.2 298.6,89.6 298,88.1 297.4,86.6 296.7,85.2 296,83.7 295.3,82.3 294.5,80.8 293.7,79.4 292.9,78 292.1,76.6 291.2,75.3 290.4,73.9 289.5,72.6 288.6,71.2 287.7,69.9 286.7,68.6 285.8,67.3 284.9,66 283.9,64.7 283,63.4 282.1,62.1 281.1,60.8 280.2,59.5 279.3,58.1 278.4,56.8 277.4,55.5 276.5,54.1 275.6,52.8 274.7,51.5 273.8,50.1 272.8,48.7 271.9,47.4 270.9,46 270,44.7 269,43.3 268,42 266.9,40.7 265.9,39.4 264.7,38.2 263.6,36.9 262.4,35.8 261.2,34.6 260,33.5 258.7,32.5 257.3,31.5 256,30.5 254.6,29.6 253.2,28.7 251.7,27.9 250.2,27.1 248.8,26.4 247.3,25.6 245.7,25 244.2,24.3 242.7,23.6 241.1,23 239.6,22.4 238.1,21.8 236.5,21.2 235,20.7 233.4,20.1 231.9,19.6 230.3,19 228.8,18.5 227.2,18 225.7,17.4 224.1,16.9 222.6,16.4 221,15.9 219.4,15.4 217.9,15 216.3,14.5 214.7,14.1 213.1,13.6 211.5,13.2 209.9,12.9 208.3,12.5 206.7,12.2 205.1,11.8 203.5,11.5 201.9,11.3 200.3,11 198.6,10.8 197,10.6 195.4,10.4 193.8,10.2 192.1,10.1 190.5,10 188.8,9.9 187.2,9.8 185.5,9.8 183.9,9.7 182.3,9.7 180.6,9.7 179,9.8 177.3,9.8 175.7,9.9 174,10 172.4,10 170.7,10.2 169.1,10.3 167.4,10.4 165.8,10.6 164.2,10.7 162.5,10.9 160.9,11.1 159.2,11.3 157.6,11.6 155.9,11.8 154.3,12.1 152.7,12.4 151,12.7 149.4,13 147.7,13.3 146.1,13.6 144.5,14 142.8,14.4 141.2,14.8 139.6,15.2 137.9,15.6 136.3,16.1 134.7,16.6 133.1,17.2 131.6,17.8 130,18.5 128.5,19.1 126.9,19.8 125.4,20.6 123.9,21.4 122.5,22.2 121,23.1 119.6,24.1 118.3,25.1 117,26.2 115.7,27.3 114.4,28.4 113.2,29.6 112,30.8 110.9,32.1 109.8,33.3 108.7,34.6 107.6,36 106.6,37.3 105.6,38.7 104.6,40 103.7,41.4 102.7,42.8 101.8,44.2 101,45.7 100.1,47.1 99.4,48.6 98.6,50.1 97.9,51.6 97.2,53.1 96.5,54.6 95.9,56.2 95.3,57.7 94.8,59.3 94.3,60.8 93.8,62.4 93.3,63.9 92.8,65.5 92.4,67 91.9,68.6 91.5,70.1 91.1,71.6 90.8,73.1 90.4,74.7 90,76.2 89.7,77.7 89.4,79.1 89.1,80.6 88.8,82.1 88.5,83.6 88.2,85.1 88,86.5 87.8,88 87.6,89.4 87.4,90.9 87.2,92.3 87,93.8 86.9,95.2 86.8,96.6 86.6,98 86.5,99.5 86.5,100.9 86.4,102.3 86.4,103.7 86.3,105.1 86.3,106.5 86.3,107.8 86.3,109.2 86.3,110.6 86.3,112 86.3,113.3 86.4,114.7 86.4,116 86.5,117.3 86.6,118.7 86.6,120 86.7,121.3 86.8,122.6 86.9,123.9 87,125.2 87.1,126.5 87.3,127.8 87.4,129.1 87.6,130.3 87.7,131.6 87.9,132.9 88.1,134.1 88.2,135.4Z" fill="#9aaee4" opacity="0.85" clip-path="url(#lavclip)"/>
<path d="M303.5,120.0 L303.3,121.6 L303.1,123.8 L302.9,126.5 L302.6,129.4 L302.3,132.4 L302.0,135.2 L301.7,137.8 L301.5,140.0 L301.3,141.6 L301.1,142.7 L300.9,143.6 L300.7,144.4 L300.5,145.2 L300.2,146.3 L300.0,147.9 L299.8,150.0 L299.6,152.9 L299.4,156.4 L299.1,160.4 L298.9,164.6 L298.7,168.8 L298.4,172.9 L298.1,176.7 L297.7,180.0 L297.3,182.8 L296.8,185.3 L296.3,187.5 L295.8,189.6 L295.2,191.5 L294.6,193.3 L294.1,195.2 L293.5,197.0 L293.0,198.8 L292.5,200.5 L292.0,202.0 L291.6,203.6 L291.0,205.1 L290.4,206.6 L289.8,208.3 L289.0,210.0 L288.1,211.9 L287.1,213.8 L286.0,215.9 L284.9,217.9 L283.7,220.0 L282.5,222.1 L281.3,224.1 L280.0,226.0 L278.7,227.9 L277.4,229.7 L276.1,231.5 L274.8,233.2 L273.4,235.0 L271.9,236.7 L270.5,238.4 L269.0,240.0 L267.5,241.6 L265.9,243.2 L264.2,244.8 L262.6,246.4 L260.9,247.9 L259.2,249.3 L257.6,250.7 L256.0,252.0 L254.4,253.2 L252.9,254.3 L251.3,255.4 L249.8,256.4 L248.3,257.3 L246.8,258.2 L245.4,259.1 L244.0,260.0 L242.6,260.9 L241.1,261.7 L239.7,262.6 L238.2,263.4 L236.9,264.1 L235.8,264.8 L234.8,265.4 L234.0,265.8 L200,200 Z" fill="#8a9ae4"/>
<path d="M88.9,135.4 88.7,134.1 88.6,132.9 88.4,131.6 88.3,130.4 88.1,129.1 88,127.8 87.9,126.6 87.7,125.3 87.6,124 87.5,122.7 87.4,121.4 87.4,120.1 87.3,118.8 87.2,117.5 87.2,116.1 87.1,114.8 87.1,113.5 87,112.1 87,110.8 87,109.4 87,108.1 87.1,106.7 87.1,105.3 87.1,103.9 87.2,102.6 87.3,101.2 87.4,99.8 87.5,98.4 87.6,97 87.7,95.5 87.9,94.1 88,92.7 88.2,91.3 88.4,89.8 88.6,88.4 88.9,87 89.1,85.5 89.4,84.1 89.7,82.6 90,81.1 90.3,79.7 90.6,78.2 90.9,76.7 91.3,75.2 91.7,73.7 92,72.2 92.4,70.7 92.8,69.2 93.2,67.7 93.7,66.1 94.1,64.6 94.6,63.1 95.1,61.5 95.6,60 96.1,58.4 96.7,56.9 97.3,55.3 97.9,53.8 98.6,52.3 99.3,50.8 100.1,49.3 100.8,47.8 101.6,46.4 102.5,45 103.4,43.6 104.3,42.1 105.2,40.8 106.2,39.4 107.1,38 108.1,36.7 109.2,35.3 110.2,34 111.3,32.7 112.4,31.4 113.6,30.2 114.8,28.9 116,27.7 117.2,26.6 118.5,25.5 119.8,24.4 121.2,23.4 122.6,22.5 124,21.6 125.5,20.8 127,20 128.5,19.3 130.1,18.6 131.6,17.9 133.2,17.3 134.8,16.8 136.4,16.3 138,15.8 139.6,15.4 141.3,15 142.9,14.6 144.5,14.2 146.2,13.9 147.8,13.5 149.4,13.2 151.1,12.9 152.7,12.6 154.4,12.3 156,12.1 157.6,11.8 159.3,11.6 160.9,11.3 162.6,11.1 164.2,11 165.8,10.8 167.5,10.6 169.1,10.5 170.8,10.4 172.4,10.3 174,10.2 175.7,10.1 177.3,10 179,10 180.6,10 182.3,10 183.9,10 185.5,10 187.2,10 188.8,10.1 190.5,10.2 192.1,10.3 193.7,10.4 195.4,10.6 197,10.8 198.6,11 200.2,11.2 201.9,11.5 203.5,11.7 205.1,12 206.7,12.4 208.3,12.7 209.9,13.1 211.5,13.4 213.1,13.8 214.7,14.2 216.2,14.7 217.8,15.1 219.4,15.6 221,16.1 222.5,16.5 224.1,17 225.6,17.6 227.2,18.1 228.7,18.6 230.3,19.2 231.8,19.7 233.3,20.3 234.9,20.9 236.4,21.5 237.9,22.1 239.5,22.7 241,23.4 242.5,24 244,24.7 245.5,25.4 247,26.1 248.5,26.8 249.9,27.6 251.4,28.4 252.8,29.2 254.2,30.1 255.6,31 257,32 258.3,33 259.6,34.1 260.8,35.2 262,36.3 263.1,37.5 264.3,38.8 265.3,40 266.4,41.3 267.4,42.7 268.3,44 269.3,45.4 270.2,46.8 271.1,48.1 272.1,49.5 272.9,50.9 273.8,52.2 274.7,53.6 275.6,55 276.5,56.3 277.4,57.6 278.3,59 279.2,60.3 280.1,61.6 281,62.9 281.9,64.2 282.8,65.5 283.7,66.8 284.6,68.1 285.5,69.4 286.4,70.7 287.3,72 288.2,73.3 289.1,74.6 289.9,76 290.8,77.3 291.6,78.7 292.4,80.1 293.2,81.5 293.9,82.9 294.6,84.3 295.3,85.8 296,87.2 296.6,88.7 297.1,90.2 297.7,91.7 298.2,93.2 298.6,94.8 299,96.3 299.4,97.8 299.8,99.4 300.1,101 300.3,102.5 300.6,104.1 300.8,105.7 301.1,107.3 301.3,108.8 301.4,110.4 301.6,112 301.8,113.5 301.9,115.1 302.1,116.7 302.2,118.2 302.4,119.8 302.5,121.3 302.6,122.9 302.7,124.5 302.8,126 302.9,127.6 303,129.1 303.1,130.7 303.2,132.3 303.3,133.8 303.4,135.4 303.4,136.9 303.5,138.5 303.5,140.1 303.6,141.7 303.6,143.2 303.6,144.8 303.6,146.4 303.6,148 303.6,149.5 303.5,151.1 303.4,152.7 303.4,154.3 303.2,155.9 303.1,157.5 303,159.1 302.8,160.6 302.6,162.2 302.3,163.8 302.1,165.4 301.8,167 301.5,168.5 301.1,170.1 300.7,171.7 300.3,173.2 299.9,174.8 299.4,176.3 299,177.8 298.5,179.4 297.9,180.9 297.4,182.4 296.8,183.9 296.2,185.4 295.6,186.9 294.9,188.3 294.3,189.8 293.6,191.3 292.9,192.7 292.2,194.2 291.4,195.6 290.7,197 289.9,198.5 289.1,199.9 288.3,201.3 287.5,202.7 286.7,204.1 285.9,205.5 285,206.8 284.1,208.2 283.2,209.5 282.2,210.8 281.3,212.2 280.3,213.4 279.3,214.7 278.2,216 277.2,217.2 276.1,218.4 275,219.6 273.9,220.7 272.7,221.9 271.5,223 270.4,224.1 269.2,225.2 268,226.3 266.8,227.4 265.5,228.5 264.3,229.5 263.1,230.6 261.8,231.6 260.6,232.6 259.3,233.6 258,234.7 256.8,235.7 255.5,236.7 254.3,237.7 253,238.8 251.7,239.8 250.4,240.8 249.2,241.9 247.9,242.9 246.5,243.9 245.2,244.9 243.9,245.8 242.5,246.7 241.1,247.6 239.7,248.5 238.2,249.3 236.7,250 235.2,250.7 233.7,251.3 232.2,251.9 230.6,252.4 229,252.9 227.4,253.4 225.8,253.8 224.2,254.1 222.6,254.5 221,254.8 219.4,255.1 217.7,255.4 216.1,255.6 214.5,255.8 212.9,256 211.2,256.2 209.6,256.3 208,256.4 206.3,256.5 204.7,256.6 203.1,256.6 201.5,256.7 199.9,256.7 198.3,256.6 196.6,256.6 195,256.4 193.4,256.2 191.8,256 190.2,255.7 188.6,255.4 187,255 185.5,254.6 183.9,254.1 182.4,253.6 180.8,253.1 179.3,252.5 177.8,251.9 176.3,251.3 174.8,250.7 173.4,250 171.9,249.4 170.5,248.7 169.1,248.1 167.7,247.4 166.3,246.7 164.9,246 163.5,245.3 162.2,244.6 160.8,243.9 159.5,243.2 158.2,242.4 156.9,241.7 155.6,241 154.3,240.3 153,239.6 151.8,238.8 150.5,238.1 149.3,237.4 148,236.7 146.8,235.9 145.6,235.2 144.4,234.4 143.2,233.6 142,232.8 140.9,232 139.8,231.1 138.7,230.2 137.6,229.3 136.5,228.4 135.5,227.4 134.5,226.4 133.5,225.4 132.5,224.4 131.6,223.3 130.7,222.3 129.7,221.2 128.8,220.2 128,219.1 127.1,218 126.2,217 125.4,215.9 124.5,214.9 123.7,213.8 122.9,212.8 122.1,211.7 121.3,210.7 120.5,209.6 119.7,208.6 118.9,207.6 118.1,206.5 117.4,205.5 116.6,204.4 115.9,203.4 115.1,202.4 114.4,201.3 113.7,200.3 113,199.2 112.3,198.2 111.6,197.2 110.9,196.1 110.2,195 109.6,194 108.9,192.9 108.3,191.9 107.6,190.8 107,189.7 106.4,188.6 105.8,187.6 105.2,186.5 104.6,185.4 104.1,184.3 103.5,183.2 103,182.1 102.5,181 102,179.9 101.5,178.7 101,177.6 100.5,176.5 100.1,175.4 99.6,174.2 99.2,173.1 98.8,172 98.3,170.8 97.9,169.7 97.5,168.5 97.1,167.4 96.7,166.2 96.4,165.1 96,163.9 95.6,162.8 95.2,161.6 94.9,160.5 94.5,159.3 94.2,158.2 93.8,157 93.5,155.8 93.1,154.7 92.8,153.5 92.5,152.3 92.2,151.1 91.9,150 91.6,148.8 91.3,147.6 91,146.4 90.7,145.2 90.5,144 90.2,142.8 90,141.5 89.8,140.3 89.5,139.1 89.3,137.9 89.1,136.6Z" fill="#0000aa" stroke="#111" stroke-width="0.5"/>
<path d="M303.5,120.0 L303.3,121.6 L303.1,123.8 L302.9,126.5 L302.6,129.4 L302.3,132.4 L302.0,135.2 L301.7,137.8 L301.5,140.0 L301.3,141.6 L301.1,142.7 L300.9,143.6 L300.7,144.4 L300.5,145.2 L300.2,146.3 L300.0,147.9 L299.8,150.0 L299.6,152.9 L299.4,156.4 L299.1,160.4 L298.9,164.6 L298.7,168.8 L298.4,172.9 L298.1,176.7 L297.7,180.0 L297.3,182.8 L296.8,185.3 L296.3,187.5 L295.8,189.6 L295.2,191.5 L294.6,193.3 L294.1,195.2 L293.5,197.0 L293.0,198.8 L292.5,200.5 L292.0,202.0 L291.6,203.6 L291.0,205.1 L290.4,206.6 L289.8,208.3 L289.0,210.0 L288.1,211.9 L287.1,213.8 L286.0,215.9 L284.9,217.9 L283.7,220.0 L282.5,222.1 L281.3,224.1 L280.0,226.0 L278.7,227.9 L277.4,229.7 L276.1,231.5 L274.8,233.2 L273.4,235.0 L271.9,236.7 L270.5,238.4 L269.0,240.0 L267.5,241.6 L265.9,243.2 L264.2,244.8 L262.6,246.4 L260.9,247.9 L259.2,249.3 L257.6,250.7 L256.0,252.0 L254.4,253.2 L252.9,254.3 L251.3,255.4 L249.8,256.4 L248.3,257.3 L246.8,258.2 L245.4,259.1 L244.0,260.0 L242.6,260.9 L241.1,261.7 L239.7,262.6 L238.2,263.4 L236.9,264.1 L235.8,264.8 L234.8,265.4 L234.0,265.8" fill="none" stroke="#1a1a2a" stroke-width="0.55"/>
<path d="M91.5,135.4 91.3,134.2 91.2,133 91,131.7 90.9,130.5 90.7,129.3 90.6,128 90.4,126.8 90.3,125.5 90.2,124.3 90.1,123 90,121.8 89.9,120.5 89.8,119.2 89.8,117.9 89.7,116.6 89.7,115.3 89.6,114 89.6,112.7 89.6,111.4 89.5,110.1 89.5,108.8 89.5,107.4 89.6,106.1 89.6,104.7 89.7,103.4 89.7,102 89.8,100.7 89.9,99.3 90,97.9 90.1,96.5 90.3,95.1 90.4,93.8 90.6,92.4 90.8,91 91,89.6 91.2,88.1 91.4,86.7 91.7,85.3 91.9,83.9 92.2,82.4 92.5,81 92.8,79.6 93.1,78.1 93.5,76.7 93.8,75.2 94.2,73.7 94.5,72.2 94.9,70.7 95.3,69.2 95.7,67.7 96.2,66.2 96.6,64.7 97.1,63.2 97.6,61.7 98.1,60.1 98.6,58.6 99.2,57.1 99.8,55.6 100.5,54.1 101.1,52.6 101.9,51.2 102.6,49.7 103.4,48.3 104.2,46.9 105,45.5 105.9,44.1 106.8,42.7 107.7,41.3 108.7,40 109.6,38.6 110.6,37.2 111.6,35.9 112.6,34.5 113.7,33.2 114.7,31.9 115.8,30.6 117,29.3 118.1,28 119.3,26.9 120.6,25.7 121.9,24.7 123.3,23.7 124.7,22.9 126.2,22.1 127.7,21.5 129.3,21 131,20.6 132.7,20.4 134.4,20.3 136.2,20.2 138,20.3 139.8,20.4 141.5,20.5 143.3,20.6 145,20.8 146.7,20.9 148.4,21 150,21 151.7,21 153.3,21 154.8,21 156.4,20.9 158,20.8 159.5,20.7 161.1,20.6 162.6,20.5 164.1,20.3 165.7,20.2 167.2,20 168.7,19.9 170.2,19.8 171.7,19.6 173.3,19.5 174.8,19.4 176.3,19.3 177.8,19.2 179.3,19.1 180.9,19 182.4,19 183.9,18.9 185.4,18.9 187,18.9 188.5,18.9 190,18.9 191.5,18.9 193.1,19 194.6,19 196.1,19.1 197.7,19.2 199.2,19.3 200.7,19.4 202.2,19.6 203.8,19.8 205.3,20 206.8,20.3 208.3,20.6 209.8,20.9 211.3,21.3 212.8,21.7 214.2,22.2 215.7,22.7 217.1,23.2 218.5,23.8 220,24.4 221.3,25.1 222.7,25.8 224.1,26.5 225.4,27.2 226.7,28 228,28.8 229.3,29.6 230.6,30.4 231.9,31.3 233.1,32.1 234.4,33 235.6,33.9 236.9,34.7 238.1,35.6 239.3,36.5 240.5,37.4 241.7,38.2 242.9,39.1 244.1,40 245.2,40.9 246.4,41.8 247.6,42.7 248.8,43.6 249.9,44.5 251.1,45.4 252.2,46.4 253.3,47.3 254.5,48.2 255.6,49.2 256.7,50.1 257.8,51.1 258.9,52.1 260,53 261.1,54 262.2,55 263.2,56.1 264.3,57.1 265.3,58.1 266.3,59.2 267.3,60.3 268.3,61.4 269.2,62.5 270.2,63.6 271,64.8 271.9,66 272.7,67.2 273.5,68.5 274.3,69.7 275,71 275.7,72.3 276.3,73.6 276.9,75 277.5,76.3 278.1,77.7 278.7,79 279.2,80.4 279.8,81.7 280.3,83 280.9,84.4 281.5,85.7 282.1,87 282.7,88.2 283.4,89.5 284.1,90.8 284.8,92 285.5,93.3 286.2,94.6 286.9,95.8 287.6,97.1 288.2,98.4 288.8,99.8 289.3,101.1 289.8,102.5 290.2,103.9 290.6,105.3 290.9,106.7 291.2,108.1 291.5,109.6 291.7,111 291.9,112.4 292,113.9 292.2,115.3 292.3,116.7 292.4,118.2 292.6,119.6 292.7,121.1 292.8,122.5 292.9,123.9 292.9,125.4 293,126.8 293.1,128.2 293.2,129.7 293.2,131.1 293.3,132.5 293.3,133.9 293.4,135.4 293.4,136.8 293.4,138.2 293.4,139.7 293.4,141.1 293.5,142.6 293.5,144 293.5,145.4 293.4,146.9 293.4,148.3 293.4,149.8 293.4,151.3 293.4,152.7 293.4,154.2 293.4,155.7 293.4,157.2 293.4,158.7 293.4,160.2 293.4,161.7 293.4,163.2 293.4,164.7 293.3,166.2 293.3,167.8 293.2,169.3 293.1,170.9 293,172.4 292.8,174 292.6,175.5 292.4,177 292.2,178.6 291.9,180.1 291.6,181.7 291.3,183.2 290.9,184.7 290.5,186.2 290.1,187.8 289.7,189.3 289.2,190.8 288.6,192.2 288.1,193.7 287.5,195.2 286.9,196.7 286.3,198.1 285.6,199.6 284.9,201 284.2,202.4 283.5,203.8 282.7,205.2 281.9,206.6 281.1,207.9 280.2,209.3 279.3,210.6 278.4,211.9 277.5,213.2 276.5,214.5 275.5,215.7 274.5,217 273.5,218.2 272.4,219.4 271.4,220.6 270.3,221.8 269.2,222.9 268.1,224.1 267,225.2 265.8,226.4 264.7,227.5 263.5,228.6 262.4,229.7 261.2,230.9 260,232 258.9,233.1 257.7,234.2 256.5,235.3 255.3,236.4 254.1,237.5 252.9,238.6 251.7,239.8 250.4,240.9 249.2,241.9 247.9,243 246.6,244 245.3,245 243.9,245.9 242.5,246.8 241.1,247.6 239.6,248.3 238.1,249 236.6,249.6 235,250.2 233.5,250.7 231.9,251.2 230.3,251.7 228.7,252.1 227.1,252.4 225.5,252.8 223.9,253.1 222.3,253.5 220.7,253.8 219.1,254.1 217.4,254.3 215.8,254.6 214.2,254.8 212.6,255 211,255.2 209.4,255.3 207.8,255.5 206.2,255.5 204.6,255.6 202.9,255.6 201.3,255.6 199.7,255.5 198.1,255.4 196.5,255.2 194.9,255 193.3,254.7 191.7,254.4 190.1,254 188.5,253.6 187,253.1 185.4,252.6 183.9,252 182.4,251.4 180.9,250.8 179.4,250.2 177.9,249.6 176.5,248.9 175,248.3 173.6,247.6 172.2,246.9 170.8,246.2 169.4,245.5 168,244.8 166.7,244.1 165.3,243.4 164,242.7 162.7,242 161.4,241.3 160.1,240.6 158.8,239.9 157.5,239.2 156.3,238.5 155,237.8 153.8,237.1 152.5,236.3 151.3,235.6 150.1,234.9 148.9,234.2 147.7,233.5 146.5,232.8 145.4,232 144.2,231.2 143.1,230.4 141.9,229.6 140.8,228.8 139.8,227.9 138.7,227 137.7,226 136.7,225.1 135.7,224.1 134.8,223.1 133.8,222.1 132.9,221.1 132,220.1 131.1,219 130.3,218 129.4,216.9 128.6,215.9 127.7,214.9 126.9,213.8 126.1,212.8 125.3,211.8 124.5,210.7 123.7,209.7 122.9,208.7 122.2,207.7 121.4,206.6 120.7,205.6 119.9,204.6 119.2,203.6 118.4,202.6 117.7,201.6 117,200.5 116.3,199.5 115.6,198.5 114.9,197.5 114.2,196.5 113.6,195.5 112.9,194.4 112.2,193.4 111.6,192.4 111,191.3 110.3,190.3 109.7,189.3 109.1,188.2 108.5,187.2 108,186.1 107.4,185.1 106.8,184 106.3,182.9 105.8,181.9 105.3,180.8 104.8,179.7 104.3,178.6 103.8,177.5 103.3,176.4 102.9,175.3 102.4,174.2 102,173.1 101.6,172 101.2,170.9 100.7,169.8 100.3,168.7 100,167.6 99.6,166.5 99.2,165.4 98.8,164.3 98.4,163.1 98.1,162 97.7,160.9 97.4,159.8 97,158.7 96.7,157.5 96.3,156.4 96,155.3 95.7,154.1 95.4,153 95,151.8 94.7,150.7 94.4,149.5 94.1,148.4 93.9,147.2 93.6,146.1 93.3,144.9 93.1,143.7 92.8,142.5 92.6,141.4 92.3,140.2 92.1,139 91.9,137.8 91.7,136.6Z" fill="url(#steel)" stroke="#111" stroke-width="0.5"/>
<path d="M91.5,135.4 91.3,134.2 91.2,133 91,131.7 90.9,130.5 90.7,129.3 90.6,128 90.4,126.8 90.3,125.5 90.2,124.3 90.1,123 90,121.8 89.9,120.5 89.8,119.2 89.8,117.9 89.7,116.6 89.7,115.3 89.6,114 89.6,112.7 89.6,111.4 89.5,110.1 89.5,108.8 89.5,107.4 89.6,106.1 89.6,104.7 89.7,103.4 89.7,102 89.8,100.7 89.9,99.3 90,97.9 90.1,96.5 90.3,95.1 90.4,93.8 90.6,92.4 90.8,91 91,89.6 91.2,88.1 91.4,86.7 91.7,85.3 91.9,83.9 92.2,82.4 92.5,81 92.8,79.6 93.1,78.1 93.5,76.7 93.8,75.2 94.2,73.7 94.5,72.2 94.9,70.7 95.3,69.2 95.7,67.7 96.2,66.2 96.6,64.7 97.1,63.2 97.6,61.7 98.1,60.1 98.6,58.6 99.2,57.1 99.8,55.6 100.5,54.1 101.1,52.6 101.9,51.2 102.6,49.7 103.4,48.3 104.2,46.9 105,45.5 105.9,44.1 106.8,42.7 107.7,41.3 108.7,40 109.6,38.6 110.6,37.2 111.6,35.9 112.6,34.5 113.7,33.2 114.7,31.9 115.8,30.6 117,29.3 118.1,28 119.3,26.9 120.6,25.7 121.9,24.7 123.3,23.7 124.7,22.9 126.2,22.1 127.7,21.5 129.3,21 131,20.6 132.7,20.4 134.4,20.3 136.2,20.2 138,20.3 139.8,20.4 141.5,20.5 143.3,20.6 145,20.8 146.7,20.9 148.4,21 150,21 151.7,21 153.3,21 154.8,21 156.4,20.9 158,20.8 159.5,20.7 161.1,20.6 162.6,20.4 164.1,20.3 165.6,20.1 167.2,20 168.7,19.9 170.2,19.7 171.7,19.6 173.2,19.5 174.8,19.4 176.3,19.3 177.8,19.2 179.3,19.1 180.9,19 182.4,19 183.9,19 185.4,18.9 186.9,18.9 188.5,18.9 190,19 191.5,19 193.1,19.1 194.6,19.2 196.1,19.3 197.6,19.4 199.2,19.5 200.7,19.7 202.2,19.9 203.7,20.1 205.2,20.4 206.7,20.7 208.2,21 209.7,21.4 211.2,21.9 212.6,22.3 214,22.9 215.5,23.4 216.9,24.1 218.3,24.7 219.6,25.5 221,26.2 222.3,27 223.6,27.9 224.8,28.8 226.1,29.7 227.3,30.6 228.5,31.6 229.7,32.6 230.8,33.6 232,34.6 233.1,35.6 234.2,36.7 235.3,37.7 236.3,38.8 237.4,39.9 238.4,40.9 239.4,42 240.4,43.1 241.4,44.2 242.4,45.3 243.3,46.4 244.3,47.5 245.2,48.6 246.1,49.8 247,50.9 247.9,52 248.8,53.1 249.7,54.2 250.5,55.3 251.4,56.4 252.3,57.4 253.1,58.5 254,59.6 254.8,60.7 255.6,61.7 256.5,62.8 257.3,63.9 258.1,65 258.9,66 259.7,67.1 260.5,68.2 261.3,69.3 262,70.4 262.8,71.5 263.5,72.6 264.2,73.8 264.9,74.9 265.6,76 266.2,77.2 266.9,78.4 267.5,79.5 268.1,80.7 268.7,81.9 269.2,83.1 269.8,84.3 270.3,85.5 270.9,86.7 271.4,87.9 271.9,89.1 272.4,90.3 273,91.4 273.5,92.6 274.1,93.8 274.6,95 275.1,96.2 275.7,97.4 276.2,98.5 276.7,99.7 277.2,100.9 277.7,102.1 278.2,103.4 278.7,104.6 279.1,105.8 279.5,107.1 279.9,108.3 280.3,109.6 280.6,110.8 280.9,112.1 281.3,113.4 281.6,114.6 281.9,115.9 282.1,117.2 282.4,118.5 282.7,119.7 283,121 283.2,122.3 283.5,123.6 283.7,124.9 283.9,126.2 284.2,127.5 284.4,128.8 284.6,130.1 284.8,131.4 285,132.7 285.2,134.1 285.4,135.4 285.5,136.7 285.7,138 285.8,139.4 285.9,140.7 286.1,142.1 286.2,143.4 286.3,144.8 286.4,146.1 286.4,147.5 286.5,148.9 286.5,150.3 286.6,151.6 286.6,153 286.6,154.4 286.7,155.8 286.7,157.2 286.6,158.6 286.6,160 286.6,161.5 286.5,162.9 286.5,164.3 286.4,165.7 286.3,167.2 286.2,168.6 286,170.1 285.9,171.5 285.7,172.9 285.5,174.4 285.3,175.8 285.1,177.3 284.9,178.8 284.6,180.2 284.4,181.7 284.1,183.2 283.8,184.6 283.5,186.1 283.1,187.6 282.8,189.1 282.4,190.6 282.1,192 281.7,193.5 281.3,195 280.8,196.5 280.4,198 279.9,199.6 279.5,201.1 278.9,202.5 278.4,204 277.8,205.5 277.2,207 276.5,208.4 275.9,209.8 275.1,211.3 274.4,212.6 273.6,214 272.7,215.4 271.9,216.7 271,218 270,219.3 269.1,220.6 268.1,221.8 267.1,223.1 266.1,224.3 265.1,225.5 264,226.7 263,227.9 261.9,229.1 260.8,230.3 259.7,231.5 258.6,232.7 257.4,233.8 256.3,235 255.1,236.2 254,237.3 252.8,238.5 251.6,239.6 250.4,240.8 249.2,241.9 247.9,242.9 246.6,244 245.3,245 243.9,245.9 242.5,246.8 241.1,247.6 239.6,248.3 238.1,249 236.6,249.6 235,250.2 233.5,250.7 231.9,251.2 230.3,251.7 228.7,252.1 227.1,252.5 225.5,252.8 223.9,253.1 222.3,253.5 220.7,253.8 219.1,254.1 217.4,254.3 215.8,254.6 214.2,254.8 212.6,255 211,255.2 209.4,255.3 207.8,255.5 206.2,255.5 204.6,255.6 202.9,255.6 201.3,255.6 199.7,255.5 198.1,255.4 196.5,255.2 194.9,255 193.3,254.7 191.7,254.4 190.1,254 188.5,253.6 187,253.1 185.4,252.6 183.9,252 182.4,251.4 180.9,250.8 179.4,250.2 177.9,249.6 176.5,248.9 175,248.3 173.6,247.6 172.2,246.9 170.8,246.2 169.4,245.5 168,244.8 166.7,244.1 165.3,243.4 164,242.7 162.7,242 161.4,241.3 160.1,240.6 158.8,239.9 157.5,239.2 156.3,238.5 155,237.8 153.8,237.1 152.5,236.3 151.3,235.6 150.1,234.9 148.9,234.2 147.7,233.5 146.5,232.8 145.4,232 144.2,231.2 143.1,230.4 141.9,229.6 140.8,228.8 139.8,227.9 138.7,227 137.7,226 136.7,225.1 135.7,224.1 134.8,223.1 133.8,222.1 132.9,221.1 132,220.1 131.1,219 130.3,218 129.4,216.9 128.6,215.9 127.7,214.9 126.9,213.8 126.1,212.8 125.3,211.8 124.5,210.7 123.7,209.7 122.9,208.7 122.2,207.7 121.4,206.6 120.7,205.6 119.9,204.6 119.2,203.6 118.4,202.6 117.7,201.6 117,200.5 116.3,199.5 115.6,198.5 114.9,197.5 114.2,196.5 113.6,195.5 112.9,194.4 112.2,193.4 111.6,192.4 111,191.3 110.3,190.3 109.7,189.3 109.1,188.2 108.5,187.2 108,186.1 107.4,185.1 106.8,184 106.3,182.9 105.8,181.9 105.3,180.8 104.8,179.7 104.3,178.6 103.8,177.5 103.3,176.4 102.9,175.3 102.4,174.2 102,173.1 101.6,172 101.2,170.9 100.7,169.8 100.3,168.7 100,167.6 99.6,166.5 99.2,165.4 98.8,164.3 98.4,163.1 98.1,162 97.7,160.9 97.4,159.8 97,158.7 96.7,157.5 96.3,156.4 96,155.3 95.7,154.1 95.4,153 95,151.8 94.7,150.7 94.4,149.5 94.1,148.4 93.9,147.2 93.6,146.1 93.3,144.9 93.1,143.7 92.8,142.5 92.6,141.4 92.3,140.2 92.1,139 91.9,137.8 91.7,136.6Z" fill="#0a3cd0" opacity="0.6"/>
<path d="M91.5,135.4 91.3,134.2 91.2,133 91,131.7 90.9,130.5 90.7,129.3 90.6,128 90.4,126.8 90.3,125.5 90.2,124.3 90.1,123 90,121.8 89.9,120.5 89.8,119.2 89.8,117.9 89.7,116.6 89.7,115.3 89.6,114 89.6,112.7 89.6,111.4 89.5,110.1 89.5,108.8 89.5,107.4 89.6,106.1 89.6,104.7 89.7,103.4 89.7,102 89.8,100.7 89.9,99.3 90,97.9 90.1,96.5 90.3,95.1 90.4,93.8 90.6,92.4 90.8,91 91,89.6 91.2,88.1 91.4,86.7 91.7,85.3 91.9,83.9 92.2,82.4 92.5,81 92.8,79.6 93.1,78.1 93.5,76.7 93.8,75.2 94.2,73.7 94.5,72.2 94.9,70.7 95.3,69.2 95.7,67.7 96.2,66.2 96.6,64.7 97.1,63.2 97.6,61.7 98.1,60.1 98.6,58.6 99.2,57.1 99.8,55.6 100.5,54.1 101.1,52.6 101.9,51.2 102.6,49.7 103.4,48.3 104.2,46.9 105,45.5 105.9,44.1 106.8,42.7 107.7,41.3 108.7,40 109.6,38.6 110.6,37.2 111.6,35.9 112.6,34.5 113.7,33.2 114.7,31.9 115.8,30.6 117,29.3 118.1,28 119.3,26.9 120.6,25.7 121.9,24.7 123.3,23.7 124.7,22.9 126.2,22.1 127.7,21.5 129.3,21 131,20.6 132.7,20.4 134.4,20.3 136.2,20.2 138,20.3 139.8,20.4 141.5,20.5 143.3,20.6 145,20.8 146.7,20.9 148.4,21 150,21 151.7,21 153.3,21 154.8,21 156.4,20.9 158,20.8 159.5,20.7 161.1,20.6 162.6,20.4 164.1,20.3 165.6,20.1 167.2,20 168.7,19.9 170.2,19.7 171.7,19.6 173.2,19.5 174.8,19.4 176.3,19.3 177.8,19.2 179.3,19.1 180.9,19 182.4,19 183.9,19 185.4,18.9 186.9,18.9 188.5,18.9 190,19 191.5,19 193.1,19.1 194.6,19.2 196.1,19.3 197.6,19.4 199.2,19.5 200.7,19.7 202.2,19.9 203.7,20.1 205.2,20.4 206.7,20.7 208.2,21 209.7,21.4 211.2,21.9 212.6,22.3 214,22.9 215.5,23.4 216.9,24.1 218.3,24.7 219.6,25.5 221,26.2 222.3,27 223.6,27.9 224.8,28.8 226.1,29.7 227.3,30.6 228.5,31.6 229.7,32.6 230.8,33.6 232,34.6 233.1,35.6 234.2,36.7 235.3,37.7 236.3,38.8 237.4,39.9 238.4,40.9 239.4,42 240.4,43.1 241.4,44.2 242.4,45.3 243.3,46.4 244.3,47.5 245.2,48.6 246.1,49.8 247,50.9 247.9,52 248.8,53.1 249.7,54.2 250.5,55.3 251.4,56.4 252.3,57.4 253.1,58.5 254,59.6 254.8,60.7 255.6,61.7 256.5,62.8 257.3,63.9 258.1,65 258.9,66 259.7,67.1 260.5,68.2 261.3,69.3 262,70.4 262.8,71.5 263.5,72.6 264.2,73.8 264.9,74.9 265.6,76 266.2,77.2 266.9,78.4 267.5,79.5 268.1,80.7 268.7,81.9 269.2,83.1 269.8,84.3 270.3,85.5 270.9,86.7 271.4,87.9 271.9,89.1 272.4,90.3 273,91.4 273.5,92.6 274.1,93.8 274.6,95 275.1,96.2 275.7,97.4 276.2,98.5 276.7,99.7 277.2,100.9 277.7,102.1 278.2,103.4 278.7,104.6 279.1,105.8 279.5,107.1 279.9,108.3 280.3,109.6 280.6,110.8 280.9,112.1 281.3,113.4 281.6,114.6 281.9,115.9 282.1,117.2 282.4,118.5 282.7,119.7 283,121 283.2,122.3 283.5,123.6 283.7,124.9 283.9,126.2 284.2,127.5 284.4,128.8 284.6,130.1 284.8,131.4 285,132.7 285.2,134.1 285.4,135.4 285.5,136.7 285.7,138 285.8,139.4 285.9,140.7 286.1,142.1 286.2,143.4 286.3,144.8 286.4,146.1 286.4,147.5 286.5,148.9 286.5,150.3 286.6,151.6 286.6,153 286.6,154.4 286.7,155.8 286.7,157.2 286.6,158.6 286.6,160 286.6,161.5 286.5,162.9 286.5,164.3 286.4,165.7 286.3,167.2 286.2,168.6 286,170.1 285.9,171.5 285.7,172.9 285.5,174.4 285.3,175.8 285.1,177.3 284.9,178.8 284.6,180.2 284.4,181.7 284.1,183.2 283.8,184.6 283.5,186.1 283.1,187.6 282.8,189.1 282.4,190.6 282.1,192 281.7,193.5 281.3,195 280.8,196.5 280.4,198 279.9,199.6 279.5,201.1 278.9,202.5 278.4,204 277.8,205.5 277.2,207 276.5,208.4 275.9,209.8 275.1,211.3 274.4,212.6 273.6,214 272.7,215.4 271.9,216.7 271,218 270,219.3 269.1,220.6 268.1,221.8 267.1,223.1 266.1,224.3 265.1,225.5 264,226.7 263,227.9 261.9,229.1 260.8,230.3 259.7,231.5 258.6,232.7 257.4,233.8 256.3,235 255.1,236.2 254,237.3 252.8,238.5 251.6,239.6 250.4,240.8 249.2,241.9 247.9,242.9 246.6,244 245.3,245 243.9,245.9 242.5,246.8 241.1,247.6 239.6,248.3 238.1,249 236.6,249.6 235,250.2 233.5,250.7 231.9,251.2 230.3,251.7 228.7,252.1 227.1,252.5 225.5,252.8 223.9,253.1 222.3,253.5 220.7,253.8 219.1,254.1 217.4,254.3 215.8,254.6 214.2,254.8 212.6,255 211,255.2 209.4,255.3 207.8,255.5 206.2,255.5 204.6,255.6 202.9,255.6 201.3,255.6 199.7,255.5 198.1,255.4 196.5,255.2 194.9,255 193.3,254.7 191.7,254.4 190.1,254 188.5,253.6 187,253.1 185.4,252.6 183.9,252 182.4,251.4 180.9,250.8 179.4,250.2 177.9,249.6 176.5,248.9 175,248.3 173.6,247.6 172.2,246.9 170.8,246.2 169.4,245.5 168,244.8 166.7,244.1 165.3,243.4 164,242.7 162.7,242 161.4,241.3 160.1,240.6 158.8,239.9 157.5,239.2 156.3,238.5 155,237.8 153.8,237.1 152.5,236.3 151.3,235.6 150.1,234.9 148.9,234.2 147.7,233.5 146.5,232.8 145.4,232 144.2,231.2 143.1,230.4 141.9,229.6 140.8,228.8 139.8,227.9 138.7,227 137.7,226 136.7,225.1 135.7,224.1 134.8,223.1 133.8,222.1 132.9,221.1 132,220.1 131.1,219 130.3,218 129.4,216.9 128.6,215.9 127.7,214.9 126.9,213.8 126.1,212.8 125.3,211.8 124.5,210.7 123.7,209.7 122.9,208.7 122.2,207.7 121.4,206.6 120.7,205.6 119.9,204.6 119.2,203.6 118.4,202.6 117.7,201.6 117,200.5 116.3,199.5 115.6,198.5 114.9,197.5 114.2,196.5 113.6,195.5 112.9,194.4 112.2,193.4 111.6,192.4 111,191.3 110.3,190.3 109.7,189.3 109.1,188.2 108.5,187.2 108,186.1 107.4,185.1 106.8,184 106.3,182.9 105.8,181.9 105.3,180.8 104.8,179.7 104.3,178.6 103.8,177.5 103.3,176.4 102.9,175.3 102.4,174.2 102,173.1 101.6,172 101.2,170.9 100.7,169.8 100.3,168.7 100,167.6 99.6,166.5 99.2,165.4 98.8,164.3 98.4,163.1 98.1,162 97.7,160.9 97.4,159.8 97,158.7 96.7,157.5 96.3,156.4 96,155.3 95.7,154.1 95.4,153 95,151.8 94.7,150.7 94.4,149.5 94.1,148.4 93.9,147.2 93.6,146.1 93.3,144.9 93.1,143.7 92.8,142.5 92.6,141.4 92.3,140.2 92.1,139 91.9,137.8 91.7,136.6Z" fill="none" stroke="#111" stroke-width="0.4" opacity="0.7"/>
<path d="M91.5,135.4 91.3,134.2 91.2,133 91,131.7 90.9,130.5 90.7,129.3 90.6,128 90.4,126.8 90.3,125.5 90.2,124.3 90.1,123 90,121.8 89.9,120.5 89.8,119.2 89.8,117.9 89.7,116.6 89.7,115.3 89.6,114 89.6,112.7 89.6,111.4 89.5,110.1 89.5,108.8 89.5,107.4 89.6,106.1 89.6,104.7 89.7,103.4 89.7,102 89.8,100.7 89.9,99.3 90,97.9 90.1,96.5 90.3,95.1 90.4,93.8 90.6,92.4 90.8,91 91,89.6 91.2,88.1 91.4,86.7 91.7,85.3 91.9,83.9 92.2,82.4 92.5,81 92.8,79.6 93.1,78.1 93.5,76.7 93.8,75.2 94.2,73.7 94.5,72.2 94.9,70.7 95.3,69.2 95.7,67.7 96.2,66.2 96.6,64.7 97.1,63.2 97.6,61.7 98.1,60.1 98.6,58.6 99.2,57.1 99.8,55.6 100.5,54.1 101.1,52.6 101.9,51.2 102.6,49.7 103.4,48.3 104.2,46.9 105,45.5 105.9,44.1 106.8,42.7 107.7,41.3 108.7,40 109.6,38.6 110.6,37.2 111.6,35.9 112.6,34.5 113.7,33.2 114.7,31.9 115.8,30.6 117,29.3 118.1,28 119.3,26.9 120.6,25.7 121.9,24.7 123.3,23.7 124.7,22.9 126.2,22.1 127.7,21.5 129.3,21 131,20.6 132.7,20.4 134.4,20.3 136.2,20.2 138,20.3 139.8,20.4 141.5,20.5 143.3,20.6 145,20.8 146.7,20.9 148.4,21 150,21 151.7,21 153.3,21 154.8,21 156.4,20.9 158,20.8 159.5,20.7 161.1,20.5 162.6,20.4 164.1,20.3 165.6,20.1 167.2,20 168.7,19.8 170.2,19.7 171.7,19.6 173.2,19.5 174.8,19.3 176.3,19.2 177.8,19.2 179.3,19.1 180.9,19 182.4,19 183.9,19 185.4,19 186.9,19 188.5,19 190,19 191.5,19.1 193,19.1 194.6,19.2 196.1,19.4 197.6,19.5 199.1,19.6 200.7,19.8 202.2,20.1 203.7,20.3 205.2,20.6 206.7,20.9 208.2,21.3 209.6,21.7 211.1,22.2 212.5,22.7 213.9,23.2 215.4,23.9 216.7,24.5 218.1,25.2 219.4,26 220.7,26.8 222,27.7 223.3,28.6 224.5,29.6 225.7,30.6 226.9,31.6 228,32.6 229.2,33.7 230.3,34.8 231.3,35.9 232.4,37 233.4,38.2 234.4,39.3 235.4,40.5 236.4,41.7 237.3,42.9 238.2,44.1 239.1,45.3 240,46.5 240.8,47.7 241.7,48.9 242.5,50.1 243.3,51.4 244.1,52.6 244.8,53.8 245.6,55 246.3,56.2 247.1,57.4 247.8,58.5 248.5,59.7 249.3,60.9 250,62 250.7,63.1 251.4,64.2 252.1,65.4 252.8,66.5 253.5,67.6 254.2,68.6 254.9,69.7 255.6,70.8 256.3,71.9 257,73 257.6,74 258.3,75.1 259,76.2 259.6,77.3 260.3,78.4 260.9,79.4 261.5,80.5 262.1,81.6 262.7,82.7 263.3,83.8 263.9,84.9 264.4,86 265,87.1 265.5,88.2 266.1,89.4 266.6,90.5 267.1,91.6 267.6,92.7 268.1,93.9 268.6,95 269,96.1 269.5,97.3 269.9,98.4 270.4,99.6 270.8,100.7 271.3,101.8 271.7,103 272.1,104.1 272.5,105.3 272.9,106.5 273.3,107.6 273.7,108.8 274.1,109.9 274.5,111.1 274.9,112.3 275.3,113.4 275.6,114.6 276,115.8 276.4,117 276.7,118.2 277.1,119.4 277.4,120.6 277.8,121.8 278.1,123 278.4,124.2 278.8,125.4 279.1,126.6 279.4,127.9 279.7,129.1 280,130.3 280.3,131.6 280.5,132.8 280.8,134.1 281,135.4 281.3,136.7 281.5,137.9 281.7,139.2 281.9,140.5 282.1,141.8 282.3,143.1 282.4,144.4 282.5,145.7 282.7,147.1 282.8,148.4 282.8,149.7 282.9,151.1 283,152.4 283,153.7 283,155.1 283,156.4 283,157.8 283,159.2 282.9,160.5 282.8,161.9 282.8,163.3 282.7,164.6 282.6,166 282.4,167.4 282.3,168.8 282.2,170.2 282,171.6 281.8,173 281.6,174.4 281.4,175.8 281.2,177.2 281,178.6 280.8,180.1 280.6,181.5 280.4,182.9 280.1,184.4 279.9,185.9 279.6,187.4 279.4,188.9 279.1,190.4 278.8,191.9 278.6,193.4 278.3,194.9 278,196.5 277.6,198 277.3,199.6 276.9,201.1 276.5,202.7 276.1,204.2 275.6,205.7 275,207.2 274.5,208.7 273.9,210.2 273.2,211.7 272.5,213.1 271.8,214.5 271,215.9 270.2,217.3 269.3,218.6 268.5,219.9 267.6,221.3 266.6,222.5 265.7,223.8 264.7,225.1 263.7,226.3 262.6,227.6 261.6,228.8 260.5,230 259.5,231.2 258.4,232.5 257.3,233.7 256.2,234.9 255,236.1 253.9,237.2 252.7,238.4 251.6,239.6 250.4,240.7 249.1,241.8 247.9,242.9 246.6,244 245.3,245 243.9,245.9 242.5,246.8 241.1,247.6 239.6,248.3 238.1,249 236.6,249.6 235,250.2 233.5,250.7 231.9,251.2 230.3,251.7 228.7,252.1 227.1,252.5 225.5,252.8 223.9,253.1 222.3,253.5 220.7,253.8 219.1,254.1 217.4,254.3 215.8,254.6 214.2,254.8 212.6,255 211,255.2 209.4,255.3 207.8,255.5 206.2,255.5 204.6,255.6 202.9,255.6 201.3,255.6 199.7,255.5 198.1,255.4 196.5,255.2 194.9,255 193.3,254.7 191.7,254.4 190.1,254 188.5,253.6 187,253.1 185.4,252.6 183.9,252 182.4,251.4 180.9,250.8 179.4,250.2 177.9,249.6 176.5,248.9 175,248.3 173.6,247.6 172.2,246.9 170.8,246.2 169.4,245.5 168,244.8 166.7,244.1 165.3,243.4 164,242.7 162.7,242 161.4,241.3 160.1,240.6 158.8,239.9 157.5,239.2 156.3,238.5 155,237.8 153.8,237.1 152.5,236.3 151.3,235.6 150.1,234.9 148.9,234.2 147.7,233.5 146.5,232.8 145.4,232 144.2,231.2 143.1,230.4 141.9,229.6 140.8,228.8 139.8,227.9 138.7,227 137.7,226 136.7,225.1 135.7,224.1 134.8,223.1 133.8,222.1 132.9,221.1 132,220.1 131.1,219 130.3,218 129.4,216.9 128.6,215.9 127.7,214.9 126.9,213.8 126.1,212.8 125.3,211.8 124.5,210.7 123.7,209.7 122.9,208.7 122.2,207.7 121.4,206.6 120.7,205.6 119.9,204.6 119.2,203.6 118.4,202.6 117.7,201.6 117,200.5 116.3,199.5 115.6,198.5 114.9,197.5 114.2,196.5 113.6,195.5 112.9,194.4 112.2,193.4 111.6,192.4 111,191.3 110.3,190.3 109.7,189.3 109.1,188.2 108.5,187.2 108,186.1 107.4,185.1 106.8,184 106.3,182.9 105.8,181.9 105.3,180.8 104.8,179.7 104.3,178.6 103.8,177.5 103.3,176.4 102.9,175.3 102.4,174.2 102,173.1 101.6,172 101.2,170.9 100.7,169.8 100.3,168.7 100,167.6 99.6,166.5 99.2,165.4 98.8,164.3 98.4,163.1 98.1,162 97.7,160.9 97.4,159.8 97,158.7 96.7,157.5 96.3,156.4 96,155.3 95.7,154.1 95.4,153 95,151.8 94.7,150.7 94.4,149.5 94.1,148.4 93.9,147.2 93.6,146.1 93.3,144.9 93.1,143.7 92.8,142.5 92.6,141.4 92.3,140.2 92.1,139 91.9,137.8 91.7,136.6Z" fill="#0a50f8"/>
<path d="M94.3,135.4 94.1,134.2 93.9,133 93.8,131.8 93.6,130.6 93.5,129.5 93.3,128.3 93.2,127 93.1,125.8 93,124.6 92.9,123.4 92.8,122.2 92.7,120.9 92.6,119.7 92.6,118.5 92.5,117.2 92.5,115.9 92.4,114.7 92.4,113.4 92.4,112.1 92.4,110.9 92.4,109.6 92.4,108.3 92.4,107 92.5,105.7 92.5,104.4 92.6,103.1 92.7,101.7 92.8,100.4 92.9,99.1 93,97.7 93.2,96.4 93.3,95.1 93.5,93.7 93.7,92.3 93.9,91 94.1,89.6 94.3,88.3 94.6,86.9 94.9,85.5 95.1,84.1 95.4,82.7 95.7,81.4 96.1,80 96.4,78.6 96.8,77.2 97.1,75.7 97.5,74.3 97.9,72.9 98.3,71.5 98.7,70 99.2,68.6 99.6,67.2 100.1,65.7 100.6,64.3 101.2,62.8 101.7,61.4 102.3,60 102.9,58.5 103.6,57.1 104.2,55.7 105,54.3 105.7,53 106.5,51.6 107.3,50.3 108.1,48.9 108.9,47.6 109.8,46.3 110.7,45 111.6,43.7 112.6,42.4 113.5,41.2 114.5,39.9 115.5,38.6 116.6,37.4 117.6,36.2 118.7,35 119.8,33.8 120.9,32.6 122.1,31.5 123.3,30.4 124.6,29.4 125.9,28.5 127.2,27.7 128.6,26.9 130.1,26.3 131.6,25.7 133.1,25.3 134.7,24.9 136.3,24.6 138,24.5 139.6,24.3 141.2,24.2 142.9,24.2 144.5,24.2 146.1,24.1 147.7,24.1 149.3,24 150.9,24 152.5,23.9 154,23.8 155.5,23.7 157.1,23.6 158.6,23.5 160.1,23.3 161.6,23.2 163.1,23.1 164.6,23 166.1,22.9 167.6,22.8 169.1,22.7 170.6,22.6 172,22.5 173.5,22.5 175,22.4 176.5,22.4 178,22.4 179.5,22.4 180.9,22.5 182.4,22.5 183.9,22.6 185.4,22.7 186.8,22.8 188.3,22.9 189.8,23.1 191.3,23.2 192.7,23.4 194.2,23.6 195.6,23.8 197.1,24.1 198.5,24.3 200,24.6 201.4,24.9 202.8,25.3 204.2,25.7 205.6,26.1 207,26.5 208.4,27 209.8,27.5 211.2,28.1 212.5,28.7 213.8,29.3 215.1,30 216.4,30.7 217.7,31.5 218.9,32.3 220.1,33.1 221.3,34 222.5,34.9 223.6,35.8 224.8,36.8 225.9,37.7 226.9,38.7 228,39.7 229,40.8 230,41.8 231,42.9 232,43.9 233,45 233.9,46.1 234.8,47.2 235.7,48.3 236.6,49.4 237.4,50.5 238.3,51.6 239.1,52.8 239.9,53.9 240.7,55 241.5,56.1 242.2,57.3 243,58.4 243.7,59.5 244.5,60.6 245.2,61.7 245.9,62.8 246.6,63.9 247.3,64.9 248,66 248.7,67.1 249.4,68.1 250.1,69.2 250.8,70.2 251.5,71.3 252.1,72.3 252.8,73.3 253.5,74.4 254.1,75.4 254.7,76.5 255.4,77.5 256,78.5 256.6,79.6 257.2,80.6 257.8,81.7 258.4,82.7 259,83.8 259.6,84.8 260.1,85.9 260.7,86.9 261.2,88 261.8,89.1 262.3,90.1 262.8,91.2 263.3,92.3 263.8,93.3 264.3,94.4 264.7,95.5 265.2,96.6 265.7,97.7 266.1,98.8 266.5,99.9 267,101 267.4,102.1 267.8,103.2 268.2,104.3 268.6,105.4 269,106.5 269.4,107.6 269.8,108.7 270.2,109.8 270.5,110.9 270.9,112.1 271.3,113.2 271.6,114.3 272,115.4 272.3,116.6 272.7,117.7 273,118.9 273.3,120 273.7,121.2 274,122.3 274.3,123.5 274.6,124.6 274.9,125.8 275.2,127 275.5,128.2 275.7,129.4 276,130.6 276.3,131.8 276.5,133 276.8,134.2 277,135.4 277.2,136.6 277.4,137.8 277.6,139.1 277.8,140.3 277.9,141.5 278.1,142.8 278.2,144 278.4,145.3 278.5,146.6 278.6,147.8 278.6,149.1 278.7,150.4 278.8,151.7 278.8,153 278.8,154.3 278.8,155.6 278.8,156.9 278.8,158.2 278.8,159.5 278.7,160.8 278.7,162.1 278.6,163.4 278.5,164.7 278.4,166.1 278.3,167.4 278.1,168.7 278,170.1 277.8,171.4 277.7,172.8 277.5,174.1 277.3,175.5 277.1,176.9 276.9,178.3 276.7,179.6 276.5,181 276.2,182.4 276,183.8 275.7,185.2 275.5,186.7 275.2,188.1 274.9,189.5 274.6,191 274.3,192.4 274,193.9 273.7,195.4 273.3,196.8 272.9,198.3 272.5,199.8 272.1,201.2 271.6,202.7 271.1,204.1 270.5,205.5 269.9,206.9 269.3,208.3 268.7,209.7 268,211.1 267.2,212.4 266.5,213.7 265.7,215 264.9,216.3 264,217.6 263.1,218.9 262.2,220.1 261.3,221.4 260.4,222.6 259.4,223.8 258.4,225 257.4,226.2 256.4,227.4 255.4,228.5 254.3,229.7 253.3,230.9 252.2,232 251.1,233.1 250,234.3 248.8,235.4 247.7,236.5 246.5,237.5 245.3,238.6 244,239.6 242.8,240.5 241.5,241.4 240.1,242.3 238.8,243.1 237.4,243.8 235.9,244.5 234.5,245.1 233,245.7 231.6,246.3 230.1,246.8 228.5,247.3 227,247.7 225.5,248.1 224,248.5 222.4,248.9 220.9,249.3 219.4,249.6 217.8,249.9 216.3,250.2 214.7,250.4 213.2,250.6 211.6,250.9 210.1,251 208.5,251.2 207,251.3 205.4,251.4 203.8,251.5 202.3,251.5 200.7,251.5 199.2,251.4 197.6,251.3 196.1,251.1 194.5,250.9 193,250.7 191.4,250.4 189.9,250.1 188.4,249.7 186.9,249.3 185.4,248.8 183.9,248.3 182.4,247.8 181,247.3 179.5,246.7 178.1,246.1 176.7,245.5 175.3,244.9 173.9,244.3 172.5,243.7 171.2,243.1 169.8,242.4 168.5,241.8 167.2,241.1 165.8,240.4 164.6,239.8 163.3,239.1 162,238.4 160.7,237.7 159.5,237 158.3,236.3 157,235.6 155.8,234.9 154.6,234.2 153.4,233.5 152.3,232.7 151.1,232 149.9,231.3 148.8,230.6 147.6,229.8 146.5,229.1 145.4,228.3 144.3,227.5 143.3,226.7 142.2,225.8 141.2,225 140.2,224.1 139.2,223.2 138.2,222.3 137.2,221.3 136.3,220.4 135.4,219.4 134.5,218.4 133.6,217.4 132.7,216.4 131.9,215.5 131.1,214.5 130.2,213.5 129.4,212.5 128.6,211.5 127.8,210.5 127,209.5 126.3,208.5 125.5,207.5 124.7,206.5 124,205.5 123.2,204.5 122.5,203.6 121.8,202.6 121.1,201.6 120.4,200.6 119.7,199.6 119,198.6 118.3,197.6 117.6,196.6 117,195.7 116.3,194.7 115.7,193.7 115,192.7 114.4,191.7 113.8,190.7 113.2,189.7 112.6,188.6 112,187.6 111.4,186.6 110.8,185.6 110.3,184.6 109.7,183.5 109.2,182.5 108.7,181.5 108.2,180.4 107.7,179.4 107.2,178.3 106.7,177.3 106.2,176.2 105.8,175.2 105.3,174.1 104.9,173.1 104.5,172 104,170.9 103.6,169.9 103.2,168.8 102.8,167.7 102.5,166.6 102.1,165.6 101.7,164.5 101.3,163.4 101,162.3 100.6,161.2 100.3,160.2 99.9,159.1 99.6,158 99.2,156.9 98.9,155.8 98.6,154.7 98.3,153.6 98,152.5 97.7,151.4 97.4,150.3 97.1,149.1 96.8,148 96.5,146.9 96.3,145.8 96,144.6 95.7,143.5 95.5,142.3 95.3,141.2 95.1,140 94.8,138.9 94.6,137.7 94.4,136.6Z" fill="#00a8ff"/>
<path d="M96.6,135.4 96.4,134.2 96.3,133.1 96.1,131.9 96,130.8 95.8,129.6 95.7,128.4 95.6,127.3 95.5,126.1 95.4,124.9 95.3,123.7 95.2,122.5 95.1,121.3 95,120.1 95,118.9 94.9,117.7 94.9,116.5 94.9,115.2 94.8,114 94.8,112.8 94.8,111.5 94.8,110.3 94.9,109 94.9,107.7 94.9,106.5 95,105.2 95.1,103.9 95.2,102.6 95.3,101.4 95.4,100.1 95.5,98.8 95.7,97.5 95.8,96.2 96,94.9 96.2,93.5 96.4,92.2 96.6,90.9 96.8,89.6 97.1,88.2 97.4,86.9 97.6,85.6 97.9,84.2 98.3,82.9 98.6,81.5 98.9,80.2 99.3,78.8 99.7,77.5 100,76.1 100.4,74.7 100.9,73.4 101.3,72 101.8,70.6 102.2,69.3 102.7,67.9 103.3,66.5 103.8,65.1 104.4,63.8 105,62.4 105.6,61.1 106.2,59.7 106.9,58.4 107.6,57.1 108.3,55.8 109.1,54.5 109.9,53.2 110.7,51.9 111.5,50.6 112.4,49.4 113.3,48.2 114.2,46.9 115.1,45.7 116.1,44.5 117,43.3 118,42.2 119,41 120.1,39.8 121.1,38.7 122.2,37.6 123.3,36.5 124.5,35.5 125.7,34.5 126.9,33.5 128.1,32.6 129.4,31.8 130.7,31.1 132.1,30.4 133.5,29.8 135,29.2 136.4,28.8 137.9,28.4 139.4,28.1 141,27.8 142.5,27.5 144,27.3 145.6,27.2 147.1,27 148.6,26.8 150.1,26.7 151.7,26.5 153.2,26.4 154.7,26.2 156.1,26.1 157.6,25.9 159.1,25.8 160.6,25.6 162,25.5 163.5,25.4 165,25.3 166.5,25.2 167.9,25.2 169.4,25.1 170.8,25.1 172.3,25.1 173.8,25.1 175.2,25.1 176.7,25.2 178.1,25.2 179.6,25.3 181,25.4 182.5,25.6 183.9,25.7 185.3,25.9 186.8,26.1 188.2,26.3 189.6,26.5 191,26.8 192.4,27 193.8,27.3 195.2,27.6 196.6,28 198,28.3 199.4,28.7 200.7,29.1 202.1,29.5 203.4,30 204.8,30.5 206.1,31 207.4,31.5 208.7,32.1 210,32.7 211.3,33.3 212.5,34 213.7,34.6 215,35.4 216.2,36.1 217.3,36.9 218.5,37.7 219.6,38.5 220.7,39.4 221.8,40.3 222.9,41.2 224,42.1 225,43 226,44 227,44.9 228,45.9 229,46.9 229.9,47.9 230.9,48.9 231.8,49.9 232.7,50.9 233.5,51.9 234.4,53 235.3,54 236.1,55 236.9,56.1 237.7,57.1 238.5,58.2 239.2,59.2 240,60.2 240.8,61.3 241.5,62.3 242.2,63.4 242.9,64.4 243.7,65.4 244.4,66.4 245.1,67.5 245.7,68.5 246.4,69.5 247.1,70.5 247.8,71.5 248.4,72.5 249.1,73.5 249.7,74.5 250.4,75.5 251,76.5 251.6,77.5 252.3,78.5 252.9,79.5 253.5,80.5 254.1,81.5 254.7,82.5 255.2,83.6 255.8,84.6 256.4,85.6 256.9,86.6 257.4,87.6 258,88.6 258.5,89.7 259,90.7 259.5,91.7 260,92.8 260.5,93.8 261,94.8 261.4,95.9 261.9,96.9 262.3,98 262.8,99 263.2,100.1 263.6,101.1 264,102.2 264.4,103.2 264.8,104.3 265.2,105.4 265.6,106.4 266,107.5 266.4,108.6 266.8,109.7 267.1,110.7 267.5,111.8 267.8,112.9 268.2,114 268.5,115.1 268.9,116.2 269.2,117.3 269.5,118.4 269.8,119.5 270.1,120.6 270.4,121.7 270.7,122.8 271,123.9 271.3,125 271.6,126.2 271.8,127.3 272.1,128.4 272.4,129.6 272.6,130.7 272.8,131.9 273.1,133 273.3,134.2 273.5,135.4 273.7,136.6 273.9,137.7 274.1,138.9 274.2,140.1 274.4,141.3 274.5,142.5 274.7,143.7 274.8,144.9 274.9,146.1 275,147.4 275,148.6 275.1,149.8 275.2,151.1 275.2,152.3 275.2,153.5 275.3,154.8 275.3,156.1 275.2,157.3 275.2,158.6 275.2,159.8 275.1,161.1 275.1,162.4 275,163.7 274.9,164.9 274.8,166.2 274.7,167.5 274.5,168.8 274.4,170.1 274.3,171.4 274.1,172.7 273.9,174.1 273.7,175.4 273.5,176.7 273.3,178 273.1,179.4 272.9,180.7 272.6,182.1 272.4,183.4 272.1,184.8 271.9,186.2 271.6,187.5 271.3,188.9 271,190.3 270.6,191.7 270.3,193.1 269.9,194.5 269.5,195.9 269.1,197.3 268.6,198.7 268.2,200 267.7,201.4 267.1,202.8 266.6,204.1 266,205.5 265.3,206.8 264.7,208.1 264,209.4 263.3,210.7 262.5,212 261.8,213.2 261,214.5 260.1,215.7 259.3,216.9 258.4,218.2 257.5,219.4 256.6,220.5 255.7,221.7 254.8,222.9 253.8,224 252.8,225.2 251.8,226.3 250.8,227.4 249.7,228.5 248.7,229.6 247.6,230.7 246.5,231.8 245.4,232.8 244.2,233.8 243.1,234.8 241.9,235.8 240.6,236.7 239.4,237.6 238.1,238.4 236.8,239.2 235.5,239.9 234.1,240.6 232.7,241.3 231.3,241.9 229.9,242.5 228.5,243 227.1,243.5 225.6,244 224.1,244.5 222.7,244.9 221.2,245.3 219.7,245.6 218.2,246 216.8,246.3 215.3,246.6 213.8,246.9 212.3,247.1 210.8,247.3 209.3,247.5 207.8,247.6 206.3,247.8 204.7,247.8 203.2,247.9 201.7,247.9 200.2,247.9 198.7,247.9 197.2,247.8 195.7,247.6 194.2,247.4 192.7,247.2 191.2,247 189.7,246.7 188.3,246.4 186.8,246 185.3,245.6 183.9,245.2 182.5,244.7 181,244.2 179.6,243.7 178.2,243.2 176.9,242.7 175.5,242.1 174.1,241.5 172.8,241 171.5,240.4 170.2,239.8 168.9,239.1 167.6,238.5 166.3,237.9 165,237.2 163.8,236.6 162.5,235.9 161.3,235.2 160.1,234.5 158.9,233.8 157.7,233.1 156.5,232.4 155.4,231.7 154.2,231 153.1,230.3 151.9,229.5 150.8,228.8 149.7,228.1 148.6,227.3 147.5,226.5 146.5,225.8 145.4,225 144.4,224.1 143.4,223.3 142.4,222.5 141.4,221.6 140.4,220.7 139.5,219.8 138.5,218.9 137.6,218 136.7,217.1 135.9,216.1 135,215.2 134.1,214.2 133.3,213.3 132.5,212.3 131.7,211.4 130.9,210.4 130.1,209.5 129.3,208.5 128.5,207.5 127.8,206.6 127,205.6 126.3,204.7 125.5,203.7 124.8,202.7 124.1,201.8 123.4,200.8 122.7,199.9 122,198.9 121.3,197.9 120.7,197 120,196 119.4,195 118.7,194.1 118.1,193.1 117.5,192.1 116.9,191.1 116.2,190.2 115.6,189.2 115.1,188.2 114.5,187.2 113.9,186.2 113.4,185.2 112.8,184.2 112.3,183.2 111.7,182.2 111.2,181.2 110.7,180.2 110.2,179.2 109.7,178.2 109.3,177.2 108.8,176.2 108.3,175.1 107.9,174.1 107.4,173.1 107,172.1 106.6,171 106.2,170 105.8,168.9 105.4,167.9 105,166.9 104.6,165.8 104.2,164.8 103.8,163.7 103.5,162.7 103.1,161.6 102.8,160.6 102.4,159.5 102.1,158.5 101.8,157.4 101.4,156.3 101.1,155.3 100.8,154.2 100.5,153.1 100.2,152 99.9,150.9 99.6,149.9 99.3,148.8 99.1,147.7 98.8,146.6 98.5,145.5 98.3,144.4 98,143.3 97.8,142.2 97.6,141 97.4,139.9 97.2,138.8 97,137.7 96.8,136.5Z" fill="#00e8f0"/>
<path d="M98.6,135.4 98.5,134.3 98.3,133.1 98.2,132 98,130.9 97.9,129.7 97.8,128.6 97.6,127.5 97.5,126.3 97.4,125.1 97.3,124 97.3,122.8 97.2,121.6 97.1,120.5 97.1,119.3 97,118.1 97,116.9 97,115.7 97,114.5 97,113.3 97,112.1 97,110.9 97,109.6 97,108.4 97.1,107.2 97.2,105.9 97.2,104.7 97.3,103.4 97.4,102.2 97.6,100.9 97.7,99.7 97.8,98.4 98,97.1 98.2,95.9 98.4,94.6 98.6,93.3 98.8,92 99,90.7 99.3,89.4 99.5,88.1 99.8,86.8 100.1,85.5 100.4,84.2 100.8,82.9 101.1,81.6 101.5,80.3 101.9,79 102.3,77.7 102.7,76.4 103.1,75.1 103.6,73.7 104,72.4 104.5,71.1 105,69.8 105.6,68.5 106.1,67.2 106.7,65.9 107.3,64.6 107.9,63.3 108.6,62 109.2,60.7 109.9,59.4 110.7,58.2 111.4,57 112.2,55.7 113,54.5 113.8,53.3 114.6,52.1 115.5,50.9 116.4,49.8 117.3,48.6 118.3,47.5 119.2,46.3 120.2,45.2 121.2,44.1 122.2,43.1 123.3,42 124.3,41 125.4,40 126.5,39 127.7,38 128.9,37.1 130.1,36.3 131.3,35.4 132.6,34.7 133.9,34 135.2,33.3 136.6,32.7 137.9,32.2 139.3,31.7 140.8,31.2 142.2,30.8 143.6,30.4 145.1,30.1 146.5,29.8 148,29.5 149.4,29.2 150.9,29 152.3,28.8 153.8,28.5 155.2,28.3 156.7,28.1 158.1,27.9 159.6,27.8 161,27.6 162.4,27.5 163.9,27.4 165.3,27.3 166.8,27.3 168.2,27.3 169.7,27.2 171.1,27.3 172.5,27.3 174,27.4 175.4,27.4 176.8,27.5 178.3,27.7 179.7,27.8 181.1,28 182.5,28.2 183.9,28.4 185.3,28.7 186.7,28.9 188.1,29.2 189.4,29.5 190.8,29.9 192.2,30.2 193.5,30.6 194.9,31 196.2,31.4 197.5,31.8 198.8,32.3 200.2,32.8 201.4,33.3 202.7,33.8 204,34.3 205.3,34.9 206.5,35.5 207.7,36.1 209,36.7 210.2,37.4 211.4,38 212.5,38.7 213.7,39.5 214.8,40.2 215.9,41 217.1,41.8 218.1,42.6 219.2,43.4 220.3,44.2 221.3,45.1 222.3,45.9 223.3,46.8 224.3,47.7 225.3,48.6 226.2,49.5 227.2,50.4 228.1,51.3 229,52.3 229.9,53.2 230.8,54.2 231.7,55.1 232.5,56.1 233.3,57 234.2,58 235,59 235.8,59.9 236.5,60.9 237.3,61.9 238.1,62.9 238.8,63.8 239.5,64.8 240.3,65.8 241,66.8 241.7,67.7 242.4,68.7 243.1,69.7 243.7,70.6 244.4,71.6 245.1,72.6 245.7,73.5 246.4,74.5 247,75.5 247.6,76.5 248.3,77.4 248.9,78.4 249.5,79.4 250.1,80.3 250.7,81.3 251.3,82.3 251.8,83.3 252.4,84.2 253,85.2 253.5,86.2 254,87.2 254.6,88.2 255.1,89.2 255.6,90.1 256.1,91.1 256.6,92.1 257.1,93.1 257.6,94.1 258,95.1 258.5,96.1 258.9,97.2 259.4,98.2 259.8,99.2 260.2,100.2 260.7,101.2 261.1,102.2 261.5,103.3 261.9,104.3 262.3,105.3 262.6,106.3 263,107.4 263.4,108.4 263.7,109.4 264.1,110.5 264.5,111.5 264.8,112.6 265.1,113.6 265.5,114.7 265.8,115.7 266.1,116.8 266.4,117.8 266.7,118.9 267,120 267.3,121 267.6,122.1 267.9,123.2 268.1,124.3 268.4,125.4 268.7,126.5 268.9,127.6 269.2,128.7 269.4,129.8 269.6,130.9 269.8,132 270,133.1 270.3,134.2 270.4,135.4 270.6,136.5 270.8,137.7 271,138.8 271.1,140 271.3,141.1 271.4,142.3 271.5,143.4 271.6,144.6 271.7,145.8 271.8,147 271.9,148.1 272,149.3 272,150.5 272.1,151.7 272.1,152.9 272.1,154.1 272.1,155.3 272.1,156.6 272.1,157.8 272.1,159 272,160.2 272,161.5 271.9,162.7 271.8,164 271.8,165.2 271.7,166.5 271.5,167.7 271.4,169 271.3,170.2 271.1,171.5 271,172.8 270.8,174.1 270.6,175.3 270.4,176.6 270.2,177.9 270,179.2 269.7,180.5 269.5,181.8 269.2,183.2 268.9,184.5 268.6,185.8 268.3,187.1 268,188.4 267.7,189.8 267.3,191.1 266.9,192.4 266.5,193.8 266.1,195.1 265.7,196.4 265.2,197.8 264.7,199.1 264.2,200.4 263.6,201.7 263,203 262.4,204.3 261.8,205.5 261.2,206.8 260.5,208.1 259.8,209.3 259.1,210.5 258.3,211.8 257.5,213 256.7,214.2 255.9,215.4 255.1,216.5 254.2,217.7 253.3,218.9 252.4,220 251.5,221.1 250.5,222.2 249.6,223.3 248.6,224.4 247.6,225.5 246.6,226.5 245.5,227.6 244.4,228.6 243.3,229.6 242.2,230.6 241.1,231.5 239.9,232.4 238.8,233.3 237.6,234.2 236.3,235 235.1,235.8 233.8,236.5 232.5,237.2 231.2,237.9 229.8,238.6 228.5,239.2 227.1,239.7 225.7,240.3 224.4,240.8 223,241.2 221.5,241.7 220.1,242.1 218.7,242.5 217.3,242.8 215.8,243.2 214.4,243.5 212.9,243.7 211.5,244 210,244.2 208.6,244.4 207.1,244.5 205.6,244.7 204.2,244.7 202.7,244.8 201.2,244.8 199.8,244.8 198.3,244.8 196.8,244.7 195.4,244.6 193.9,244.4 192.5,244.2 191,244 189.6,243.7 188.1,243.4 186.7,243.1 185.3,242.8 183.9,242.4 182.5,242 181.1,241.6 179.7,241.1 178.4,240.6 177,240.1 175.7,239.6 174.4,239.1 173.1,238.6 171.8,238 170.5,237.4 169.2,236.8 167.9,236.2 166.7,235.6 165.4,235 164.2,234.3 163,233.7 161.8,233 160.6,232.3 159.4,231.7 158.3,231 157.1,230.3 156,229.5 154.9,228.8 153.8,228.1 152.7,227.4 151.6,226.6 150.5,225.9 149.5,225.1 148.4,224.3 147.4,223.5 146.4,222.7 145.4,221.9 144.4,221.1 143.4,220.3 142.4,219.4 141.5,218.6 140.6,217.7 139.7,216.8 138.8,215.9 137.9,215 137,214.1 136.2,213.2 135.4,212.3 134.5,211.4 133.7,210.5 132.9,209.6 132.1,208.6 131.4,207.7 130.6,206.8 129.8,205.8 129.1,204.9 128.3,204 127.6,203 126.9,202.1 126.2,201.2 125.5,200.2 124.8,199.3 124.1,198.4 123.5,197.4 122.8,196.5 122.2,195.5 121.5,194.6 120.9,193.6 120.3,192.7 119.7,191.7 119,190.8 118.4,189.8 117.9,188.9 117.3,187.9 116.7,186.9 116.2,186 115.6,185 115.1,184 114.5,183.1 114,182.1 113.5,181.1 113,180.1 112.5,179.1 112,178.1 111.5,177.2 111.1,176.2 110.6,175.2 110.2,174.2 109.7,173.2 109.3,172.2 108.9,171.2 108.4,170.2 108,169.2 107.6,168.1 107.2,167.1 106.8,166.1 106.5,165.1 106.1,164.1 105.7,163.1 105.4,162 105,161 104.7,160 104.3,158.9 104,157.9 103.7,156.9 103.4,155.8 103,154.8 102.7,153.7 102.4,152.7 102.1,151.6 101.9,150.6 101.6,149.5 101.3,148.5 101,147.4 100.8,146.3 100.5,145.2 100.3,144.2 100.1,143.1 99.8,142 99.6,140.9 99.4,139.8 99.2,138.7 99,137.6 98.8,136.5Z" fill="#00ee40"/>
<path d="M99.5,135.4 99.4,134.3 99.2,133.2 99,132 98.9,130.9 98.8,129.8 98.6,128.7 98.5,127.5 98.4,126.4 98.3,125.3 98.2,124.1 98.2,122.9 98.1,121.8 98,120.6 98,119.5 97.9,118.3 97.9,117.1 97.9,115.9 97.9,114.7 97.9,113.5 97.9,112.3 97.9,111.1 97.9,109.9 98,108.7 98,107.5 98.1,106.3 98.2,105 98.3,103.8 98.4,102.5 98.5,101.3 98.6,100.1 98.8,98.8 98.9,97.6 99.1,96.3 99.3,95 99.5,93.8 99.7,92.5 100,91.2 100.2,89.9 100.5,88.7 100.8,87.4 101.1,86.1 101.4,84.8 101.7,83.5 102.1,82.2 102.4,80.9 102.8,79.7 103.2,78.4 103.6,77.1 104.1,75.8 104.5,74.5 105,73.2 105.5,71.9 106,70.6 106.5,69.3 107.1,68 107.7,66.7 108.3,65.5 108.9,64.2 109.6,63 110.2,61.7 110.9,60.5 111.6,59.2 112.4,58 113.2,56.8 114,55.6 114.8,54.4 115.6,53.3 116.5,52.1 117.4,51 118.3,49.8 119.2,48.7 120.1,47.6 121.1,46.5 122.1,45.5 123.1,44.4 124.2,43.4 125.2,42.4 126.3,41.4 127.4,40.5 128.6,39.5 129.7,38.7 130.9,37.8 132.1,37 133.4,36.2 134.6,35.5 135.9,34.8 137.3,34.2 138.6,33.6 139.9,33.1 141.3,32.6 142.7,32.1 144.1,31.7 145.5,31.3 146.9,30.9 148.3,30.6 149.8,30.3 151.2,30 152.6,29.7 154,29.5 155.5,29.2 156.9,29 158.3,28.8 159.7,28.7 161.2,28.5 162.6,28.4 164.1,28.3 165.5,28.2 166.9,28.2 168.4,28.2 169.8,28.2 171.2,28.2 172.6,28.2 174.1,28.3 175.5,28.4 176.9,28.6 178.3,28.7 179.7,28.9 181.1,29.1 182.5,29.3 183.9,29.6 185.3,29.9 186.7,30.2 188,30.5 189.4,30.8 190.7,31.2 192.1,31.6 193.4,32 194.7,32.4 196,32.9 197.3,33.3 198.6,33.8 199.9,34.3 201.2,34.9 202.4,35.4 203.7,36 204.9,36.6 206.1,37.2 207.3,37.8 208.5,38.4 209.7,39.1 210.9,39.8 212,40.5 213.1,41.2 214.3,42 215.4,42.7 216.4,43.5 217.5,44.3 218.6,45.1 219.6,45.9 220.6,46.7 221.6,47.6 222.6,48.4 223.6,49.3 224.5,50.2 225.5,51 226.4,51.9 227.3,52.8 228.2,53.7 229.1,54.6 230,55.5 230.8,56.5 231.7,57.4 232.5,58.3 233.3,59.3 234.1,60.2 234.9,61.1 235.7,62.1 236.5,63 237.2,64 238,64.9 238.7,65.9 239.4,66.8 240.1,67.8 240.8,68.7 241.5,69.7 242.2,70.6 242.9,71.6 243.6,72.5 244.2,73.5 244.9,74.4 245.5,75.4 246.1,76.3 246.8,77.3 247.4,78.2 248,79.2 248.6,80.1 249.2,81.1 249.7,82.1 250.3,83 250.9,84 251.4,85 252,85.9 252.5,86.9 253,87.9 253.6,88.8 254.1,89.8 254.6,90.8 255.1,91.8 255.6,92.7 256,93.7 256.5,94.7 257,95.7 257.4,96.7 257.9,97.7 258.3,98.7 258.7,99.7 259.1,100.7 259.6,101.7 260,102.7 260.4,103.7 260.8,104.7 261.1,105.7 261.5,106.7 261.9,107.8 262.3,108.8 262.6,109.8 263,110.8 263.3,111.9 263.6,112.9 264,113.9 264.3,115 264.6,116 264.9,117 265.2,118.1 265.5,119.1 265.8,120.2 266.1,121.3 266.4,122.3 266.7,123.4 266.9,124.5 267.2,125.5 267.4,126.6 267.7,127.7 267.9,128.8 268.1,129.9 268.3,131 268.6,132.1 268.8,133.2 269,134.3 269.1,135.4 269.3,136.5 269.5,137.6 269.6,138.7 269.8,139.9 269.9,141 270.1,142.2 270.2,143.3 270.3,144.5 270.4,145.6 270.5,146.8 270.6,147.9 270.6,149.1 270.7,150.3 270.7,151.5 270.8,152.7 270.8,153.8 270.8,155 270.8,156.2 270.8,157.4 270.8,158.7 270.7,159.9 270.7,161.1 270.6,162.3 270.5,163.5 270.5,164.8 270.4,166 270.3,167.2 270.1,168.5 270,169.7 269.9,171 269.7,172.2 269.5,173.5 269.3,174.8 269.1,176 268.9,177.3 268.7,178.6 268.5,179.9 268.2,181.2 267.9,182.4 267.7,183.7 267.4,185 267.1,186.3 266.7,187.6 266.4,188.9 266,190.3 265.6,191.6 265.2,192.9 264.8,194.2 264.4,195.5 263.9,196.8 263.4,198.1 262.9,199.4 262.4,200.6 261.8,201.9 261.2,203.2 260.6,204.4 260,205.7 259.3,206.9 258.6,208.2 257.9,209.4 257.2,210.6 256.4,211.8 255.6,213 254.8,214.2 254,215.3 253.2,216.5 252.3,217.6 251.4,218.8 250.5,219.9 249.6,221 248.6,222.1 247.7,223.1 246.7,224.2 245.6,225.2 244.6,226.2 243.6,227.2 242.5,228.2 241.4,229.2 240.3,230.1 239.1,231 238,231.9 236.8,232.7 235.6,233.6 234.3,234.3 233.1,235.1 231.8,235.8 230.5,236.5 229.2,237.1 227.9,237.7 226.5,238.3 225.2,238.9 223.8,239.4 222.4,239.9 221.1,240.3 219.7,240.7 218.3,241.1 216.8,241.5 215.4,241.8 214,242.1 212.6,242.4 211.1,242.7 209.7,242.9 208.3,243 206.8,243.2 205.4,243.3 203.9,243.4 202.5,243.5 201,243.5 199.6,243.5 198.1,243.4 196.7,243.4 195.2,243.2 193.8,243.1 192.4,242.9 190.9,242.7 189.5,242.5 188.1,242.2 186.7,241.9 185.3,241.6 183.9,241.2 182.5,240.8 181.1,240.4 179.8,240 178.4,239.5 177.1,239.1 175.8,238.6 174.5,238.1 173.2,237.5 171.9,237 170.6,236.4 169.3,235.8 168.1,235.2 166.8,234.6 165.6,234 164.4,233.4 163.2,232.7 162,232.1 160.8,231.4 159.7,230.7 158.5,230 157.4,229.3 156.3,228.6 155.2,227.9 154.1,227.2 153,226.4 151.9,225.7 150.9,224.9 149.8,224.2 148.8,223.4 147.8,222.6 146.8,221.8 145.8,221 144.8,220.2 143.9,219.3 142.9,218.5 142,217.7 141.1,216.8 140.2,215.9 139.3,215.1 138.4,214.2 137.6,213.3 136.7,212.4 135.9,211.5 135.1,210.6 134.3,209.7 133.5,208.8 132.7,207.9 131.9,207 131.1,206 130.4,205.1 129.6,204.2 128.9,203.3 128.2,202.4 127.5,201.4 126.8,200.5 126.1,199.6 125.4,198.6 124.7,197.7 124.1,196.8 123.4,195.8 122.8,194.9 122.2,194 121.5,193 120.9,192.1 120.3,191.1 119.7,190.2 119.1,189.2 118.6,188.3 118,187.3 117.4,186.4 116.9,185.4 116.3,184.5 115.8,183.5 115.3,182.5 114.8,181.6 114.2,180.6 113.8,179.6 113.3,178.7 112.8,177.7 112.3,176.7 111.8,175.7 111.4,174.8 110.9,173.8 110.5,172.8 110.1,171.8 109.6,170.8 109.2,169.8 108.8,168.8 108.4,167.8 108,166.8 107.6,165.8 107.3,164.8 106.9,163.8 106.5,162.8 106.2,161.8 105.8,160.7 105.5,159.7 105.1,158.7 104.8,157.7 104.5,156.7 104.2,155.6 103.9,154.6 103.6,153.6 103.3,152.5 103,151.5 102.7,150.4 102.4,149.4 102.1,148.3 101.9,147.3 101.6,146.2 101.4,145.1 101.1,144.1 100.9,143 100.7,141.9 100.5,140.8 100.3,139.8 100.1,138.7 99.9,137.6 99.7,136.5Z" fill="#80f000"/>
<path d="M100.3,135.4 100.1,134.3 100,133.2 99.8,132.1 99.7,131 99.6,129.9 99.4,128.7 99.3,127.6 99.2,126.5 99.1,125.3 99,124.2 99,123.1 98.9,121.9 98.8,120.8 98.8,119.6 98.7,118.4 98.7,117.3 98.7,116.1 98.7,114.9 98.7,113.7 98.7,112.5 98.7,111.4 98.7,110.2 98.8,109 98.8,107.7 98.9,106.5 99,105.3 99.1,104.1 99.2,102.9 99.3,101.6 99.5,100.4 99.6,99.2 99.8,97.9 99.9,96.7 100.1,95.4 100.3,94.2 100.6,92.9 100.8,91.7 101.1,90.4 101.3,89.1 101.6,87.9 101.9,86.6 102.2,85.3 102.6,84.1 102.9,82.8 103.3,81.5 103.7,80.2 104.1,79 104.5,77.7 104.9,76.4 105.4,75.1 105.9,73.9 106.4,72.6 106.9,71.3 107.4,70.1 108,68.8 108.6,67.5 109.2,66.3 109.8,65.1 110.4,63.8 111.1,62.6 111.8,61.4 112.5,60.2 113.3,59 114,57.8 114.8,56.6 115.6,55.4 116.5,54.3 117.3,53.2 118.2,52 119.1,50.9 120,49.8 121,48.8 121.9,47.7 122.9,46.7 123.9,45.7 125,44.7 126,43.7 127.1,42.7 128.2,41.8 129.3,40.9 130.5,40 131.7,39.2 132.9,38.4 134.1,37.6 135.3,36.9 136.6,36.2 137.9,35.5 139.2,34.9 140.5,34.3 141.8,33.8 143.2,33.3 144.5,32.8 145.9,32.4 147.3,31.9 148.7,31.6 150,31.2 151.4,30.9 152.9,30.6 154.3,30.3 155.7,30 157.1,29.8 158.5,29.6 159.9,29.4 161.3,29.3 162.8,29.2 164.2,29.1 165.6,29 167,29 168.5,29 169.9,29 171.3,29 172.7,29.1 174.1,29.2 175.6,29.3 177,29.5 178.4,29.7 179.8,29.9 181.1,30.1 182.5,30.4 183.9,30.6 185.3,30.9 186.6,31.3 188,31.6 189.3,32 190.7,32.4 192,32.8 193.3,33.2 194.6,33.7 195.9,34.2 197.2,34.7 198.4,35.2 199.7,35.7 200.9,36.3 202.2,36.8 203.4,37.4 204.6,38 205.8,38.7 207,39.3 208.1,40 209.3,40.6 210.4,41.3 211.5,42 212.7,42.8 213.8,43.5 214.8,44.3 215.9,45 216.9,45.8 218,46.6 219,47.4 220,48.2 221,49 222,49.9 222.9,50.7 223.9,51.6 224.8,52.4 225.7,53.3 226.6,54.1 227.5,55 228.4,55.9 229.3,56.8 230.1,57.7 231,58.6 231.8,59.5 232.6,60.4 233.4,61.3 234.2,62.2 235,63.1 235.7,64 236.5,65 237.2,65.9 238,66.8 238.7,67.7 239.4,68.7 240.1,69.6 240.8,70.5 241.5,71.5 242.1,72.4 242.8,73.3 243.4,74.3 244.1,75.2 244.7,76.1 245.3,77.1 246,78 246.6,79 247.2,79.9 247.7,80.8 248.3,81.8 248.9,82.7 249.5,83.7 250,84.6 250.6,85.6 251.1,86.6 251.6,87.5 252.2,88.5 252.7,89.4 253.2,90.4 253.7,91.4 254.2,92.3 254.6,93.3 255.1,94.3 255.6,95.2 256,96.2 256.5,97.2 256.9,98.2 257.3,99.2 257.8,100.1 258.2,101.1 258.6,102.1 259,103.1 259.4,104.1 259.8,105.1 260.2,106.1 260.5,107.1 260.9,108.1 261.3,109.1 261.6,110.1 262,111.1 262.3,112.2 262.6,113.2 263,114.2 263.3,115.2 263.6,116.2 263.9,117.3 264.2,118.3 264.5,119.4 264.8,120.4 265,121.4 265.3,122.5 265.6,123.5 265.8,124.6 266.1,125.7 266.3,126.7 266.6,127.8 266.8,128.9 267,129.9 267.2,131 267.4,132.1 267.6,133.2 267.8,134.3 268,135.4 268.1,136.5 268.3,137.6 268.5,138.7 268.6,139.8 268.7,140.9 268.9,142.1 269,143.2 269.1,144.3 269.2,145.5 269.3,146.6 269.4,147.8 269.4,148.9 269.5,150.1 269.5,151.2 269.6,152.4 269.6,153.6 269.6,154.8 269.6,156 269.6,157.1 269.6,158.3 269.5,159.5 269.5,160.7 269.4,161.9 269.4,163.2 269.3,164.4 269.2,165.6 269.1,166.8 269,168 268.9,169.3 268.7,170.5 268.6,171.8 268.4,173 268.2,174.3 268,175.5 267.8,176.8 267.6,178 267.4,179.3 267.1,180.6 266.8,181.8 266.5,183.1 266.3,184.4 265.9,185.7 265.6,186.9 265.3,188.2 264.9,189.5 264.5,190.8 264.1,192.1 263.7,193.3 263.2,194.6 262.8,195.9 262.3,197.2 261.8,198.4 261.2,199.7 260.7,201 260.1,202.2 259.5,203.5 258.9,204.7 258.2,205.9 257.6,207.1 256.9,208.4 256.2,209.6 255.4,210.7 254.7,211.9 253.9,213.1 253.1,214.3 252.2,215.4 251.4,216.5 250.5,217.7 249.6,218.8 248.7,219.8 247.8,220.9 246.8,222 245.8,223 244.8,224.1 243.8,225.1 242.8,226 241.7,227 240.6,228 239.5,228.9 238.4,229.8 237.2,230.6 236.1,231.5 234.9,232.3 233.7,233 232.4,233.8 231.2,234.5 229.9,235.2 228.6,235.8 227.3,236.5 226,237 224.7,237.6 223.3,238.1 222,238.6 220.6,239.1 219.3,239.5 217.9,239.9 216.5,240.3 215.1,240.6 213.7,240.9 212.3,241.2 210.8,241.5 209.4,241.7 208,241.9 206.6,242 205.1,242.1 203.7,242.2 202.3,242.3 200.8,242.3 199.4,242.3 198,242.2 196.5,242.2 195.1,242.1 193.7,241.9 192.3,241.8 190.9,241.6 189.5,241.3 188.1,241.1 186.7,240.8 185.3,240.5 183.9,240.1 182.5,239.8 181.2,239.4 179.8,239 178.5,238.5 177.2,238.1 175.9,237.6 174.6,237.1 173.3,236.6 172,236.1 170.7,235.5 169.5,235 168.2,234.4 167,233.8 165.8,233.2 164.6,232.5 163.4,231.9 162.2,231.2 161,230.6 159.9,229.9 158.8,229.2 157.6,228.5 156.5,227.8 155.4,227.1 154.3,226.3 153.3,225.6 152.2,224.9 151.2,224.1 150.1,223.3 149.1,222.5 148.1,221.8 147.1,221 146.2,220.2 145.2,219.3 144.2,218.5 143.3,217.7 142.4,216.8 141.5,216 140.6,215.1 139.7,214.3 138.9,213.4 138,212.5 137.2,211.6 136.3,210.8 135.5,209.9 134.7,209 133.9,208.1 133.2,207.2 132.4,206.3 131.6,205.4 130.9,204.5 130.1,203.6 129.4,202.7 128.7,201.7 128,200.8 127.3,199.9 126.6,199 126,198.1 125.3,197.1 124.6,196.2 124,195.3 123.4,194.4 122.7,193.4 122.1,192.5 121.5,191.6 120.9,190.6 120.3,189.7 119.7,188.7 119.2,187.8 118.6,186.8 118.1,185.9 117.5,185 117,184 116.4,183 115.9,182.1 115.4,181.1 114.9,180.2 114.4,179.2 113.9,178.3 113.5,177.3 113,176.3 112.5,175.3 112.1,174.4 111.6,173.4 111.2,172.4 110.8,171.4 110.4,170.5 109.9,169.5 109.5,168.5 109.1,167.5 108.7,166.5 108.4,165.5 108,164.5 107.6,163.5 107.3,162.5 106.9,161.5 106.5,160.5 106.2,159.5 105.9,158.5 105.5,157.5 105.2,156.5 104.9,155.4 104.6,154.4 104.3,153.4 104,152.4 103.7,151.3 103.4,150.3 103.2,149.3 102.9,148.2 102.6,147.2 102.4,146.1 102.1,145.1 101.9,144 101.7,142.9 101.5,141.9 101.2,140.8 101,139.7 100.8,138.6 100.7,137.6 100.5,136.5Z" fill="#f0f000"/>
<path d="M101.3,135.4 101.1,134.3 101,133.2 100.8,132.1 100.7,131 100.5,129.9 100.4,128.8 100.3,127.7 100.2,126.6 100.1,125.5 100,124.3 99.9,123.2 99.9,122.1 99.8,120.9 99.8,119.8 99.7,118.6 99.7,117.5 99.7,116.3 99.7,115.2 99.7,114 99.7,112.8 99.7,111.6 99.8,110.5 99.8,109.3 99.9,108.1 99.9,106.9 100,105.7 100.1,104.5 100.2,103.3 100.4,102 100.5,100.8 100.6,99.6 100.8,98.4 101,97.2 101.2,95.9 101.4,94.7 101.6,93.4 101.8,92.2 102.1,91 102.4,89.7 102.6,88.5 102.9,87.2 103.3,86 103.6,84.7 104,83.5 104.3,82.2 104.7,81 105.1,79.7 105.5,78.5 106,77.2 106.5,76 106.9,74.7 107.4,73.5 108,72.2 108.5,71 109.1,69.8 109.7,68.5 110.3,67.3 110.9,66.1 111.5,64.9 112.2,63.7 112.9,62.5 113.6,61.3 114.4,60.2 115.1,59 115.9,57.8 116.7,56.7 117.5,55.6 118.4,54.5 119.3,53.4 120.2,52.3 121.1,51.3 122,50.2 123,49.2 124,48.2 125,47.2 126,46.2 127,45.3 128.1,44.4 129.2,43.5 130.3,42.6 131.5,41.7 132.6,40.9 133.8,40.1 135,39.3 136.2,38.6 137.4,37.9 138.6,37.2 139.9,36.5 141.2,35.9 142.4,35.3 143.7,34.7 145.1,34.2 146.4,33.7 147.7,33.2 149.1,32.8 150.4,32.3 151.8,32 153.2,31.6 154.5,31.3 155.9,31 157.3,30.8 158.7,30.6 160.1,30.4 161.5,30.2 163,30.1 164.4,30 165.8,30 167.2,29.9 168.6,29.9 170,30 171.4,30.1 172.8,30.1 174.2,30.3 175.6,30.4 177,30.6 178.4,30.8 179.8,31.1 181.2,31.3 182.5,31.6 183.9,31.9 185.2,32.3 186.6,32.6 187.9,33 189.2,33.4 190.6,33.9 191.9,34.3 193.1,34.8 194.4,35.3 195.7,35.8 196.9,36.3 198.2,36.9 199.4,37.5 200.6,38.1 201.8,38.7 203,39.3 204.2,39.9 205.4,40.6 206.5,41.2 207.6,41.9 208.8,42.6 209.9,43.3 211,44 212.1,44.7 213.1,45.4 214.2,46.2 215.2,46.9 216.2,47.7 217.3,48.5 218.3,49.3 219.2,50.1 220.2,50.9 221.2,51.7 222.1,52.5 223.1,53.3 224,54.1 224.9,54.9 225.8,55.8 226.7,56.6 227.5,57.5 228.4,58.3 229.2,59.2 230.1,60.1 230.9,60.9 231.7,61.8 232.5,62.7 233.3,63.5 234,64.4 234.8,65.3 235.6,66.2 236.3,67.1 237,68 237.7,68.9 238.4,69.8 239.1,70.7 239.8,71.6 240.5,72.5 241.2,73.4 241.8,74.3 242.5,75.3 243.1,76.2 243.7,77.1 244.3,78 245,78.9 245.6,79.9 246.1,80.8 246.7,81.7 247.3,82.7 247.9,83.6 248.4,84.5 249,85.5 249.5,86.4 250,87.3 250.5,88.3 251,89.2 251.6,90.2 252,91.1 252.5,92.1 253,93 253.5,94 253.9,94.9 254.4,95.9 254.9,96.9 255.3,97.8 255.7,98.8 256.2,99.8 256.6,100.7 257,101.7 257.4,102.7 257.8,103.6 258.2,104.6 258.6,105.6 258.9,106.6 259.3,107.6 259.7,108.6 260,109.5 260.4,110.5 260.7,111.5 261,112.5 261.4,113.5 261.7,114.5 262,115.6 262.3,116.6 262.6,117.6 262.9,118.6 263.2,119.6 263.4,120.6 263.7,121.7 264,122.7 264.2,123.7 264.5,124.8 264.7,125.8 264.9,126.9 265.2,127.9 265.4,129 265.6,130 265.8,131.1 266,132.2 266.2,133.2 266.4,134.3 266.5,135.4 266.7,136.5 266.8,137.6 267,138.6 267.1,139.7 267.3,140.8 267.4,141.9 267.5,143.1 267.6,144.2 267.7,145.3 267.8,146.4 267.9,147.6 267.9,148.7 268,149.8 268,151 268.1,152.1 268.1,153.3 268.1,154.4 268.1,155.6 268.1,156.8 268.1,157.9 268.1,159.1 268,160.3 268,161.5 267.9,162.7 267.9,163.9 267.8,165.1 267.7,166.3 267.6,167.5 267.4,168.7 267.3,169.9 267.2,171.2 267,172.4 266.8,173.6 266.6,174.8 266.4,176.1 266.2,177.3 266,178.6 265.7,179.8 265.4,181 265.2,182.3 264.9,183.5 264.5,184.8 264.2,186 263.8,187.3 263.5,188.6 263.1,189.8 262.7,191.1 262.3,192.3 261.8,193.6 261.3,194.8 260.9,196.1 260.4,197.3 259.8,198.5 259.3,199.8 258.7,201 258.1,202.2 257.5,203.4 256.9,204.7 256.3,205.9 255.6,207.1 254.9,208.3 254.2,209.4 253.4,210.6 252.7,211.8 251.9,212.9 251.1,214 250.3,215.2 249.4,216.3 248.5,217.4 247.6,218.4 246.7,219.5 245.8,220.6 244.8,221.6 243.8,222.6 242.8,223.6 241.8,224.5 240.8,225.5 239.7,226.4 238.6,227.3 237.5,228.2 236.3,229 235.2,229.9 234,230.7 232.8,231.4 231.6,232.2 230.4,232.9 229.2,233.6 227.9,234.2 226.6,234.9 225.4,235.5 224.1,236 222.7,236.6 221.4,237.1 220.1,237.6 218.7,238 217.4,238.4 216,238.8 214.6,239.1 213.3,239.5 211.9,239.7 210.5,240 209.1,240.2 207.7,240.4 206.3,240.5 204.8,240.7 203.4,240.7 202,240.8 200.6,240.8 199.2,240.8 197.8,240.8 196.4,240.7 195,240.6 193.6,240.5 192.2,240.3 190.8,240.1 189.4,239.9 188,239.7 186.6,239.4 185.3,239.1 183.9,238.8 182.6,238.5 181.2,238.1 179.9,237.7 178.6,237.3 177.2,236.9 175.9,236.4 174.7,236 173.4,235.5 172.1,234.9 170.9,234.4 169.6,233.9 168.4,233.3 167.2,232.7 166,232.1 164.8,231.5 163.6,230.9 162.4,230.2 161.3,229.5 160.2,228.9 159,228.2 157.9,227.5 156.8,226.8 155.7,226 154.7,225.3 153.6,224.6 152.6,223.8 151.6,223 150.5,222.3 149.5,221.5 148.6,220.7 147.6,219.9 146.6,219.1 145.7,218.3 144.7,217.5 143.8,216.6 142.9,215.8 142,215 141.1,214.1 140.3,213.3 139.4,212.4 138.6,211.6 137.7,210.7 136.9,209.8 136.1,209 135.3,208.1 134.5,207.2 133.8,206.3 133,205.4 132.2,204.6 131.5,203.7 130.8,202.8 130.1,201.9 129.4,201 128.7,200.1 128,199.2 127.3,198.2 126.6,197.3 126,196.4 125.3,195.5 124.7,194.6 124.1,193.7 123.5,192.7 122.8,191.8 122.2,190.9 121.7,190 121.1,189 120.5,188.1 119.9,187.2 119.4,186.2 118.8,185.3 118.3,184.4 117.8,183.4 117.3,182.5 116.8,181.5 116.2,180.6 115.8,179.6 115.3,178.7 114.8,177.7 114.3,176.8 113.9,175.8 113.4,174.9 112.9,173.9 112.5,172.9 112.1,172 111.6,171 111.2,170 110.8,169.1 110.4,168.1 110,167.1 109.6,166.1 109.2,165.2 108.9,164.2 108.5,163.2 108.1,162.2 107.8,161.2 107.4,160.2 107.1,159.2 106.8,158.2 106.4,157.2 106.1,156.2 105.8,155.2 105.5,154.2 105.2,153.2 104.9,152.2 104.6,151.1 104.4,150.1 104.1,149.1 103.8,148.1 103.6,147 103.3,146 103.1,144.9 102.9,143.9 102.6,142.8 102.4,141.8 102.2,140.7 102,139.7 101.8,138.6 101.6,137.5 101.4,136.5Z" fill="url(#redg1)" stroke="#111" stroke-width="0.7"/>
<g clip-path="url(#red1)" opacity="0.5"><path d="M160,20 C156,100 160,180 172,250 L186,250 C176,180 172,100 174,20 Z" fill="#ff4040"/><path d="M208,20 C212,100 218,180 224,250 L236,250 C230,170 222,90 214,20 Z" fill="#ff5050"/></g>
<path d="M131.5,42 C135,37 140,32 147,30.2 C160,28.5 175,28 190,29.4 C196,30 200,31.5 203,33 L226,57 C218,54.5 212,53.6 205,54.3 C195,56.3 185,56.9 176,56.1 C165,55 152,51 143,47 C138,45.2 134,43.8 131.5,42 Z" fill="#1f8080" stroke="#111" stroke-width="0.6"/>
<rect x="125" y="43.6" width="110" height="16" fill="#1a5a8a" opacity="0.35" clip-path="url(#tealc)"/>
<path d="M143,30.4 Q170,44 199,33.6 Q190,29 175,28.1 Q158,28.6 143,30.4Z" fill="#17706f" stroke="#111" stroke-width="0.5"/>
<path d="M131.5,42 Q135,37 141,32.5 L144,36 L142,46 Z" fill="#3c8a4a" opacity="0.75"/>
<path d="M208,42 L219,51 L224,56 L214,54 Z" fill="#5a8a3a" opacity="0.7"/>
<path d="M126.0,18.6 L126.4,18.4 L127.0,18.2 L127.7,18.0 L128.4,17.7 L129.2,17.4 L130.0,17.1 L130.8,16.7 L131.6,16.3 L132.4,15.9 L133.3,15.5 L134.2,15.0 L135.0,14.6 L135.8,14.2 L136.5,13.8 L137.2,13.4 L138.0,13.1 L138.9,12.7 L140.0,12.3 L141.4,11.9 L142.9,11.5 L144.6,11.1 L146.3,10.7 L148.2,10.3 L150.0,10.0 L151.9,9.7 L153.8,9.4 L155.8,9.1 L157.9,8.8 L159.9,8.5 L162.0,8.3 L164.1,8.1 L166.3,7.9 L168.5,7.8 L170.7,7.6 L172.9,7.5 L175.0,7.4 L177.0,7.3 L179.0,7.3 L181.0,7.2 L183.0,7.2 L185.0,7.2 L187.0,7.3 L189.1,7.4 L191.2,7.5 L193.3,7.7 L195.5,7.9 L197.7,8.2 L200.0,8.5 L202.4,8.9 L204.9,9.4 L207.4,9.9 L210.0,10.5 L212.5,11.1 L215.0,11.8 L217.6,12.6 L220.3,13.6 L222.9,14.7 L225.4,15.7 L227.5,16.6 L229.0,17.2 L250,27.5 L262,35 C250,33 240,28 226,24 C218,22 210,23 204.5,25.5 C201,27 200,30 199,31.5 C193,29.2 185,28.2 175,28.1 C162,28.3 152,29 149.5,29.6 C148.5,27 147,24 144,22.5 C140,20.8 133,19.2 126,18.6 Z" fill="#0608ee"/>
<path d="M126.0,19.2 L126.4,19.0 L127.0,18.8 L127.7,18.6 L128.4,18.3 L129.2,18.0 L130.0,17.7 L130.8,17.3 L131.6,16.9 L132.4,16.5 L133.3,16.1 L134.2,15.6 L135.0,15.2 L135.8,14.8 L136.5,14.4 L137.2,14.0 L138.0,13.7 L138.9,13.3 L140.0,12.9 L141.4,12.5 L142.9,12.1 L144.6,11.7 L146.3,11.3 L148.2,10.9 L150.0,10.6 L151.9,10.3 L153.8,10.0 L155.8,9.7 L157.9,9.4 L159.9,9.1 L162.0,8.9 L164.1,8.7 L166.3,8.5 L168.5,8.4 L170.7,8.2 L172.9,8.1 L175.0,8.0 L177.0,7.9 L179.0,7.9 L181.0,7.8 L183.0,7.8 L185.0,7.8 L187.0,7.9 L189.1,8.0 L191.2,8.1 L193.3,8.3 L195.5,8.5 L197.7,8.8 L200.0,9.1 L202.4,9.5 L204.9,10.0 L207.4,10.5 L210.0,11.1 L212.5,11.7 L215.0,12.4 L217.6,13.2 L220.3,14.2 L222.9,15.3 L225.4,16.3 L227.5,17.2 L229.0,17.8" fill="none" stroke="#0000a0" stroke-width="1.4"/>
<path d="M136,16.5 C150,12 170,9.5 187,9.8 C205,10.5 222,15 246,27" fill="none" stroke="#111" stroke-width="0.5"/>
<path d="M140,21 C150,23 160,23 175,21 C190,19.5 205,21 222,25 C235,29 250,38 262,50 C268,57 272,64 276,72" fill="none" stroke="#111" stroke-width="0.5"/>
<line x1="174.3" y1="7.5" x2="174.3" y2="56" stroke="#111" stroke-width="0.6"/>
<line x1="180.3" y1="238" x2="180.3" y2="262.5" stroke="#111" stroke-width="0.6"/>
<path d="M104,43.3 H269.5 V241 H160" fill="none" stroke="#dfe6f0" stroke-width="0.7" opacity="0.75"/>
<g stroke="#111" stroke-width="1.1" fill="none"><line x1="177.9" y1="136.9" x2="177.3" y2="98.5"/><line x1="177.9" y1="136.9" x2="209.7" y2="143.7"/><line x1="177.9" y1="136.9" x2="151" y2="147.4"/></g>
<text x="175.6" y="96.5" font-family="Liberation Sans, sans-serif" font-size="5" fill="#222">θ</text>
<text x="211" y="146" font-family="Liberation Sans, sans-serif" font-size="5" fill="#222">r</text>
<g><line x1="87.6" y1="242" x2="87.6" y2="232" stroke="#14a014" stroke-width="2.6"/><path d="M84.3,233 L87.5,224.8 L90.7,233 Z" fill="#18b818"/><line x1="87.6" y1="242.5" x2="97.5" y2="244.2" stroke="#b81010" stroke-width="3"/><path d="M96.6,240.6 L102.3,244.8 L96.2,247.6 Z" fill="#c81414"/><line x1="87.8" y1="242.3" x2="80" y2="245.5" stroke="#1010b8" stroke-width="3.4" stroke-linecap="round"/><path d="M81.6,242.2 L76.6,247.2 L82.6,248.4 Z" fill="#1414c8"/></g>
<text x="84.9" y="221.9" font-family="Liberation Sans, sans-serif" font-size="5.8" font-weight="bold" fill="#222">Y</text>
<text x="104.3" y="248.4" font-family="Liberation Sans, sans-serif" font-size="5.8" font-weight="bold" fill="#222">X</text>
<text x="71.4" y="249.2" font-family="Liberation Sans, sans-serif" font-size="5.8" font-weight="bold" fill="#222">Z</text>
<text x="146.8" y="150.5" font-family="Liberation Sans, sans-serif" font-size="5" fill="#222">ϕ</text>
<g clip-path="url(#cx2)"><g clip-path="url(#cs2)">
<path d="M155.6,287 157.1,286.6 158.6,286.2 160.1,285.8 161.6,285.4 163.1,285 164.7,284.7 166.2,284.4 167.7,284.1 169.2,283.8 170.8,283.6 172.3,283.3 173.9,283.1 175.4,282.9 177,282.8 178.5,282.6 180.1,282.5 181.6,282.4 183.2,282.3 184.8,282.3 186.3,282.2 187.9,282.2 189.4,282.2 191,282.2 192.6,282.3 194.1,282.4 195.7,282.5 197.3,282.6 198.8,282.7 200.4,282.9 202,283 203.5,283.2 205.1,283.5 206.6,283.7 208.2,284 209.7,284.3 211.3,284.6 212.8,284.9 214.4,285.3 215.9,285.6 217.4,286 219,286.4 220.5,286.9 222,287.3 223.5,287.8 225,288.3 226.5,288.8 228,289.3 229.5,289.9 231,290.5 232.5,291.1 234,291.7 235.4,292.3 236.9,293 238.3,293.7 239.8,294.4 241.2,295.1 242.6,295.8 244.1,296.6 245.5,297.4 246.9,298.2 248.2,299 249.6,299.8 251,300.7 252.4,301.5 253.7,302.4 255,303.3 256.4,304.2 257.7,305.2 259,306.1 260.3,307.1 261.6,308.1 262.8,309.1 264.1,310.1 265.4,311.2 266.6,312.3 267.8,313.3 269,314.4 270.2,315.5 271.4,316.7 272.6,317.8 273.7,319 274.9,320.1 276,321.3 277.1,322.5 278.2,323.7 279.3,325 280.4,326.2 281.4,327.5 282.4,328.8 283.5,330 284.5,331.3 285.5,332.7 286.4,334 287.4,335.3 288.3,336.7 289.3,338 290.2,339.4 291.1,340.8 292,342.2 292.8,343.6 293.7,345 294.5,346.5 295.3,347.9 296.1,349.4 296.8,350.8 297.6,352.3 298.3,353.8 299.1,355.3 299.8,356.8 300.4,358.3 301.1,359.8 301.7,361.4 302.4,362.9 303,364.4 303.6,366 304.1,367.5 304.7,369.1 305.2,370.7 305.7,372.3 306.2,373.8 306.7,375.4 307.1,377 307.6,378.6 308,380.2 308.4,381.9 308.7,383.5 309.1,385.1 309.4,386.7 309.7,388.4 310,390 310.3,391.6 310.6,393.3 310.8,394.9 311,396.5 311.2,398.2 311.4,399.8 311.5,401.5 311.7,403.1 311.8,404.8 311.9,406.4 311.9,408.1 312,409.7 312,411.4 312,413 312,414.7 312,416.3 311.9,418 311.8,419.6 311.7,421.3 311.6,422.9 311.5,424.6 311.3,426.2 311.2,427.8 311,429.5 310.8,431.1 310.5,432.7 310.3,434.3 310,435.9 309.7,437.5 309.4,439.1 309,440.7 308.7,442.3 308.3,443.9 307.9,445.5 307.5,447.1 307,448.6 306.6,450.2 306.1,451.8 305.6,453.3 305.1,454.8 304.6,456.4 304,457.9 303.4,459.4 302.8,460.9 302.2,462.4 301.6,463.9 301,465.4 300.3,466.9 299.6,468.3 298.9,469.8 298.2,471.2 297.4,472.6 296.7,474 295.9,475.4 295.1,476.8 294.3,478.2 293.5,479.6 292.6,480.9 291.8,482.3 290.9,483.6 290,484.9 289.1,486.2 288.1,487.5 287.2,488.8 286.2,490.1 285.3,491.3 284.3,492.6 283.2,493.8 282.2,495 281.2,496.2 280.1,497.4 279.1,498.5 278,499.7 276.9,500.8 275.7,501.9 274.6,503 273.5,504.1 272.3,505.2 271.1,506.2 270,507.3 268.8,508.3 267.5,509.3 266.3,510.3 265.1,511.2 263.8,512.2 262.6,513.1 261.3,514 260,514.9 258.7,515.8 257.4,516.6 256.1,517.5 254.8,518.3 253.4,519.1 252.1,519.9 250.7,520.6 249.3,521.4 247.9,522.1 246.6,522.8 245.2,523.5 243.7,524.2 242.3,524.8 240.9,525.4 239.5,526 238,526.6 236.6,527.2 235.1,527.7 233.6,528.3 232.2,528.8 230.7,529.2 229.2,529.7 227.7,530.1 226.2,530.6 224.7,531 223.2,531.3 221.7,531.7 220.2,532 218.6,532.4 217.1,532.6 215.6,532.9 214,533.2 212.5,533.4 211,533.6 209.4,533.8 207.9,534 206.3,534.1 204.7,534.2 203.2,534.3 201.6,534.4 200.1,534.5 198.5,534.5 196.9,534.5 195.4,534.5 193.8,534.5 192.2,534.4 190.7,534.4 189.1,534.3 187.5,534.1 186,534 184.4,533.9 182.9,533.7 181.3,533.5 179.7,533.2 178.2,533 176.6,532.7 175.1,532.5 173.5,532.1 172,531.8 170.4,531.5 168.9,531.1 167.4,530.7 165.8,530.3 164.3,529.9 162.8,529.4 161.3,528.9 159.8,528.4 158.3,527.9 156.8,527.4 155.3,526.8 153.8,526.2 152.3,525.6 150.9,525 149.4,524.4 147.9,523.7 146.5,523 145,522.3 143.6,521.6 142.2,520.9 140.8,520.1 139.4,519.4 138,518.6 136.6,517.8 135.2,516.9 133.8,516.1 132.5,515.2 131.1,514.3 129.8,513.4 128.4,512.5 127.1,511.5 125.8,510.6 124.5,509.6 123.2,508.6 122,507.6 120.7,506.6 119.5,505.5 118.2,504.5 117,503.4 115.8,502.3 114.6,501.2 113.4,500.1 112.3,498.9 111.1,497.8 110,496.6 108.8,495.4 107.7,494.2 106.6,493 105.5,491.7 104.5,490.5 103.4,489.2 102.4,488 101.4,486.7 100.3,485.4 99.4,484.1 98.4,482.7 97.4,481.4 96.5,480 95.5,478.7 94.6,477.3 93.7,475.9 92.9,474.5 92,473.1 91.2,471.7 90.3,470.2 89.5,468.8 88.7,467.3 88,465.9 87.2,464.4 86.5,462.9 85.8,461.4 85.1,459.9 84.4,458.4 83.7,456.9 83.1,455.4 82.5,453.8 81.8,452.3 81.3,450.7 80.7,449.2 80.1,447.6 79.6,446 79.1,444.5 78.6,442.9 78.1,441.3 77.7,439.7 77.3,438.1 76.8,436.5 76.4,434.9 76.1,433.2 75.7,431.6 75.4,430 75.1,428.4 74.8,426.7 74.5,425.1 74.3,423.5 74,421.8 73.8,420.2 73.6,418.5 73.4,416.9 73.3,415.2 73.2,413.6 73.1,411.9 73,410.3 72.9,408.6 72.8,407 72.8,405.3 72.8,403.7 72.8,402 72.9,400.4 72.9,398.7 73,397.1 73.1,395.4 73.2,393.8 73.3,392.2 73.5,390.5 73.7,388.9 73.9,387.3 74.1,385.6 74.3,384 74.6,382.4 74.8,380.8 75.1,379.2 75.5,377.6 75.8,376 76.2,374.4 76.5,372.8 76.9,371.2 77.3,369.6 77.8,368.1 78.2,366.5 78.7,365 79.2,363.4 79.7,361.9 80.3,360.3 80.8,358.8 81.4,357.3 82,355.8 82.6,354.3 83.2,352.8 83.9,351.3 84.5,349.9 85.2,348.4 85.9,347 86.6,345.5 87.4,344.1 88.1,342.7 88.9,341.3 89.7,339.9 90.5,338.5 91.3,337.1 92.2,335.8 93.1,334.4 93.9,333.1 94.8,331.8 95.7,330.5 96.7,329.2 97.6,327.9 98.6,326.6 99.6,325.4 100.6,324.2 101.6,322.9 102.6,321.7 103.6,320.5 104.7,319.4 105.8,318.2 106.9,317 108,315.9 109.1,314.8 110.2,313.7 111.3,312.6 112.5,311.5 113.7,310.5 114.9,309.5 116.1,308.4 117.3,307.4 118.5,306.5 119.7,305.5 121,304.5 122.2,303.6 123.5,302.7 124.8,301.8 126.1,300.9 127.4,300.1 128.7,299.2 130.1,298.4 131.4,297.6 132.8,296.8 134.1,296.1 135.5,295.3 136.9,294.6 138.3,293.9 139.7,293.2 141.1,292.6 142.5,291.9 143.9,291.3 145.4,290.7 146.8,290.1 148.2,289.5 149.7,289 151.2,288.5 152.6,288 154.1,287.5Z" fill="url(#exl2)"/>
<path d="M285,436.0 L320,416.0 L320,441.0 L285,460.0 Z" fill="#2a9c16"/>
<path d="M285,429.5 L320,409.0 L320,416.0 L285,436.0 Z" fill="#1c9a78"/>
<path d="M155.6,287 157.1,286.6 158.6,286.2 160.1,285.8 161.6,285.4 163.1,285 164.7,284.7 166.2,284.4 167.7,284.1 169.2,283.8 170.8,283.6 172.3,283.3 173.9,283.1 175.4,282.9 177,282.8 178.5,282.6 180.1,282.5 181.6,282.4 183.2,282.3 184.8,282.3 186.3,282.2 187.9,282.2 189.4,282.2 191,282.2 192.6,282.3 194.1,282.4 195.7,282.5 197.3,282.6 198.8,282.7 200.4,282.9 202,283 203.5,283.2 205.1,283.5 206.6,283.7 208.2,284 209.7,284.3 211.3,284.6 212.8,284.9 214.4,285.3 215.9,285.6 217.4,286 219,286.4 220.5,286.9 222,287.3 223.5,287.8 225,288.3 226.5,288.8 228,289.3 229.5,289.9 231,290.5 232.5,291.1 234,291.7 235.4,292.3 236.9,293 238.3,293.7 239.8,294.4 241.2,295.1 242.6,295.8 244.1,296.6 245.5,297.4 246.9,298.2 248.2,299 249.6,299.8 251,300.7 252.4,301.5 253.7,302.4 255,303.3 256.4,304.2 257.7,305.2 259,306.1 260.3,307.1 261.6,308.1 262.8,309.1 264.1,310.1 265.4,311.2 266.6,312.3 267.8,313.3 269,314.4 270.2,315.5 271.4,316.7 272.6,317.8 273.7,319 274.9,320.1 276,321.3 277.1,322.5 278.2,323.7 279.3,325 280.4,326.2 281.4,327.5 282.4,328.8 283.5,330 284.5,331.3 285.5,332.7 286.4,334 287.4,335.3 288.3,336.7 289.3,338 290.2,339.4 291.1,340.8 292,342.2 292.8,343.6 293.7,345 294.5,346.5 295.3,347.9 296.1,349.4 296.8,350.8 297.6,352.3 298.3,353.8 299.1,355.3 299.8,356.8 300.4,358.3 301.1,359.8 301.7,361.4 302.4,362.9 303,364.4 303.6,366 304.1,367.5 304.7,369.1 305.2,370.7 305.7,372.3 306.2,373.8 306.7,375.4 307.1,377 307.6,378.6 308,380.2 308.4,381.9 308.7,383.5 309.1,385.1 309.4,386.7 309.7,388.4 310,390 310.3,391.6 310.6,393.3 310.8,394.9 311,396.5 311.2,398.2 311.4,399.8 311.5,401.5 311.7,403.1 311.8,404.8 311.9,406.4 311.9,408.1 312,409.7 312,411.4 312,413 312,414.7 312,416.3 311.9,418 311.8,419.6 311.7,421.3 311.6,422.9 311.5,424.6 311.3,426.2 311.2,427.8 311,429.5 310.8,431.1 310.5,432.7 310.3,434.3 310,435.9 309.7,437.5 309.4,439.1 309,440.7 308.7,442.3 308.3,443.9 307.9,445.5 307.5,447.1 307,448.6 306.6,450.2 306.1,451.8 305.6,453.3 305.1,454.8 304.6,456.4 304,457.9 303.4,459.4 302.8,460.9 302.2,462.4 301.6,463.9 301,465.4 300.3,466.9 299.6,468.3 298.9,469.8 298.2,471.2 297.4,472.6 296.7,474 295.9,475.4 295.1,476.8 294.3,478.2 293.5,479.6 292.6,480.9 291.8,482.3 290.9,483.6 290,484.9 289.1,486.2 288.1,487.5 287.2,488.8 286.2,490.1 285.3,491.3 284.3,492.6 283.2,493.8 282.2,495 281.2,496.2 280.1,497.4 279.1,498.5 278,499.7 276.9,500.8 275.7,501.9 274.6,503 273.5,504.1 272.3,505.2 271.1,506.2 270,507.3 268.8,508.3 267.5,509.3 266.3,510.3 265.1,511.2 263.8,512.2 262.6,513.1 261.3,514 260,514.9 258.7,515.8 257.4,516.6 256.1,517.5 254.8,518.3 253.4,519.1 252.1,519.9 250.7,520.6 249.3,521.4 247.9,522.1 246.6,522.8 245.2,523.5 243.7,524.2 242.3,524.8 240.9,525.4 239.5,526 238,526.6 236.6,527.2 235.1,527.7 233.6,528.3 232.2,528.8 230.7,529.2 229.2,529.7 227.7,530.1 226.2,530.6 224.7,531 223.2,531.3 221.7,531.7 220.2,532 218.6,532.4 217.1,532.6 215.6,532.9 214,533.2 212.5,533.4 211,533.6 209.4,533.8 207.9,534 206.3,534.1 204.7,534.2 203.2,534.3 201.6,534.4 200.1,534.5 198.5,534.5 196.9,534.5 195.4,534.5 193.8,534.5 192.2,534.4 190.7,534.4 189.1,534.3 187.5,534.1 186,534 184.4,533.9 182.9,533.7 181.3,533.5 179.7,533.2 178.2,533 176.6,532.7 175.1,532.5 173.5,532.1 172,531.8 170.4,531.5 168.9,531.1 167.4,530.7 165.8,530.3 164.3,529.9 162.8,529.4 161.3,528.9 159.8,528.4 158.3,527.9 156.8,527.4 155.3,526.8 153.8,526.2 152.3,525.6 150.9,525 149.4,524.4 147.9,523.7 146.5,523 145,522.3 143.6,521.6 142.2,520.9 140.8,520.1 139.4,519.4 138,518.6 136.6,517.8 135.2,516.9 133.8,516.1 132.5,515.2 131.1,514.3 129.8,513.4 128.4,512.5 127.1,511.5 125.8,510.6 124.5,509.6 123.2,508.6 122,507.6 120.7,506.6 119.5,505.5 118.2,504.5 117,503.4 115.8,502.3 114.6,501.2 113.4,500.1 112.3,498.9 111.1,497.8 110,496.6 108.8,495.4 107.7,494.2 106.6,493 105.5,491.7 104.5,490.5 103.4,489.2 102.4,488 101.4,486.7 100.3,485.4 99.4,484.1 98.4,482.7 97.4,481.4 96.5,480 95.5,478.7 94.6,477.3 93.7,475.9 92.9,474.5 92,473.1 91.2,471.7 90.3,470.2 89.5,468.8 88.7,467.3 88,465.9 87.2,464.4 86.5,462.9 85.8,461.4 85.1,459.9 84.4,458.4 83.7,456.9 83.1,455.4 82.5,453.8 81.8,452.3 81.3,450.7 80.7,449.2 80.1,447.6 79.6,446 79.1,444.5 78.6,442.9 78.1,441.3 77.7,439.7 77.3,438.1 76.8,436.5 76.4,434.9 76.1,433.2 75.7,431.6 75.4,430 75.1,428.4 74.8,426.7 74.5,425.1 74.3,423.5 74,421.8 73.8,420.2 73.6,418.5 73.4,416.9 73.3,415.2 73.2,413.6 73.1,411.9 73,410.3 72.9,408.6 72.8,407 72.8,405.3 72.8,403.7 72.8,402 72.9,400.4 72.9,398.7 73,397.1 73.1,395.4 73.2,393.8 73.3,392.2 73.5,390.5 73.7,388.9 73.9,387.3 74.1,385.6 74.3,384 74.6,382.4 74.8,380.8 75.1,379.2 75.5,377.6 75.8,376 76.2,374.4 76.5,372.8 76.9,371.2 77.3,369.6 77.8,368.1 78.2,366.5 78.7,365 79.2,363.4 79.7,361.9 80.3,360.3 80.8,358.8 81.4,357.3 82,355.8 82.6,354.3 83.2,352.8 83.9,351.3 84.5,349.9 85.2,348.4 85.9,347 86.6,345.5 87.4,344.1 88.1,342.7 88.9,341.3 89.7,339.9 90.5,338.5 91.3,337.1 92.2,335.8 93.1,334.4 93.9,333.1 94.8,331.8 95.7,330.5 96.7,329.2 97.6,327.9 98.6,326.6 99.6,325.4 100.6,324.2 101.6,322.9 102.6,321.7 103.6,320.5 104.7,319.4 105.8,318.2 106.9,317 108,315.9 109.1,314.8 110.2,313.7 111.3,312.6 112.5,311.5 113.7,310.5 114.9,309.5 116.1,308.4 117.3,307.4 118.5,306.5 119.7,305.5 121,304.5 122.2,303.6 123.5,302.7 124.8,301.8 126.1,300.9 127.4,300.1 128.7,299.2 130.1,298.4 131.4,297.6 132.8,296.8 134.1,296.1 135.5,295.3 136.9,294.6 138.3,293.9 139.7,293.2 141.1,292.6 142.5,291.9 143.9,291.3 145.4,290.7 146.8,290.1 148.2,289.5 149.7,289 151.2,288.5 152.6,288 154.1,287.5Z" fill="url(#exg2)"/>
</g></g>
<path d="M155.6,287 157.1,286.6 158.6,286.2 160.1,285.8 161.6,285.4 163.1,285 164.7,284.7 166.2,284.4 167.7,284.1 169.2,283.8 170.8,283.6 172.3,283.3 173.9,283.1 175.4,282.9 177,282.8 178.5,282.6 180.1,282.5 181.6,282.4 183.2,282.3 184.8,282.3 186.3,282.2 187.9,282.2 189.4,282.2 191,282.2 192.6,282.3 194.1,282.4 195.7,282.5 197.3,282.6 198.8,282.7 200.4,282.9 202,283 203.5,283.2 205.1,283.5 206.6,283.7 208.2,284 209.7,284.3 211.3,284.6 212.8,284.9 214.4,285.3 215.9,285.6 217.4,286 219,286.4 220.5,286.9 222,287.3 223.5,287.8 225,288.3 226.5,288.8 228,289.3 229.5,289.9 231,290.5 232.5,291.1 234,291.7 235.4,292.3 236.9,293 238.3,293.7 239.8,294.4 241.2,295.1 242.6,295.8 244.1,296.6 245.5,297.4 246.9,298.2 248.2,299 249.6,299.8 251,300.7 252.4,301.5 253.7,302.4 255,303.3 256.4,304.2 257.7,305.2 259,306.1 260.3,307.1 261.6,308.1 262.8,309.1 264.1,310.1 265.4,311.2 266.6,312.3 267.8,313.3 269,314.4 270.2,315.5 271.4,316.7 272.6,317.8 273.7,319 274.9,320.1 276,321.3 277.1,322.5 278.2,323.7 279.3,325 280.4,326.2 281.4,327.5 282.4,328.8 283.5,330 284.5,331.3 285.5,332.7 286.4,334 287.4,335.3 288.3,336.7 289.3,338 290.2,339.4 291.1,340.8 292,342.2 292.8,343.6 293.7,345 294.5,346.5 295.3,347.9 296.1,349.4 296.8,350.8 297.6,352.3 298.3,353.8 299.1,355.3 299.8,356.8 300.4,358.3 301.1,359.8 301.7,361.4 302.4,362.9 303,364.4 303.6,366 304.1,367.5 304.7,369.1 305.2,370.7 305.7,372.3 306.2,373.8 306.7,375.4 307.1,377 307.6,378.6 308,380.2 308.4,381.9 308.7,383.5 309.1,385.1 309.4,386.7 309.7,388.4 310,390 310.3,391.6 310.6,393.3 310.8,394.9 311,396.5 311.2,398.2 311.4,399.8 311.5,401.5 311.7,403.1 311.8,404.8 311.9,406.4 311.9,408.1 312,409.7 312,411.4 312,413 312,414.7 312,416.3 311.9,418 311.8,419.6 311.7,421.3 311.6,422.9 311.5,424.6 311.3,426.2 311.2,427.8 311,429.5 310.8,431.1 310.5,432.7 310.3,434.3 310,435.9 309.7,437.5 309.4,439.1 309,440.7 308.7,442.3 308.3,443.9 307.9,445.5 307.5,447.1 307,448.6 306.6,450.2 306.1,451.8 305.6,453.3 305.1,454.8 304.6,456.4 304,457.9 303.4,459.4 302.8,460.9 302.2,462.4 301.6,463.9 301,465.4 300.3,466.9 299.6,468.3 298.9,469.8 298.2,471.2 297.4,472.6 296.7,474 295.9,475.4 295.1,476.8 294.3,478.2 293.5,479.6 292.6,480.9 291.8,482.3 290.9,483.6 290,484.9 289.1,486.2 288.1,487.5 287.2,488.8 286.2,490.1 285.3,491.3 284.3,492.6 283.2,493.8 282.2,495 281.2,496.2 280.1,497.4 279.1,498.5 278,499.7 276.9,500.8 275.7,501.9 274.6,503 273.5,504.1 272.3,505.2 271.1,506.2 270,507.3 268.8,508.3 267.5,509.3 266.3,510.3 265.1,511.2 263.8,512.2 262.6,513.1 261.3,514 260,514.9 258.7,515.8 257.4,516.6 256.1,517.5 254.8,518.3 253.4,519.1 252.1,519.9 250.7,520.6 249.3,521.4 247.9,522.1 246.6,522.8 245.2,523.5 243.7,524.2 242.3,524.8 240.9,525.4 239.5,526 238,526.6 236.6,527.2 235.1,527.7 233.6,528.3 232.2,528.8 230.7,529.2 229.2,529.7 227.7,530.1 226.2,530.6 224.7,531 223.2,531.3 221.7,531.7 220.2,532 218.6,532.4 217.1,532.6 215.6,532.9 214,533.2 212.5,533.4 211,533.6 209.4,533.8 207.9,534 206.3,534.1 204.7,534.2 203.2,534.3 201.6,534.4 200.1,534.5 198.5,534.5 196.9,534.5 195.4,534.5 193.8,534.5 192.2,534.4 190.7,534.4 189.1,534.3 187.5,534.1 186,534 184.4,533.9 182.9,533.7 181.3,533.5 179.7,533.2 178.2,533 176.6,532.7 175.1,532.5 173.5,532.1 172,531.8 170.4,531.5 168.9,531.1 167.4,530.7 165.8,530.3 164.3,529.9 162.8,529.4 161.3,528.9 159.8,528.4 158.3,527.9 156.8,527.4 155.3,526.8 153.8,526.2 152.3,525.6 150.9,525 149.4,524.4 147.9,523.7 146.5,523 145,522.3 143.6,521.6 142.2,520.9 140.8,520.1 139.4,519.4 138,518.6 136.6,517.8 135.2,516.9 133.8,516.1 132.5,515.2 131.1,514.3 129.8,513.4 128.4,512.5 127.1,511.5 125.8,510.6 124.5,509.6 123.2,508.6 122,507.6 120.7,506.6 119.5,505.5 118.2,504.5 117,503.4 115.8,502.3 114.6,501.2 113.4,500.1 112.3,498.9 111.1,497.8 110,496.6 108.8,495.4 107.7,494.2 106.6,493 105.5,491.7 104.5,490.5 103.4,489.2 102.4,488 101.4,486.7 100.3,485.4 99.4,484.1 98.4,482.7 97.4,481.4 96.5,480 95.5,478.7 94.6,477.3 93.7,475.9 92.9,474.5 92,473.1 91.2,471.7 90.3,470.2 89.5,468.8 88.7,467.3 88,465.9 87.2,464.4 86.5,462.9 85.8,461.4 85.1,459.9 84.4,458.4 83.7,456.9 83.1,455.4 82.5,453.8 81.8,452.3 81.3,450.7 80.7,449.2 80.1,447.6 79.6,446 79.1,444.5 78.6,442.9 78.1,441.3 77.7,439.7 77.3,438.1 76.8,436.5 76.4,434.9 76.1,433.2 75.7,431.6 75.4,430 75.1,428.4 74.8,426.7 74.5,425.1 74.3,423.5 74,421.8 73.8,420.2 73.6,418.5 73.4,416.9 73.3,415.2 73.2,413.6 73.1,411.9 73,410.3 72.9,408.6 72.8,407 72.8,405.3 72.8,403.7 72.8,402 72.9,400.4 72.9,398.7 73,397.1 73.1,395.4 73.2,393.8 73.3,392.2 73.5,390.5 73.7,388.9 73.9,387.3 74.1,385.6 74.3,384 74.6,382.4 74.8,380.8 75.1,379.2 75.5,377.6 75.8,376 76.2,374.4 76.5,372.8 76.9,371.2 77.3,369.6 77.8,368.1 78.2,366.5 78.7,365 79.2,363.4 79.7,361.9 80.3,360.3 80.8,358.8 81.4,357.3 82,355.8 82.6,354.3 83.2,352.8 83.9,351.3 84.5,349.9 85.2,348.4 85.9,347 86.6,345.5 87.4,344.1 88.1,342.7 88.9,341.3 89.7,339.9 90.5,338.5 91.3,337.1 92.2,335.8 93.1,334.4 93.9,333.1 94.8,331.8 95.7,330.5 96.7,329.2 97.6,327.9 98.6,326.6 99.6,325.4 100.6,324.2 101.6,322.9 102.6,321.7 103.6,320.5 104.7,319.4 105.8,318.2 106.9,317 108,315.9 109.1,314.8 110.2,313.7 111.3,312.6 112.5,311.5 113.7,310.5 114.9,309.5 116.1,308.4 117.3,307.4 118.5,306.5 119.7,305.5 121,304.5 122.2,303.6 123.5,302.7 124.8,301.8 126.1,300.9 127.4,300.1 128.7,299.2 130.1,298.4 131.4,297.6 132.8,296.8 134.1,296.1 135.5,295.3 136.9,294.6 138.3,293.9 139.7,293.2 141.1,292.6 142.5,291.9 143.9,291.3 145.4,290.7 146.8,290.1 148.2,289.5 149.7,289 151.2,288.5 152.6,288 154.1,287.5Z" fill="none" stroke="#1a1a1a" stroke-width="0.6" clip-path="url(#cx2)"/>
<path d="M150.3,286.2 151.5,285.8 152.6,285.5 153.8,285.1 155,284.8 156.2,284.5 157.4,284.2 158.6,283.9 159.8,283.6 161,283.4 162.2,283.2 163.5,283 164.7,282.8 165.9,282.7 167.2,282.6 168.4,282.5 169.7,282.4 170.9,282.3 172.2,282.3 173.4,282.3 174.7,282.3 176,282.3 177.2,282.3 178.5,282.4 179.8,282.5 181.1,282.6 182.3,282.7 183.6,282.9 184.9,283.1 186.2,283.3 187.5,283.5 188.8,283.7 190,284 191.3,284.3 192.6,284.6 193.9,284.9 195.2,285.2 196.5,285.6 197.8,286 199.1,286.4 200.3,286.8 201.6,287.3 202.9,287.7 204.2,288.2 205.5,288.7 206.7,289.2 208,289.8 209.3,290.4 210.5,290.9 211.8,291.6 213.1,292.2 214.3,292.8 215.6,293.5 216.8,294.2 218.1,294.9 219.3,295.6 220.6,296.4 221.8,297.1 223,297.9 224.2,298.7 225.5,299.5 226.7,300.4 227.9,301.2 229.1,302.1 230.3,303 231.5,303.9 232.6,304.8 233.8,305.8 235,306.7 236.1,307.7 237.3,308.7 238.4,309.7 239.6,310.8 240.7,311.8 241.8,312.9 242.9,313.9 244,315 245.1,316.1 246.2,317.3 247.3,318.4 248.4,319.6 249.4,320.7 250.5,321.9 251.5,323.1 252.5,324.3 253.5,325.6 254.5,326.8 255.5,328.1 256.5,329.3 257.5,330.6 258.5,331.9 259.4,333.2 260.4,334.6 261.3,335.9 262.2,337.2 263.1,338.6 264,340 264.9,341.3 265.8,342.7 266.6,344.1 267.5,345.6 268.3,347 269.1,348.4 269.9,349.9 270.7,351.3 271.5,352.8 272.2,354.3 273,355.7 273.7,357.2 274.5,358.7 275.2,360.3 275.9,361.8 276.5,363.3 277.2,364.8 277.9,366.4 278.5,367.9 279.1,369.5 279.7,371 280.3,372.6 280.9,374.2 281.5,375.7 282,377.3 282.6,378.9 283.1,380.5 283.6,382.1 284.1,383.7 284.5,385.3 285,386.9 285.4,388.5 285.8,390.1 286.3,391.8 286.6,393.4 287,395 287.4,396.6 287.7,398.3 288.1,399.9 288.4,401.5 288.7,403.2 288.9,404.8 289.2,406.4 289.4,408 289.7,409.7 289.9,411.3 290.1,412.9 290.2,414.6 290.4,416.2 290.6,417.8 290.7,419.4 290.8,421.1 290.9,422.7 291,424.3 291,425.9 291.1,427.5 291.1,429.1 291.1,430.7 291.1,432.3 291.1,433.9 291,435.5 291,437.1 290.9,438.7 290.8,440.3 290.7,441.8 290.6,443.4 290.4,445 290.3,446.5 290.1,448.1 289.9,449.6 289.7,451.1 289.5,452.7 289.2,454.2 289,455.7 288.7,457.2 288.4,458.7 288.1,460.1 287.8,461.6 287.5,463.1 287.1,464.5 286.7,466 286.3,467.4 285.9,468.8 285.5,470.2 285.1,471.6 284.6,473 284.2,474.4 283.7,475.8 283.2,477.1 282.7,478.5 282.1,479.8 281.6,481.1 281,482.4 280.4,483.7 279.9,485 279.3,486.3 278.6,487.5 278,488.8 277.3,490 276.7,491.2 276,492.4 275.3,493.6 274.6,494.7 273.9,495.9 273.1,497 272.4,498.1 271.6,499.2 270.9,500.3 270.1,501.4 269.3,502.5 268.5,503.5 267.6,504.5 266.8,505.5 265.9,506.5 265.1,507.5 264.2,508.5 263.3,509.4 262.4,510.3 261.5,511.2 260.5,512.1 259.6,513 258.7,513.8 257.7,514.7 256.7,515.5 255.7,516.3 254.7,517 253.7,517.8 252.7,518.5 251.7,519.3 250.7,520 249.6,520.6 248.6,521.3 247.5,521.9 246.4,522.6 245.3,523.2 244.3,523.7 243.2,524.3 242,524.8 240.9,525.4 239.8,525.9 238.7,526.3 237.5,526.8 236.4,527.2 235.2,527.7 234,528.1 232.9,528.4 231.7,528.8 230.5,529.1 229.3,529.4 228.1,529.7 226.9,530 225.7,530.3 224.5,530.5 223.3,530.7 222,530.9 220.8,531.1 219.6,531.2 218.3,531.3 217.1,531.4 215.8,531.5 214.6,531.6 213.3,531.6 212.1,531.6 210.8,531.6 209.5,531.6 208.3,531.6 207,531.5 205.7,531.4 204.4,531.3 203.2,531.2 201.9,531 200.6,530.8 199.3,530.6 198,530.4 196.7,530.2 195.5,529.9 194.2,529.6 192.9,529.3 191.6,529 190.3,528.7 189,528.3 187.7,527.9 186.4,527.5 185.2,527.1 183.9,526.6 182.6,526.2 181.3,525.7 180,525.2 178.8,524.7 177.5,524.1 176.2,523.5 175,523 173.7,522.3 172.4,521.7 171.2,521.1 169.9,520.4 168.7,519.7 167.4,519 166.2,518.3 164.9,517.5 163.7,516.8 162.5,516 161.3,515.2 160,514.4 158.8,513.5 157.6,512.7 156.4,511.8 155.2,510.9 154,510 152.9,509.1 151.7,508.1 150.5,507.2 149.4,506.2 148.2,505.2 147.1,504.2 145.9,503.1 144.8,502.1 143.7,501 142.6,500 141.5,498.9 140.4,497.8 139.3,496.6 138.2,495.5 137.1,494.3 136.1,493.2 135,492 134,490.8 133,489.6 132,488.3 131,487.1 130,485.8 129,484.6 128,483.3 127,482 126.1,480.7 125.1,479.3 124.2,478 123.3,476.7 122.4,475.3 121.5,473.9 120.6,472.6 119.7,471.2 118.9,469.8 118,468.3 117.2,466.9 116.4,465.5 115.6,464 114.8,462.6 114,461.1 113.3,459.6 112.5,458.2 111.8,456.7 111,455.2 110.3,453.6 109.6,452.1 109,450.6 108.3,449.1 107.6,447.5 107,446 106.4,444.4 105.8,442.9 105.2,441.3 104.6,439.7 104,438.2 103.5,436.6 102.9,435 102.4,433.4 101.9,431.8 101.4,430.2 101,428.6 100.5,427 100.1,425.4 99.7,423.8 99.2,422.1 98.9,420.5 98.5,418.9 98.1,417.3 97.8,415.6 97.4,414 97.1,412.4 96.8,410.7 96.6,409.1 96.3,407.5 96.1,405.9 95.8,404.2 95.6,402.6 95.4,401 95.3,399.3 95.1,397.7 94.9,396.1 94.8,394.5 94.7,392.8 94.6,391.2 94.5,389.6 94.5,388 94.4,386.4 94.4,384.8 94.4,383.2 94.4,381.6 94.4,380 94.5,378.4 94.5,376.8 94.6,375.2 94.7,373.6 94.8,372.1 94.9,370.5 95.1,368.9 95.2,367.4 95.4,365.8 95.6,364.3 95.8,362.8 96,361.2 96.3,359.7 96.5,358.2 96.8,356.7 97.1,355.2 97.4,353.8 97.7,352.3 98,350.8 98.4,349.4 98.8,347.9 99.2,346.5 99.6,345.1 100,343.7 100.4,342.3 100.9,340.9 101.3,339.5 101.8,338.1 102.3,336.8 102.8,335.4 103.4,334.1 103.9,332.8 104.5,331.5 105.1,330.2 105.6,328.9 106.2,327.6 106.9,326.4 107.5,325.1 108.2,323.9 108.8,322.7 109.5,321.5 110.2,320.3 110.9,319.2 111.6,318 112.4,316.9 113.1,315.8 113.9,314.7 114.6,313.6 115.4,312.5 116.2,311.4 117,310.4 117.9,309.4 118.7,308.4 119.6,307.4 120.4,306.4 121.3,305.4 122.2,304.5 123.1,303.6 124,302.7 125,301.8 125.9,300.9 126.8,300.1 127.8,299.2 128.8,298.4 129.8,297.6 130.8,296.9 131.8,296.1 132.8,295.4 133.8,294.6 134.8,293.9 135.9,293.3 136.9,292.6 138,292 139.1,291.3 140.2,290.7 141.2,290.2 142.3,289.6 143.5,289.1 144.6,288.5 145.7,288 146.8,287.6 148,287.1 149.1,286.7Z" fill="#12e618" stroke="#1a1a1a" stroke-width="0.6"/>
<path d="M102,407.9 101.8,406.8 101.7,405.6 101.5,404.4 101.4,403.3 101.2,402.1 101.1,400.9 101,399.7 100.9,398.5 100.8,397.3 100.7,396.1 100.6,394.9 100.5,393.7 100.4,392.5 100.4,391.3 100.4,390 100.3,388.8 100.3,387.6 100.3,386.3 100.3,385.1 100.3,383.8 100.4,382.6 100.4,381.3 100.5,380 100.5,378.8 100.6,377.5 100.7,376.2 100.8,374.9 100.9,373.6 101.1,372.3 101.2,371 101.4,369.7 101.6,368.4 101.7,367.1 102,365.8 102.2,364.5 102.4,363.2 102.7,361.8 103,360.5 103.3,359.2 103.6,357.9 103.9,356.5 104.3,355.2 104.6,353.9 105,352.6 105.4,351.2 105.8,349.9 106.3,348.6 106.8,347.2 107.2,345.9 107.7,344.6 108.3,343.3 108.8,342 109.4,340.7 110,339.4 110.6,338.1 111.2,336.8 111.9,335.5 112.6,334.2 113.3,332.9 114,331.7 114.8,330.4 115.5,329.2 116.3,327.9 117.2,326.7 118,325.5 118.9,324.3 119.8,323.2 120.7,322 121.6,320.9 122.6,319.7 123.6,318.6 124.6,317.5 125.6,316.5 126.7,315.4 127.8,314.4 128.9,313.4 130,312.4 131.1,311.4 132.3,310.5 133.5,309.6 134.7,308.7 135.9,307.8 137.2,307 138.4,306.2 139.7,305.4 141,304.7 142.4,304 143.7,303.3 145,302.6 146.4,302 147.8,301.4 149.2,300.9 150.6,300.4 152,299.9 153.4,299.4 154.9,299 156.3,298.6 157.8,298.2 159.2,297.9 160.7,297.6 162.2,297.4 163.7,297.2 165.2,297 166.7,296.8 168.1,296.7 169.6,296.6 171.1,296.5 172.6,296.5 174.1,296.5 175.6,296.6 177.1,296.6 178.6,296.7 180.1,296.8 181.5,297 183,297.2 184.5,297.4 185.9,297.6 187.4,297.9 188.8,298.2 190.3,298.5 191.7,298.8 193.1,299.2 194.5,299.6 195.9,300 197.3,300.4 198.7,300.9 200.1,301.4 201.4,301.9 202.8,302.4 204.1,302.9 205.4,303.5 206.7,304 208,304.6 209.3,305.2 210.6,305.8 211.8,306.5 213.1,307.1 214.3,307.8 215.5,308.5 216.7,309.1 217.9,309.8 219.1,310.6 220.3,311.3 221.4,312 222.6,312.8 223.7,313.5 224.8,314.3 225.9,315.1 227,315.8 228.1,316.6 229.1,317.4 230.2,318.2 231.2,319.1 232.3,319.9 233.3,320.7 234.3,321.6 235.3,322.4 236.2,323.3 237.2,324.1 238.1,325 239.1,325.9 240,326.7 240.9,327.6 241.8,328.5 242.7,329.4 243.6,330.3 244.5,331.2 245.3,332.1 246.2,333 247,334 247.8,334.9 248.7,335.8 249.5,336.8 250.2,337.7 251,338.6 251.8,339.6 252.6,340.5 253.3,341.5 254,342.5 254.8,343.4 255.5,344.4 256.2,345.4 256.9,346.3 257.6,347.3 258.3,348.3 258.9,349.3 259.6,350.3 260.2,351.3 260.9,352.3 261.5,353.3 262.1,354.3 262.7,355.3 263.3,356.3 263.9,357.3 264.5,358.3 265,359.4 265.6,360.4 266.2,361.4 266.7,362.4 267.2,363.5 267.8,364.5 268.3,365.6 268.8,366.6 269.3,367.7 269.7,368.7 270.2,369.8 270.7,370.8 271.1,371.9 271.6,373 272,374.1 272.5,375.1 272.9,376.2 273.3,377.3 273.7,378.4 274.1,379.5 274.5,380.6 274.9,381.7 275.2,382.8 275.6,383.9 276,385 276.3,386.1 276.6,387.2 277,388.3 277.3,389.4 277.6,390.6 277.9,391.7 278.2,392.8 278.5,394 278.7,395.1 279,396.2 279.2,397.4 279.5,398.5 279.7,399.7 280,400.9 280.2,402 280.4,403.2 280.6,404.4 280.8,405.5 281,406.7 281.2,407.9 281.3,409.1 281.5,410.3 281.7,411.5 281.8,412.7 281.9,413.9 282.1,415.1 282.2,416.4 282.3,417.6 282.4,418.8 282.5,420.1 282.5,421.3 282.6,422.5 282.6,423.8 282.7,425 282.7,426.3 282.7,427.6 282.8,428.8 282.8,430.1 282.7,431.4 282.7,432.7 282.7,434 282.6,435.3 282.6,436.6 282.5,437.9 282.4,439.2 282.3,440.5 282.2,441.8 282.1,443.2 281.9,444.5 281.8,445.8 281.6,447.2 281.4,448.5 281.2,449.8 281,451.2 280.8,452.5 280.5,453.9 280.2,455.3 280,456.6 279.6,458 279.3,459.3 279,460.7 278.6,462.1 278.3,463.4 277.9,464.8 277.5,466.2 277,467.5 276.6,468.9 276.1,470.3 275.6,471.6 275.1,473 274.6,474.4 274,475.7 273.4,477.1 272.8,478.4 272.2,479.8 271.6,481.1 270.9,482.4 270.2,483.8 269.5,485.1 268.7,486.4 268,487.7 267.2,489 266.4,490.3 265.6,491.5 264.7,492.8 263.8,494 262.9,495.2 262,496.5 261,497.7 260,498.8 259,500 258,501.1 256.9,502.2 255.9,503.3 254.7,504.4 253.6,505.5 252.5,506.5 251.3,507.5 250.1,508.5 248.9,509.4 247.6,510.4 246.4,511.3 245.1,512.1 243.8,513 242.5,513.8 241.1,514.6 239.8,515.3 238.4,516 237,516.7 235.6,517.4 234.2,518 232.7,518.6 231.3,519.1 229.8,519.6 228.3,520.1 226.9,520.5 225.4,520.9 223.9,521.3 222.3,521.6 220.8,521.9 219.3,522.2 217.8,522.4 216.2,522.6 214.7,522.7 213.1,522.9 211.6,522.9 210,523 208.5,523 207,523 205.4,522.9 203.9,522.8 202.3,522.7 200.8,522.5 199.3,522.3 197.8,522.1 196.2,521.9 194.7,521.6 193.2,521.3 191.7,520.9 190.3,520.6 188.8,520.2 187.3,519.8 185.9,519.3 184.5,518.9 183,518.4 181.6,517.8 180.2,517.3 178.8,516.7 177.5,516.2 176.1,515.6 174.8,514.9 173.4,514.3 172.1,513.6 170.8,513 169.5,512.3 168.2,511.6 167,510.8 165.7,510.1 164.5,509.3 163.3,508.6 162.1,507.8 160.9,507 159.8,506.2 158.6,505.4 157.5,504.5 156.4,503.7 155.3,502.8 154.2,502 153.1,501.1 152,500.2 151,499.4 150,498.5 148.9,497.6 147.9,496.7 147,495.7 146,494.8 145,493.9 144.1,493 143.2,492 142.2,491.1 141.3,490.2 140.5,489.2 139.6,488.3 138.7,487.3 137.9,486.3 137,485.4 136.2,484.4 135.4,483.4 134.6,482.5 133.8,481.5 133,480.5 132.3,479.5 131.5,478.5 130.8,477.6 130.1,476.6 129.4,475.6 128.7,474.6 128,473.6 127.3,472.6 126.6,471.6 125.9,470.6 125.3,469.6 124.6,468.6 124,467.6 123.4,466.6 122.8,465.6 122.2,464.5 121.6,463.5 121,462.5 120.4,461.5 119.9,460.5 119.3,459.5 118.8,458.5 118.2,457.4 117.7,456.4 117.2,455.4 116.7,454.4 116.2,453.3 115.7,452.3 115.2,451.3 114.7,450.2 114.2,449.2 113.8,448.2 113.3,447.1 112.9,446.1 112.4,445 112,444 111.6,443 111.2,441.9 110.8,440.9 110.4,439.8 110,438.7 109.6,437.7 109.2,436.6 108.8,435.6 108.5,434.5 108.1,433.4 107.8,432.4 107.4,431.3 107.1,430.2 106.8,429.1 106.4,428 106.1,427 105.8,425.9 105.5,424.8 105.2,423.7 105,422.6 104.7,421.5 104.4,420.4 104.2,419.3 103.9,418.1 103.7,417 103.4,415.9 103.2,414.8 103,413.6 102.8,412.5 102.6,411.4 102.4,410.2 102.2,409.1Z" fill="#3cf022"/>
<path d="M103.9,407.9 103.7,406.8 103.6,405.6 103.4,404.5 103.3,403.4 103.2,402.2 103,401.1 102.9,399.9 102.8,398.7 102.7,397.6 102.6,396.4 102.5,395.2 102.5,394 102.4,392.8 102.4,391.6 102.3,390.4 102.3,389.2 102.3,388 102.3,386.8 102.3,385.6 102.3,384.4 102.3,383.1 102.4,381.9 102.4,380.6 102.5,379.4 102.6,378.2 102.7,376.9 102.8,375.6 102.9,374.4 103,373.1 103.2,371.8 103.3,370.6 103.5,369.3 103.7,368 103.9,366.7 104.1,365.4 104.4,364.1 104.6,362.9 104.9,361.6 105.2,360.3 105.5,359 105.8,357.7 106.1,356.4 106.5,355.1 106.9,353.8 107.3,352.5 107.7,351.1 108.1,349.8 108.5,348.5 109,347.2 109.5,346 110,344.7 110.6,343.4 111.1,342.1 111.7,340.8 112.3,339.5 112.9,338.3 113.5,337 114.2,335.7 114.9,334.5 115.6,333.2 116.3,332 117.1,330.8 117.8,329.6 118.6,328.4 119.5,327.2 120.3,326 121.2,324.8 122.1,323.7 123,322.6 123.9,321.5 124.9,320.4 125.9,319.3 126.9,318.2 127.9,317.2 129,316.2 130,315.2 131.1,314.2 132.2,313.2 133.4,312.3 134.5,311.4 135.7,310.5 136.9,309.7 138.1,308.8 139.4,308 140.6,307.3 141.9,306.5 143.2,305.8 144.5,305.1 145.8,304.5 147.2,303.9 148.5,303.3 149.9,302.7 151.3,302.2 152.7,301.7 154.1,301.2 155.5,300.8 156.9,300.4 158.3,300.1 159.8,299.7 161.2,299.4 162.7,299.2 164.1,299 165.6,298.8 167,298.6 168.5,298.5 170,298.4 171.4,298.3 172.9,298.3 174.4,298.3 175.8,298.3 177.3,298.4 178.8,298.5 180.2,298.6 181.7,298.8 183.1,298.9 184.6,299.1 186,299.4 187.4,299.6 188.9,299.9 190.3,300.2 191.7,300.6 193.1,300.9 194.5,301.3 195.8,301.7 197.2,302.2 198.6,302.6 199.9,303.1 201.2,303.6 202.6,304.1 203.9,304.7 205.2,305.2 206.4,305.8 207.7,306.4 209,307 210.2,307.6 211.5,308.2 212.7,308.9 213.9,309.5 215.1,310.2 216.3,310.9 217.4,311.6 218.6,312.3 219.7,313 220.9,313.8 222,314.5 223.1,315.3 224.2,316.1 225.2,316.8 226.3,317.6 227.3,318.4 228.4,319.2 229.4,320 230.4,320.9 231.4,321.7 232.4,322.5 233.4,323.4 234.3,324.2 235.3,325.1 236.2,325.9 237.1,326.8 238,327.7 238.9,328.5 239.8,329.4 240.7,330.3 241.5,331.2 242.4,332.1 243.2,333 244,333.9 244.9,334.8 245.7,335.7 246.5,336.6 247.2,337.6 248,338.5 248.8,339.4 249.5,340.4 250.3,341.3 251,342.2 251.7,343.2 252.4,344.1 253.1,345.1 253.8,346 254.5,347 255.1,348 255.8,348.9 256.4,349.9 257.1,350.9 257.7,351.8 258.3,352.8 258.9,353.8 259.5,354.8 260.1,355.8 260.7,356.8 261.3,357.8 261.8,358.7 262.4,359.7 262.9,360.7 263.4,361.8 264,362.8 264.5,363.8 265,364.8 265.5,365.8 266,366.8 266.5,367.8 266.9,368.9 267.4,369.9 267.8,370.9 268.3,372 268.7,373 269.2,374 269.6,375.1 270,376.1 270.4,377.2 270.8,378.2 271.2,379.3 271.6,380.3 271.9,381.4 272.3,382.5 272.6,383.5 273,384.6 273.3,385.7 273.7,386.7 274,387.8 274.3,388.9 274.6,390 274.9,391.1 275.2,392.2 275.5,393.3 275.7,394.4 276,395.5 276.3,396.6 276.5,397.7 276.7,398.8 277,400 277.2,401.1 277.4,402.2 277.6,403.3 277.8,404.5 278,405.6 278.2,406.8 278.4,407.9 278.5,409.1 278.7,410.2 278.8,411.4 279,412.6 279.1,413.7 279.2,414.9 279.3,416.1 279.4,417.3 279.5,418.5 279.6,419.7 279.7,420.9 279.8,422.1 279.8,423.3 279.9,424.5 279.9,425.7 279.9,427 279.9,428.2 279.9,429.4 279.9,430.7 279.9,431.9 279.9,433.2 279.8,434.4 279.8,435.7 279.7,437 279.6,438.2 279.5,439.5 279.4,440.8 279.3,442.1 279.2,443.4 279,444.7 278.9,446 278.7,447.3 278.5,448.6 278.3,449.9 278.1,451.2 277.8,452.5 277.6,453.9 277.3,455.2 277,456.5 276.7,457.8 276.4,459.2 276.1,460.5 275.7,461.8 275.4,463.2 275,464.5 274.6,465.9 274.1,467.2 273.7,468.5 273.2,469.9 272.7,471.2 272.2,472.5 271.7,473.9 271.1,475.2 270.6,476.5 270,477.8 269.4,479.1 268.7,480.4 268.1,481.8 267.4,483 266.7,484.3 266,485.6 265.2,486.9 264.4,488.1 263.6,489.4 262.8,490.6 261.9,491.8 261.1,493.1 260.2,494.3 259.3,495.4 258.3,496.6 257.3,497.7 256.3,498.9 255.3,500 254.3,501.1 253.2,502.1 252.1,503.2 251,504.2 249.9,505.2 248.7,506.2 247.6,507.1 246.4,508.1 245.1,509 243.9,509.8 242.6,510.7 241.3,511.5 240,512.3 238.7,513 237.4,513.7 236,514.4 234.7,515.1 233.3,515.7 231.9,516.3 230.5,516.8 229,517.4 227.6,517.8 226.1,518.3 224.7,518.7 223.2,519.1 221.7,519.4 220.2,519.7 218.7,520 217.2,520.2 215.7,520.4 214.2,520.6 212.7,520.7 211.2,520.8 209.7,520.9 208.2,520.9 206.6,520.9 205.1,520.8 203.6,520.8 202.1,520.6 200.6,520.5 199.1,520.3 197.6,520.1 196.1,519.9 194.7,519.6 193.2,519.3 191.7,519 190.3,518.6 188.8,518.3 187.4,517.9 186,517.4 184.6,517 183.2,516.5 181.8,516 180.4,515.5 179,514.9 177.7,514.3 176.3,513.7 175,513.1 173.7,512.5 172.4,511.9 171.1,511.2 169.9,510.5 168.6,509.8 167.4,509.1 166.2,508.4 164.9,507.6 163.8,506.9 162.6,506.1 161.4,505.3 160.3,504.5 159.1,503.7 158,502.9 156.9,502.1 155.8,501.2 154.8,500.4 153.7,499.5 152.7,498.7 151.7,497.8 150.7,496.9 149.7,496 148.7,495.1 147.7,494.2 146.8,493.3 145.8,492.4 144.9,491.5 144,490.6 143.1,489.6 142.2,488.7 141.3,487.8 140.5,486.8 139.7,485.9 138.8,484.9 138,484 137.2,483 136.4,482.1 135.6,481.1 134.9,480.1 134.1,479.2 133.4,478.2 132.6,477.2 131.9,476.2 131.2,475.3 130.5,474.3 129.8,473.3 129.1,472.3 128.5,471.3 127.8,470.4 127.2,469.4 126.5,468.4 125.9,467.4 125.3,466.4 124.7,465.4 124.1,464.4 123.5,463.4 122.9,462.4 122.4,461.4 121.8,460.4 121.3,459.4 120.7,458.4 120.2,457.4 119.7,456.4 119.2,455.4 118.7,454.4 118.2,453.4 117.7,452.4 117.2,451.4 116.7,450.4 116.3,449.4 115.8,448.4 115.3,447.3 114.9,446.3 114.5,445.3 114,444.3 113.6,443.3 113.2,442.2 112.8,441.2 112.4,440.2 112,439.1 111.6,438.1 111.3,437.1 110.9,436 110.5,435 110.2,433.9 109.8,432.9 109.5,431.8 109.2,430.8 108.9,429.7 108.5,428.7 108.2,427.6 107.9,426.6 107.6,425.5 107.3,424.4 107.1,423.3 106.8,422.3 106.5,421.2 106.3,420.1 106,419 105.8,417.9 105.5,416.8 105.3,415.7 105.1,414.6 104.9,413.5 104.7,412.4 104.5,411.3 104.3,410.2 104.1,409Z" fill="#98f400"/>
<path d="M105.6,407.9 105.4,406.8 105.3,405.7 105.1,404.6 105,403.5 104.9,402.3 104.7,401.2 104.6,400.1 104.5,398.9 104.4,397.8 104.4,396.6 104.3,395.5 104.2,394.3 104.2,393.1 104.1,392 104.1,390.8 104.1,389.6 104,388.4 104,387.2 104,386 104.1,384.8 104.1,383.6 104.1,382.4 104.2,381.2 104.2,380 104.3,378.7 104.4,377.5 104.5,376.3 104.6,375 104.8,373.8 104.9,372.6 105,371.3 105.2,370.1 105.4,368.8 105.6,367.5 105.8,366.3 106,365 106.3,363.7 106.5,362.5 106.8,361.2 107.1,359.9 107.4,358.6 107.7,357.4 108.1,356.1 108.5,354.8 108.8,353.5 109.2,352.2 109.6,350.9 110.1,349.7 110.5,348.4 111,347.1 111.5,345.8 112,344.6 112.6,343.3 113.1,342 113.7,340.8 114.3,339.5 114.9,338.3 115.5,337 116.2,335.8 116.9,334.5 117.6,333.3 118.3,332.1 119.1,330.9 119.9,329.7 120.7,328.5 121.5,327.4 122.3,326.2 123.2,325.1 124.1,324 125,322.9 125.9,321.8 126.9,320.7 127.9,319.6 128.9,318.6 129.9,317.6 130.9,316.6 132,315.6 133.1,314.6 134.2,313.7 135.4,312.8 136.5,311.9 137.7,311.1 138.9,310.2 140.1,309.4 141.3,308.7 142.6,307.9 143.8,307.2 145.1,306.5 146.4,305.8 147.7,305.2 149.1,304.6 150.4,304.1 151.8,303.5 153.1,303 154.5,302.6 155.9,302.1 157.3,301.7 158.7,301.4 160.1,301 161.5,300.7 163,300.5 164.4,300.2 165.9,300 167.3,299.8 168.7,299.7 170.2,299.6 171.6,299.5 173.1,299.5 174.5,299.5 176,299.5 177.4,299.6 178.9,299.7 180.3,299.8 181.8,299.9 183.2,300.1 184.6,300.3 186.1,300.5 187.5,300.8 188.9,301.1 190.3,301.4 191.7,301.7 193,302.1 194.4,302.5 195.8,302.9 197.1,303.3 198.5,303.8 199.8,304.3 201.1,304.8 202.4,305.3 203.7,305.8 205,306.4 206.3,307 207.5,307.5 208.8,308.2 210,308.8 211.2,309.4 212.4,310.1 213.6,310.7 214.8,311.4 215.9,312.1 217.1,312.8 218.2,313.6 219.3,314.3 220.4,315 221.5,315.8 222.6,316.6 223.7,317.3 224.7,318.1 225.8,318.9 226.8,319.7 227.8,320.5 228.8,321.4 229.8,322.2 230.8,323 231.7,323.9 232.7,324.7 233.6,325.6 234.5,326.4 235.4,327.3 236.3,328.2 237.2,329 238.1,329.9 238.9,330.8 239.8,331.7 240.6,332.6 241.4,333.5 242.2,334.4 243,335.3 243.8,336.2 244.6,337.1 245.3,338.1 246.1,339 246.8,339.9 247.6,340.8 248.3,341.8 249,342.7 249.7,343.7 250.4,344.6 251,345.5 251.7,346.5 252.4,347.4 253,348.4 253.6,349.3 254.3,350.3 254.9,351.2 255.5,352.2 256.1,353.2 256.7,354.1 257.3,355.1 257.8,356.1 258.4,357.1 258.9,358 259.5,359 260,360 260.5,361 261.1,361.9 261.6,362.9 262.1,363.9 262.6,364.9 263,365.9 263.5,366.9 264,367.9 264.4,368.9 264.9,369.9 265.3,370.9 265.8,371.9 266.2,372.9 266.6,373.9 267,374.9 267.4,376 267.8,377 268.2,378 268.6,379 269,380.1 269.3,381.1 269.7,382.1 270,383.2 270.4,384.2 270.7,385.2 271,386.3 271.3,387.3 271.6,388.4 271.9,389.4 272.2,390.5 272.5,391.6 272.8,392.6 273.1,393.7 273.3,394.8 273.6,395.8 273.8,396.9 274.1,398 274.3,399.1 274.5,400.2 274.8,401.3 275,402.4 275.2,403.5 275.4,404.6 275.5,405.7 275.7,406.8 275.9,407.9 276.1,409 276.2,410.2 276.4,411.3 276.5,412.4 276.6,413.6 276.7,414.7 276.8,415.9 276.9,417 277,418.2 277.1,419.4 277.2,420.5 277.3,421.7 277.3,422.9 277.4,424.1 277.4,425.2 277.4,426.4 277.4,427.6 277.4,428.8 277.4,430.1 277.4,431.3 277.4,432.5 277.4,433.7 277.3,434.9 277.2,436.2 277.2,437.4 277.1,438.7 277,439.9 276.9,441.2 276.8,442.4 276.6,443.7 276.5,445 276.3,446.2 276.1,447.5 276,448.8 275.7,450.1 275.5,451.4 275.3,452.7 275,453.9 274.8,455.2 274.5,456.6 274.2,457.9 273.9,459.2 273.6,460.5 273.2,461.8 272.8,463.1 272.5,464.4 272.1,465.7 271.6,467 271.2,468.3 270.7,469.7 270.3,471 269.8,472.3 269.2,473.6 268.7,474.9 268.1,476.2 267.5,477.5 266.9,478.8 266.3,480.1 265.7,481.4 265,482.6 264.3,483.9 263.6,485.2 262.8,486.4 262.1,487.6 261.3,488.9 260.5,490.1 259.6,491.3 258.8,492.5 257.9,493.7 257,494.8 256,496 255.1,497.1 254.1,498.2 253.1,499.3 252,500.4 251,501.4 249.9,502.4 248.8,503.5 247.7,504.4 246.5,505.4 245.4,506.3 244.2,507.2 243,508.1 241.7,509 240.5,509.8 239.2,510.6 237.9,511.3 236.6,512.1 235.3,512.8 234,513.4 232.6,514.1 231.2,514.6 229.9,515.2 228.5,515.7 227,516.2 225.6,516.7 224.2,517.1 222.7,517.5 221.3,517.9 219.8,518.2 218.3,518.5 216.9,518.7 215.4,518.9 213.9,519.1 212.4,519.3 210.9,519.4 209.4,519.4 207.9,519.5 206.4,519.5 205,519.4 203.5,519.4 202,519.3 200.5,519.1 199,519 197.5,518.8 196.1,518.6 194.6,518.3 193.2,518 191.7,517.7 190.3,517.4 188.8,517 187.4,516.6 186,516.2 184.6,515.7 183.2,515.2 181.9,514.7 180.5,514.2 179.2,513.7 177.8,513.1 176.5,512.5 175.2,511.9 173.9,511.3 172.6,510.7 171.4,510 170.1,509.3 168.9,508.6 167.6,507.9 166.4,507.2 165.2,506.4 164.1,505.7 162.9,504.9 161.8,504.1 160.6,503.3 159.5,502.5 158.4,501.7 157.3,500.9 156.3,500.1 155.2,499.2 154.2,498.4 153.2,497.5 152.2,496.6 151.2,495.8 150.2,494.9 149.2,494 148.3,493.1 147.3,492.2 146.4,491.3 145.5,490.3 144.6,489.4 143.7,488.5 142.9,487.6 142,486.6 141.2,485.7 140.4,484.8 139.6,483.8 138.8,482.9 138,481.9 137.2,481 136.4,480 135.7,479 135,478.1 134.2,477.1 133.5,476.2 132.8,475.2 132.1,474.2 131.4,473.3 130.8,472.3 130.1,471.3 129.5,470.3 128.8,469.4 128.2,468.4 127.6,467.4 127,466.4 126.4,465.4 125.8,464.5 125.2,463.5 124.6,462.5 124.1,461.5 123.5,460.5 123,459.5 122.5,458.6 121.9,457.6 121.4,456.6 120.9,455.6 120.4,454.6 119.9,453.6 119.4,452.6 119,451.6 118.5,450.6 118,449.6 117.6,448.6 117.2,447.6 116.7,446.6 116.3,445.6 115.9,444.6 115.5,443.6 115,442.6 114.6,441.6 114.3,440.6 113.9,439.6 113.5,438.6 113.1,437.5 112.8,436.5 112.4,435.5 112.1,434.5 111.7,433.4 111.4,432.4 111,431.4 110.7,430.4 110.4,429.3 110.1,428.3 109.8,427.2 109.5,426.2 109.2,425.1 108.9,424.1 108.7,423 108.4,422 108.1,420.9 107.9,419.9 107.6,418.8 107.4,417.7 107.2,416.7 106.9,415.6 106.7,414.5 106.5,413.4 106.3,412.3 106.1,411.2 105.9,410.1 105.8,409Z" fill="#e4f000"/>
<path d="M106.8,407.9 106.7,406.8 106.5,405.7 106.4,404.6 106.2,403.5 106.1,402.4 106,401.3 105.9,400.2 105.8,399 105.7,397.9 105.6,396.8 105.5,395.6 105.5,394.5 105.4,393.3 105.4,392.2 105.4,391 105.3,389.9 105.3,388.7 105.3,387.5 105.3,386.3 105.3,385.2 105.4,384 105.4,382.8 105.5,381.6 105.5,380.4 105.6,379.2 105.7,378 105.8,376.8 105.9,375.5 106,374.3 106.2,373.1 106.3,371.9 106.5,370.6 106.7,369.4 106.9,368.1 107.1,366.9 107.3,365.6 107.5,364.4 107.8,363.1 108.1,361.9 108.3,360.6 108.6,359.4 109,358.1 109.3,356.8 109.7,355.6 110,354.3 110.4,353 110.8,351.8 111.2,350.5 111.7,349.2 112.2,348 112.6,346.7 113.1,345.5 113.7,344.2 114.2,343 114.8,341.7 115.4,340.5 116,339.2 116.6,338 117.2,336.8 117.9,335.6 118.6,334.4 119.3,333.2 120.1,332 120.8,330.8 121.6,329.6 122.4,328.5 123.2,327.3 124.1,326.2 125,325.1 125.9,324 126.8,322.9 127.7,321.8 128.7,320.8 129.7,319.7 130.7,318.7 131.7,317.7 132.8,316.8 133.8,315.8 134.9,314.9 136,314 137.2,313.1 138.3,312.3 139.5,311.4 140.7,310.6 141.9,309.9 143.1,309.1 144.4,308.4 145.7,307.7 146.9,307.1 148.2,306.4 149.5,305.8 150.9,305.3 152.2,304.7 153.6,304.2 154.9,303.8 156.3,303.3 157.7,302.9 159.1,302.6 160.5,302.2 161.9,301.9 163.3,301.6 164.7,301.4 166.1,301.2 167.6,301 169,300.9 170.4,300.8 171.9,300.7 173.3,300.7 174.7,300.7 176.2,300.7 177.6,300.8 179,300.8 180.4,301 181.9,301.1 183.3,301.3 184.7,301.5 186.1,301.7 187.5,302 188.9,302.3 190.3,302.6 191.6,302.9 193,303.3 194.4,303.6 195.7,304.1 197,304.5 198.4,304.9 199.7,305.4 201,305.9 202.3,306.4 203.6,307 204.8,307.5 206.1,308.1 207.3,308.7 208.5,309.3 209.8,309.9 211,310.6 212.1,311.2 213.3,311.9 214.5,312.6 215.6,313.3 216.8,314 217.9,314.7 219,315.5 220.1,316.2 221.1,317 222.2,317.7 223.3,318.5 224.3,319.3 225.3,320.1 226.3,320.9 227.3,321.7 228.3,322.5 229.2,323.4 230.2,324.2 231.1,325 232.1,325.9 233,326.7 233.9,327.6 234.8,328.5 235.6,329.3 236.5,330.2 237.3,331.1 238.2,332 239,332.9 239.8,333.8 240.6,334.7 241.4,335.6 242.2,336.5 242.9,337.4 243.7,338.3 244.4,339.2 245.2,340.1 245.9,341.1 246.6,342 247.3,342.9 248,343.8 248.7,344.8 249.3,345.7 250,346.6 250.6,347.6 251.3,348.5 251.9,349.5 252.5,350.4 253.1,351.3 253.7,352.3 254.3,353.2 254.9,354.2 255.4,355.1 256,356.1 256.6,357.1 257.1,358 257.6,359 258.2,359.9 258.7,360.9 259.2,361.9 259.7,362.8 260.2,363.8 260.6,364.8 261.1,365.8 261.6,366.7 262.1,367.7 262.5,368.7 262.9,369.7 263.4,370.7 263.8,371.7 264.2,372.6 264.6,373.6 265,374.6 265.4,375.6 265.8,376.6 266.2,377.6 266.6,378.6 267,379.6 267.3,380.6 267.7,381.6 268,382.7 268.3,383.7 268.7,384.7 269,385.7 269.3,386.7 269.6,387.8 269.9,388.8 270.2,389.8 270.5,390.9 270.8,391.9 271.1,392.9 271.3,394 271.6,395 271.8,396.1 272.1,397.2 272.3,398.2 272.5,399.3 272.8,400.3 273,401.4 273.2,402.5 273.4,403.6 273.6,404.6 273.7,405.7 273.9,406.8 274.1,407.9 274.2,409 274.4,410.1 274.5,411.2 274.7,412.3 274.8,413.5 274.9,414.6 275,415.7 275.1,416.8 275.2,418 275.3,419.1 275.4,420.3 275.4,421.4 275.5,422.6 275.5,423.7 275.5,424.9 275.6,426.1 275.6,427.2 275.6,428.4 275.6,429.6 275.6,430.8 275.5,432 275.5,433.2 275.4,434.4 275.4,435.6 275.3,436.8 275.2,438 275.1,439.2 275,440.5 274.9,441.7 274.8,442.9 274.6,444.2 274.4,445.4 274.3,446.6 274.1,447.9 273.9,449.1 273.7,450.4 273.4,451.7 273.2,452.9 272.9,454.2 272.6,455.5 272.3,456.7 272,458 271.7,459.3 271.3,460.6 271,461.8 270.6,463.1 270.2,464.4 269.8,465.7 269.3,466.9 268.9,468.2 268.4,469.5 267.9,470.8 267.4,472 266.8,473.3 266.3,474.6 265.7,475.8 265.1,477.1 264.5,478.3 263.8,479.6 263.2,480.8 262.5,482 261.8,483.2 261,484.5 260.3,485.7 259.5,486.8 258.7,488 257.9,489.2 257,490.3 256.1,491.5 255.2,492.6 254.3,493.7 253.4,494.8 252.4,495.9 251.4,496.9 250.4,497.9 249.4,499 248.3,499.9 247.3,500.9 246.2,501.9 245,502.8 243.9,503.7 242.7,504.6 241.6,505.4 240.4,506.2 239.1,507 237.9,507.8 236.6,508.5 235.4,509.2 234.1,509.9 232.8,510.5 231.5,511.1 230.1,511.7 228.8,512.3 227.4,512.8 226,513.3 224.6,513.7 223.2,514.1 221.8,514.5 220.4,514.8 219,515.2 217.6,515.4 216.1,515.7 214.7,515.9 213.3,516.1 211.8,516.2 210.4,516.3 208.9,516.4 207.5,516.4 206,516.4 204.6,516.4 203.1,516.3 201.7,516.2 200.2,516.1 198.8,516 197.3,515.8 195.9,515.6 194.5,515.3 193.1,515.1 191.7,514.8 190.3,514.4 188.9,514.1 187.5,513.7 186.1,513.3 184.8,512.9 183.4,512.4 182.1,512 180.8,511.5 179.4,511 178.1,510.4 176.8,509.9 175.6,509.3 174.3,508.7 173.1,508.1 171.8,507.5 170.6,506.8 169.4,506.1 168.2,505.5 167,504.8 165.9,504.1 164.7,503.3 163.6,502.6 162.4,501.9 161.3,501.1 160.2,500.3 159.2,499.5 158.1,498.8 157.1,498 156,497.1 155,496.3 154,495.5 153,494.7 152,493.8 151.1,493 150.1,492.1 149.2,491.2 148.3,490.4 147.4,489.5 146.5,488.6 145.6,487.7 144.7,486.8 143.9,485.9 143,485 142.2,484.1 141.4,483.2 140.6,482.3 139.8,481.4 139,480.5 138.2,479.5 137.5,478.6 136.7,477.7 136,476.8 135.3,475.8 134.6,474.9 133.9,473.9 133.2,473 132.5,472.1 131.8,471.1 131.2,470.2 130.5,469.2 129.9,468.3 129.3,467.3 128.7,466.4 128.1,465.4 127.5,464.5 126.9,463.5 126.3,462.5 125.7,461.6 125.2,460.6 124.6,459.7 124.1,458.7 123.6,457.7 123,456.8 122.5,455.8 122,454.8 121.5,453.9 121,452.9 120.6,451.9 120.1,450.9 119.6,450 119.2,449 118.7,448 118.3,447 117.8,446 117.4,445 117,444.1 116.6,443.1 116.2,442.1 115.8,441.1 115.4,440.1 115,439.1 114.6,438.1 114.3,437.1 113.9,436.1 113.5,435.1 113.2,434.1 112.9,433.1 112.5,432.1 112.2,431 111.9,430 111.6,429 111.3,428 111,427 110.7,425.9 110.4,424.9 110.1,423.9 109.8,422.8 109.6,421.8 109.3,420.7 109.1,419.7 108.8,418.6 108.6,417.6 108.4,416.5 108.2,415.5 107.9,414.4 107.7,413.3 107.5,412.3 107.3,411.2 107.2,410.1 107,409Z" fill="#ffb000"/>
<g clip-path="url(#ce2)"><path d="M136,290.0 C148,290.0 165,291.0 188,293.0 C210,295.0 232,300.0 262,318.0 L262,250.0 L136,250.0 Z" fill="#00eecc"/><path d="M143,287.0 C155,287.5 170,288.5 190,289.5 C210,290.5 230,294.0 250,305.0 L250,250.0 L143,250.0 Z" fill="#00b4f8"/><path d="M138,290.0 C155,286.5 175,286.5 195,287.3 C212,288.0 225,289.0 240,296.0 L240,250.0 L138,250.0 Z" fill="#0a28e0"/></g>
<g clip-path="url(#cr2)"><rect x="90" y="290.0" width="220" height="240" fill="url(#g2red)"/><path d="M90,540.0 L90.0,307.0 95.0,305.6 100.0,304.3 105.0,303.1 110.0,301.9 115.0,300.8 120.0,299.8 125.0,298.8 130.0,297.9 135.0,297.0 140.0,296.2 145.0,295.5 150.0,294.9 155.0,294.3 160.0,293.8 165.0,293.3 170.0,292.9 175.0,292.6 180.0,292.3 185.0,292.1 190.0,292.0 195.0,291.9 200.0,291.9 205.0,292.0 210.0,292.1 215.0,292.3 220.0,292.6 225.0,292.9 230.0,293.3 235.0,293.7 240.0,294.2 245.0,294.8 250.0,295.5 255.0,296.2 260.0,297.0 265.0,297.8 270.0,298.7 275.0,299.7 280.0,300.7 285.0,301.8 290.0,303.0 295.0,304.2 300.0,305.5 L300,540.0 Z" fill="url(#g2yg)"/><path d="M90,540.0 L90.0,331.5 95.0,330.1 100.0,328.8 105.0,327.6 110.0,326.4 115.0,325.3 120.0,324.3 125.0,323.3 130.0,322.4 135.0,321.6 140.0,320.8 145.0,320.1 150.0,319.4 155.0,318.9 160.0,318.4 165.0,317.9 170.0,317.5 175.0,317.2 180.0,317.0 185.0,316.8 190.0,316.7 195.0,316.7 200.0,316.7 205.0,316.8 210.0,316.9 215.0,317.1 220.0,317.4 225.0,317.8 230.0,318.2 235.0,318.7 240.0,319.2 245.0,319.8 250.0,320.5 255.0,321.2 260.0,322.1 265.0,322.9 270.0,323.9 275.0,324.9 280.0,326.0 285.0,327.1 290.0,328.3 295.0,329.6 300.0,330.9 L300,540.0 Z" fill="url(#g2y)"/><path d="M90,540.0 L90.0,341.4 95.0,340.0 100.0,338.7 105.0,337.5 110.0,336.3 115.0,335.2 120.0,334.2 125.0,333.2 130.0,332.3 135.0,331.5 140.0,330.7 145.0,330.0 150.0,329.3 155.0,328.8 160.0,328.3 165.0,327.8 170.0,327.4 175.0,327.1 180.0,326.9 185.0,326.7 190.0,326.6 195.0,326.6 200.0,326.6 205.0,326.7 210.0,326.8 215.0,327.0 220.0,327.3 225.0,327.7 230.0,328.1 235.0,328.6 240.0,329.1 245.0,329.7 250.0,330.4 255.0,331.2 260.0,332.0 265.0,332.8 270.0,333.8 275.0,334.8 280.0,335.9 285.0,337.0 290.0,338.2 295.0,339.5 300.0,340.8 L300,540.0 Z" fill="url(#g2o)"/><path d="M90,540.0 L90.0,363.1 95.0,361.7 100.0,360.4 105.0,359.2 110.0,358.0 115.0,356.9 120.0,355.9 125.0,354.9 130.0,354.0 135.0,353.2 140.0,352.4 145.0,351.7 150.0,351.0 155.0,350.5 160.0,350.0 165.0,349.5 170.0,349.1 175.0,348.8 180.0,348.6 185.0,348.4 190.0,348.3 195.0,348.3 200.0,348.3 205.0,348.4 210.0,348.5 215.0,348.7 220.0,349.0 225.0,349.4 230.0,349.8 235.0,350.3 240.0,350.8 245.0,351.4 250.0,352.1 255.0,352.9 260.0,353.7 265.0,354.5 270.0,355.5 275.0,356.5 280.0,357.6 285.0,358.7 290.0,359.9 295.0,361.2 300.0,362.5 L300,540.0 Z" fill="url(#g2ro)"/><path d="M90,540.0 L90.0,403.9 95.0,401.3 100.0,398.8 105.0,396.5 110.0,394.3 115.0,392.3 120.0,390.3 125.0,388.5 130.0,386.8 135.0,385.3 140.0,383.8 145.0,382.5 150.0,381.4 155.0,380.3 160.0,379.4 165.0,378.6 170.0,378.0 175.0,377.4 180.0,377.0 185.0,376.7 190.0,376.6 195.0,376.6 200.0,376.7 205.0,376.9 210.0,377.3 215.0,377.8 220.0,378.4 225.0,379.2 230.0,380.0 235.0,381.0 240.0,382.2 245.0,383.4 250.0,384.8 255.0,386.3 260.0,388.0 265.0,389.7 270.0,391.6 275.0,393.7 280.0,395.8 285.0,398.1 290.0,400.5 295.0,403.1 300.0,405.7 L300,540.0 Z" fill="url(#g2r)"/><path d="M165,416.0 L185,411.0 L212,418.0 L222,470.0 L170,470.0 Z" fill="#ff5050" opacity="0.15"/><path d="M110,500.0 C135,478.0 175,468.0 205,470.0 C230,472.0 252,484.0 262,505.0 L262,540.0 L110,540.0 Z" fill="#ff0000"/></g>
<path d="M154.6,304.8 155.6,304.4 156.6,304.1 157.6,303.8 158.6,303.5 159.6,303.3 160.6,303 161.7,302.8 162.7,302.6 163.8,302.4 164.8,302.2 165.9,302.1 166.9,301.9 168,301.8 169,301.7 170.1,301.6 171.2,301.5 172.2,301.5 173.3,301.5 174.4,301.5 175.5,301.5 176.6,301.5 177.7,301.5 178.8,301.6 179.8,301.7 180.9,301.8 182,301.9 183.1,302 184.2,302.2 185.3,302.3 186.4,302.5 187.5,302.7 188.6,303 189.7,303.2 190.8,303.5 191.9,303.7 193,304 194.1,304.4 195.2,304.7 196.3,305 197.4,305.4 198.5,305.8 199.6,306.2 200.7,306.6 201.8,307.1 202.9,307.5 204,308 205.1,308.5 206.2,309 207.2,309.5 208.3,310 209.4,310.6 210.5,311.2 211.5,311.8 212.6,312.4 213.6,313 214.7,313.6 215.8,314.3 216.8,314.9 217.8,315.6 218.9,316.3 219.9,317.1 220.9,317.8 222,318.5 223,319.3 224,320.1 225,320.9 226,321.7 227,322.5 228,323.3 229,324.2 229.9,325.1 230.9,326 231.9,326.8 232.8,327.8 233.8,328.7 234.7,329.6 235.6,330.6 236.6,331.5 237.5,332.5 238.4,333.5 239.3,334.5 240.2,335.5 241.1,336.5 241.9,337.6 242.8,338.6 243.7,339.7 244.5,340.8 245.3,341.9 246.2,343 247,344.1 247.8,345.2 248.6,346.3 249.4,347.5 250.2,348.6 250.9,349.8 251.7,351 252.4,352.1 253.2,353.3 253.9,354.5 254.6,355.7 255.3,357 256,358.2 256.7,359.4 257.4,360.7 258,361.9 258.7,363.2 259.3,364.5 259.9,365.7 260.5,367 261.1,368.3 261.7,369.6 262.3,370.9 262.9,372.2 263.4,373.5 264,374.9 264.5,376.2 265,377.5 265.5,378.8 266,380.2 266.5,381.5 266.9,382.9 267.4,384.2 267.8,385.6 268.2,387 268.6,388.3 269,389.7 269.4,391.1 269.8,392.5 270.1,393.8 270.5,395.2 270.8,396.6 271.1,398 271.4,399.4 271.7,400.8 272,402.2 272.2,403.6 272.5,405 272.7,406.3 272.9,407.7 273.1,409.1 273.3,410.5 273.5,411.9 273.6,413.3 273.8,414.7 273.9,416.1 274,417.5 274.1,418.9 274.2,420.3 274.3,421.6 274.3,423 274.4,424.4 274.4,425.8 274.4,427.1 274.4,428.5 274.4,429.9 274.4,431.2 274.3,432.6 274.3,434 274.2,435.3 274.1,436.6 274,438 273.9,439.3 273.8,440.6 273.6,442 273.5,443.3 273.3,444.6 273.1,445.9 272.9,447.2 272.7,448.5 272.5,449.8 272.2,451.1 272,452.3 271.7,453.6 271.4,454.8 271.1,456.1 270.8,457.3 270.5,458.6 270.1,459.8 269.8,461 269.4,462.2 269,463.4 268.6,464.6 268.2,465.8 267.8,466.9 267.4,468.1 266.9,469.2 266.4,470.4 266,471.5 265.5,472.6 265,473.7 264.5,474.8 263.9,475.9 263.4,476.9 262.9,478 262.3,479 261.7,480.1 261.1,481.1 260.5,482.1 259.9,483.1 259.3,484.1 258.7,485 258,486 257.3,486.9 256.7,487.8 256,488.8 255.3,489.7 254.6,490.5 253.9,491.4 253.2,492.3 252.4,493.1 251.7,493.9 250.9,494.8 250.1,495.6 249.4,496.3 248.6,497.1 247.8,497.9 247,498.6 246.2,499.3 245.3,500 244.5,500.7 243.6,501.4 242.8,502.1 241.9,502.7 241,503.3 240.2,503.9 239.3,504.5 238.4,505.1 237.5,505.7 236.5,506.2 235.6,506.7 234.7,507.2 233.8,507.7 232.8,508.2 231.9,508.7 230.9,509.1 229.9,509.5 228.9,509.9 228,510.3 227,510.7 226,511.1 225,511.4 224,511.7 223,512 221.9,512.3 220.9,512.6 219.9,512.8 218.9,513 217.8,513.3 216.8,513.4 215.7,513.6 214.7,513.8 213.6,513.9 212.6,514 211.5,514.1 210.4,514.2 209.4,514.3 208.3,514.3 207.2,514.4 206.1,514.4 205.1,514.4 204,514.3 202.9,514.3 201.8,514.2 200.7,514.2 199.6,514.1 198.5,514 197.4,513.8 196.3,513.7 195.2,513.5 194.1,513.3 193,513.1 191.9,512.9 190.8,512.6 189.7,512.4 188.6,512.1 187.5,511.8 186.4,511.5 185.3,511.1 184.2,510.8 183.1,510.4 182,510 180.9,509.6 179.8,509.2 178.7,508.8 177.6,508.3 176.6,507.9 175.5,507.4 174.4,506.9 173.3,506.3 172.2,505.8 171.2,505.3 170.1,504.7 169,504.1 168,503.5 166.9,502.9 165.8,502.2 164.8,501.6 163.7,500.9 162.7,500.2 161.7,499.5 160.6,498.8 159.6,498.1 158.6,497.3 157.6,496.5 156.5,495.8 155.5,495 154.5,494.2 153.5,493.3 152.6,492.5 151.6,491.6 150.6,490.8 149.6,489.9 148.7,489 147.7,488.1 146.8,487.2 145.8,486.2 144.9,485.3 144,484.3 143.1,483.3 142.2,482.3 141.3,481.3 140.4,480.3 139.5,479.3 138.6,478.3 137.7,477.2 136.9,476.1 136,475.1 135.2,474 134.4,472.9 133.6,471.8 132.7,470.6 131.9,469.5 131.2,468.4 130.4,467.2 129.6,466.1 128.9,464.9 128.1,463.7 127.4,462.5 126.6,461.3 125.9,460.1 125.2,458.9 124.5,457.6 123.8,456.4 123.2,455.2 122.5,453.9 121.9,452.7 121.2,451.4 120.6,450.1 120,448.8 119.4,447.5 118.8,446.2 118.2,444.9 117.7,443.6 117.1,442.3 116.6,441 116.1,439.7 115.5,438.3 115,437 114.6,435.6 114.1,434.3 113.6,432.9 113.2,431.6 112.7,430.2 112.3,428.9 111.9,427.5 111.5,426.1 111.1,424.8 110.8,423.4 110.4,422 110.1,420.6 109.8,419.2 109.4,417.8 109.1,416.5 108.9,415.1 108.6,413.7 108.3,412.3 108.1,410.9 107.9,409.5 107.6,408.1 107.4,406.7 107.3,405.3 107.1,403.9 106.9,402.5 106.8,401.1 106.7,399.7 106.5,398.4 106.4,397 106.3,395.6 106.3,394.2 106.2,392.8 106.2,391.4 106.1,390.1 106.1,388.7 106.1,387.3 106.1,386 106.2,384.6 106.2,383.2 106.3,381.9 106.4,380.5 106.4,379.2 106.5,377.9 106.7,376.5 106.8,375.2 106.9,373.9 107.1,372.6 107.3,371.2 107.4,369.9 107.6,368.6 107.9,367.3 108.1,366.1 108.3,364.8 108.6,363.5 108.9,362.2 109.1,361 109.4,359.7 109.8,358.5 110.1,357.3 110.4,356.1 110.8,354.8 111.1,353.6 111.5,352.4 111.9,351.3 112.3,350.1 112.8,348.9 113.2,347.8 113.6,346.6 114.1,345.5 114.6,344.4 115.1,343.3 115.6,342.2 116.1,341.1 116.6,340 117.1,338.9 117.7,337.9 118.2,336.8 118.8,335.8 119.4,334.8 120,333.8 120.6,332.8 121.2,331.8 121.9,330.8 122.5,329.9 123.2,328.9 123.9,328 124.5,327.1 125.2,326.2 125.9,325.3 126.7,324.4 127.4,323.6 128.1,322.7 128.9,321.9 129.6,321.1 130.4,320.3 131.2,319.5 132,318.7 132.8,318 133.6,317.2 134.4,316.5 135.2,315.8 136.1,315.1 136.9,314.4 137.8,313.8 138.6,313.1 139.5,312.5 140.4,311.9 141.3,311.3 142.2,310.7 143.1,310.2 144,309.6 144.9,309.1 145.8,308.6 146.8,308.1 147.7,307.6 148.7,307.2 149.6,306.7 150.6,306.3 151.6,305.9 152.6,305.5 153.6,305.1Z" fill="none" stroke="#1a1a1a" stroke-width="0.7"/>
<path d="M140.4,312.8 L141.3,312.2 L142.2,311.6 L143.1,311.1 L144.0,310.5 L144.9,310.0 L145.8,309.5 L146.8,309.0 L147.7,308.5 L148.7,308.1 L149.6,307.6 L150.6,307.2 L151.6,306.8 L152.6,306.4 L153.6,306.0 L154.6,305.7 L155.6,305.3 L156.6,305.0 L157.6,304.7 L158.6,304.4 L159.6,304.2 L160.6,303.9 L161.7,303.7 L162.7,303.5 L163.8,303.3 L164.8,303.1 L165.9,303.0 L166.9,302.8 L168.0,302.7 L169.0,302.6 L170.1,302.5 L171.2,302.4 L172.2,302.4 L173.3,302.4 L174.4,302.4 L175.5,302.4 L176.6,302.4 L177.7,302.4 L178.8,302.5 L179.8,302.6 L180.9,302.7 L182.0,302.8 L183.1,302.9 L184.2,303.1 L185.3,303.2 L186.4,303.4 L187.5,303.6 L188.6,303.9 L189.7,304.1 L190.8,304.4 L191.9,304.6 L193.0,304.9 L194.1,305.3 L195.2,305.6 L196.3,305.9 L197.4,306.3 L198.5,306.7 L199.6,307.1 L200.7,307.5 L201.8,308.0 L202.9,308.4 L204.0,308.9 L205.1,309.4 L206.2,309.9 L207.2,310.4 L208.3,310.9 L209.4,311.5 L210.5,312.1 L211.5,312.7" fill="none" stroke="#23502a" stroke-width="1.8" clip-path="url(#cr2)" opacity="0.85"/>
<g stroke="#b00000" stroke-width="0.5" opacity="0.45"><line x1="185" y1="381.0" x2="185" y2="410.6"/><line x1="185" y1="410.6" x2="215.6" y2="418.2"/><line x1="185" y1="410.6" x2="163.6" y2="416.7"/></g>
<line x1="180.3" y1="281.5" x2="180.3" y2="300.5" stroke="#222" stroke-width="0.5"/>
<line x1="187.5" y1="512.0" x2="187.5" y2="528.0" stroke="#222" stroke-width="0.5"/>
<g clip-path="url(#cx3)"><g clip-path="url(#cs3)">
<path d="M155.6,559.8 157.1,559.4 158.6,559 160.1,558.6 161.6,558.2 163.1,557.8 164.7,557.5 166.2,557.2 167.7,556.9 169.2,556.6 170.8,556.4 172.3,556.1 173.9,555.9 175.4,555.7 177,555.6 178.5,555.4 180.1,555.3 181.6,555.2 183.2,555.1 184.8,555.1 186.3,555 187.9,555 189.4,555 191,555 192.6,555.1 194.1,555.2 195.7,555.3 197.3,555.4 198.8,555.5 200.4,555.7 202,555.8 203.5,556 205.1,556.3 206.6,556.5 208.2,556.8 209.7,557.1 211.3,557.4 212.8,557.7 214.4,558.1 215.9,558.4 217.4,558.8 219,559.2 220.5,559.7 222,560.1 223.5,560.6 225,561.1 226.5,561.6 228,562.1 229.5,562.7 231,563.3 232.5,563.9 234,564.5 235.4,565.1 236.9,565.8 238.3,566.5 239.8,567.2 241.2,567.9 242.6,568.6 244.1,569.4 245.5,570.2 246.9,571 248.2,571.8 249.6,572.6 251,573.5 252.4,574.3 253.7,575.2 255,576.1 256.4,577 257.7,578 259,578.9 260.3,579.9 261.6,580.9 262.8,581.9 264.1,582.9 265.4,584 266.6,585.1 267.8,586.1 269,587.2 270.2,588.3 271.4,589.5 272.6,590.6 273.7,591.8 274.9,592.9 276,594.1 277.1,595.3 278.2,596.5 279.3,597.8 280.4,599 281.4,600.3 282.4,601.6 283.5,602.8 284.5,604.1 285.5,605.5 286.4,606.8 287.4,608.1 288.3,609.5 289.3,610.8 290.2,612.2 291.1,613.6 292,615 292.8,616.4 293.7,617.8 294.5,619.3 295.3,620.7 296.1,622.2 296.8,623.6 297.6,625.1 298.3,626.6 299.1,628.1 299.8,629.6 300.4,631.1 301.1,632.6 301.7,634.2 302.4,635.7 303,637.2 303.6,638.8 304.1,640.3 304.7,641.9 305.2,643.5 305.7,645.1 306.2,646.6 306.7,648.2 307.1,649.8 307.6,651.4 308,653 308.4,654.7 308.7,656.3 309.1,657.9 309.4,659.5 309.7,661.2 310,662.8 310.3,664.4 310.6,666.1 310.8,667.7 311,669.3 311.2,671 311.4,672.6 311.5,674.3 311.7,675.9 311.8,677.6 311.9,679.2 311.9,680.9 312,682.5 312,684.2 312,685.8 312,687.5 312,689.1 311.9,690.8 311.8,692.4 311.7,694.1 311.6,695.7 311.5,697.4 311.3,699 311.2,700.6 311,702.3 310.8,703.9 310.5,705.5 310.3,707.1 310,708.7 309.7,710.3 309.4,711.9 309,713.5 308.7,715.1 308.3,716.7 307.9,718.3 307.5,719.9 307,721.4 306.6,723 306.1,724.6 305.6,726.1 305.1,727.6 304.6,729.2 304,730.7 303.4,732.2 302.8,733.7 302.2,735.2 301.6,736.7 301,738.2 300.3,739.7 299.6,741.1 298.9,742.6 298.2,744 297.4,745.4 296.7,746.8 295.9,748.2 295.1,749.6 294.3,751 293.5,752.4 292.6,753.7 291.8,755.1 290.9,756.4 290,757.7 289.1,759 288.1,760.3 287.2,761.6 286.2,762.9 285.3,764.1 284.3,765.4 283.2,766.6 282.2,767.8 281.2,769 280.1,770.2 279.1,771.3 278,772.5 276.9,773.6 275.7,774.7 274.6,775.8 273.5,776.9 272.3,778 271.1,779 270,780.1 268.8,781.1 267.5,782.1 266.3,783.1 265.1,784 263.8,785 262.6,785.9 261.3,786.8 260,787.7 258.7,788.6 257.4,789.4 256.1,790.3 254.8,791.1 253.4,791.9 252.1,792.7 250.7,793.4 249.3,794.2 247.9,794.9 246.6,795.6 245.2,796.3 243.7,797 242.3,797.6 240.9,798.2 239.5,798.8 238,799.4 236.6,800 235.1,800.5 233.6,801.1 232.2,801.6 230.7,802 229.2,802.5 227.7,802.9 226.2,803.4 224.7,803.8 223.2,804.1 221.7,804.5 220.2,804.8 218.6,805.2 217.1,805.4 215.6,805.7 214,806 212.5,806.2 211,806.4 209.4,806.6 207.9,806.8 206.3,806.9 204.7,807 203.2,807.1 201.6,807.2 200.1,807.3 198.5,807.3 196.9,807.3 195.4,807.3 193.8,807.3 192.2,807.2 190.7,807.2 189.1,807.1 187.5,806.9 186,806.8 184.4,806.7 182.9,806.5 181.3,806.3 179.7,806 178.2,805.8 176.6,805.5 175.1,805.3 173.5,804.9 172,804.6 170.4,804.3 168.9,803.9 167.4,803.5 165.8,803.1 164.3,802.7 162.8,802.2 161.3,801.7 159.8,801.2 158.3,800.7 156.8,800.2 155.3,799.6 153.8,799 152.3,798.4 150.9,797.8 149.4,797.2 147.9,796.5 146.5,795.8 145,795.1 143.6,794.4 142.2,793.7 140.8,792.9 139.4,792.2 138,791.4 136.6,790.6 135.2,789.7 133.8,788.9 132.5,788 131.1,787.1 129.8,786.2 128.4,785.3 127.1,784.3 125.8,783.4 124.5,782.4 123.2,781.4 122,780.4 120.7,779.4 119.5,778.3 118.2,777.3 117,776.2 115.8,775.1 114.6,774 113.4,772.9 112.3,771.7 111.1,770.6 110,769.4 108.8,768.2 107.7,767 106.6,765.8 105.5,764.5 104.5,763.3 103.4,762 102.4,760.8 101.4,759.5 100.3,758.2 99.4,756.9 98.4,755.5 97.4,754.2 96.5,752.8 95.5,751.5 94.6,750.1 93.7,748.7 92.9,747.3 92,745.9 91.2,744.5 90.3,743 89.5,741.6 88.7,740.1 88,738.7 87.2,737.2 86.5,735.7 85.8,734.2 85.1,732.7 84.4,731.2 83.7,729.7 83.1,728.2 82.5,726.6 81.8,725.1 81.3,723.5 80.7,722 80.1,720.4 79.6,718.8 79.1,717.3 78.6,715.7 78.1,714.1 77.7,712.5 77.3,710.9 76.8,709.3 76.4,707.7 76.1,706 75.7,704.4 75.4,702.8 75.1,701.2 74.8,699.5 74.5,697.9 74.3,696.3 74,694.6 73.8,693 73.6,691.3 73.4,689.7 73.3,688 73.2,686.4 73.1,684.7 73,683.1 72.9,681.4 72.8,679.8 72.8,678.1 72.8,676.5 72.8,674.8 72.9,673.2 72.9,671.5 73,669.9 73.1,668.2 73.2,666.6 73.3,665 73.5,663.3 73.7,661.7 73.9,660.1 74.1,658.4 74.3,656.8 74.6,655.2 74.8,653.6 75.1,652 75.5,650.4 75.8,648.8 76.2,647.2 76.5,645.6 76.9,644 77.3,642.4 77.8,640.9 78.2,639.3 78.7,637.8 79.2,636.2 79.7,634.7 80.3,633.1 80.8,631.6 81.4,630.1 82,628.6 82.6,627.1 83.2,625.6 83.9,624.1 84.5,622.7 85.2,621.2 85.9,619.8 86.6,618.3 87.4,616.9 88.1,615.5 88.9,614.1 89.7,612.7 90.5,611.3 91.3,609.9 92.2,608.6 93.1,607.2 93.9,605.9 94.8,604.6 95.7,603.3 96.7,602 97.6,600.7 98.6,599.4 99.6,598.2 100.6,597 101.6,595.7 102.6,594.5 103.6,593.3 104.7,592.2 105.8,591 106.9,589.8 108,588.7 109.1,587.6 110.2,586.5 111.3,585.4 112.5,584.3 113.7,583.3 114.9,582.3 116.1,581.2 117.3,580.2 118.5,579.3 119.7,578.3 121,577.3 122.2,576.4 123.5,575.5 124.8,574.6 126.1,573.7 127.4,572.9 128.7,572 130.1,571.2 131.4,570.4 132.8,569.6 134.1,568.9 135.5,568.1 136.9,567.4 138.3,566.7 139.7,566 141.1,565.4 142.5,564.7 143.9,564.1 145.4,563.5 146.8,562.9 148.2,562.3 149.7,561.8 151.2,561.3 152.6,560.8 154.1,560.3Z" fill="url(#exl3)"/>
<path d="M255,609.0 L290,590.0 L290,593.5 L255,612.5 Z" fill="#8cc41a" opacity="0.75"/>
<path d="M285,707.0 L320,687.0 L320,690.0 L285,710.0 Z" fill="#14923a" opacity="0.8"/>
<path d="M155.6,559.8 157.1,559.4 158.6,559 160.1,558.6 161.6,558.2 163.1,557.8 164.7,557.5 166.2,557.2 167.7,556.9 169.2,556.6 170.8,556.4 172.3,556.1 173.9,555.9 175.4,555.7 177,555.6 178.5,555.4 180.1,555.3 181.6,555.2 183.2,555.1 184.8,555.1 186.3,555 187.9,555 189.4,555 191,555 192.6,555.1 194.1,555.2 195.7,555.3 197.3,555.4 198.8,555.5 200.4,555.7 202,555.8 203.5,556 205.1,556.3 206.6,556.5 208.2,556.8 209.7,557.1 211.3,557.4 212.8,557.7 214.4,558.1 215.9,558.4 217.4,558.8 219,559.2 220.5,559.7 222,560.1 223.5,560.6 225,561.1 226.5,561.6 228,562.1 229.5,562.7 231,563.3 232.5,563.9 234,564.5 235.4,565.1 236.9,565.8 238.3,566.5 239.8,567.2 241.2,567.9 242.6,568.6 244.1,569.4 245.5,570.2 246.9,571 248.2,571.8 249.6,572.6 251,573.5 252.4,574.3 253.7,575.2 255,576.1 256.4,577 257.7,578 259,578.9 260.3,579.9 261.6,580.9 262.8,581.9 264.1,582.9 265.4,584 266.6,585.1 267.8,586.1 269,587.2 270.2,588.3 271.4,589.5 272.6,590.6 273.7,591.8 274.9,592.9 276,594.1 277.1,595.3 278.2,596.5 279.3,597.8 280.4,599 281.4,600.3 282.4,601.6 283.5,602.8 284.5,604.1 285.5,605.5 286.4,606.8 287.4,608.1 288.3,609.5 289.3,610.8 290.2,612.2 291.1,613.6 292,615 292.8,616.4 293.7,617.8 294.5,619.3 295.3,620.7 296.1,622.2 296.8,623.6 297.6,625.1 298.3,626.6 299.1,628.1 299.8,629.6 300.4,631.1 301.1,632.6 301.7,634.2 302.4,635.7 303,637.2 303.6,638.8 304.1,640.3 304.7,641.9 305.2,643.5 305.7,645.1 306.2,646.6 306.7,648.2 307.1,649.8 307.6,651.4 308,653 308.4,654.7 308.7,656.3 309.1,657.9 309.4,659.5 309.7,661.2 310,662.8 310.3,664.4 310.6,666.1 310.8,667.7 311,669.3 311.2,671 311.4,672.6 311.5,674.3 311.7,675.9 311.8,677.6 311.9,679.2 311.9,680.9 312,682.5 312,684.2 312,685.8 312,687.5 312,689.1 311.9,690.8 311.8,692.4 311.7,694.1 311.6,695.7 311.5,697.4 311.3,699 311.2,700.6 311,702.3 310.8,703.9 310.5,705.5 310.3,707.1 310,708.7 309.7,710.3 309.4,711.9 309,713.5 308.7,715.1 308.3,716.7 307.9,718.3 307.5,719.9 307,721.4 306.6,723 306.1,724.6 305.6,726.1 305.1,727.6 304.6,729.2 304,730.7 303.4,732.2 302.8,733.7 302.2,735.2 301.6,736.7 301,738.2 300.3,739.7 299.6,741.1 298.9,742.6 298.2,744 297.4,745.4 296.7,746.8 295.9,748.2 295.1,749.6 294.3,751 293.5,752.4 292.6,753.7 291.8,755.1 290.9,756.4 290,757.7 289.1,759 288.1,760.3 287.2,761.6 286.2,762.9 285.3,764.1 284.3,765.4 283.2,766.6 282.2,767.8 281.2,769 280.1,770.2 279.1,771.3 278,772.5 276.9,773.6 275.7,774.7 274.6,775.8 273.5,776.9 272.3,778 271.1,779 270,780.1 268.8,781.1 267.5,782.1 266.3,783.1 265.1,784 263.8,785 262.6,785.9 261.3,786.8 260,787.7 258.7,788.6 257.4,789.4 256.1,790.3 254.8,791.1 253.4,791.9 252.1,792.7 250.7,793.4 249.3,794.2 247.9,794.9 246.6,795.6 245.2,796.3 243.7,797 242.3,797.6 240.9,798.2 239.5,798.8 238,799.4 236.6,800 235.1,800.5 233.6,801.1 232.2,801.6 230.7,802 229.2,802.5 227.7,802.9 226.2,803.4 224.7,803.8 223.2,804.1 221.7,804.5 220.2,804.8 218.6,805.2 217.1,805.4 215.6,805.7 214,806 212.5,806.2 211,806.4 209.4,806.6 207.9,806.8 206.3,806.9 204.7,807 203.2,807.1 201.6,807.2 200.1,807.3 198.5,807.3 196.9,807.3 195.4,807.3 193.8,807.3 192.2,807.2 190.7,807.2 189.1,807.1 187.5,806.9 186,806.8 184.4,806.7 182.9,806.5 181.3,806.3 179.7,806 178.2,805.8 176.6,805.5 175.1,805.3 173.5,804.9 172,804.6 170.4,804.3 168.9,803.9 167.4,803.5 165.8,803.1 164.3,802.7 162.8,802.2 161.3,801.7 159.8,801.2 158.3,800.7 156.8,800.2 155.3,799.6 153.8,799 152.3,798.4 150.9,797.8 149.4,797.2 147.9,796.5 146.5,795.8 145,795.1 143.6,794.4 142.2,793.7 140.8,792.9 139.4,792.2 138,791.4 136.6,790.6 135.2,789.7 133.8,788.9 132.5,788 131.1,787.1 129.8,786.2 128.4,785.3 127.1,784.3 125.8,783.4 124.5,782.4 123.2,781.4 122,780.4 120.7,779.4 119.5,778.3 118.2,777.3 117,776.2 115.8,775.1 114.6,774 113.4,772.9 112.3,771.7 111.1,770.6 110,769.4 108.8,768.2 107.7,767 106.6,765.8 105.5,764.5 104.5,763.3 103.4,762 102.4,760.8 101.4,759.5 100.3,758.2 99.4,756.9 98.4,755.5 97.4,754.2 96.5,752.8 95.5,751.5 94.6,750.1 93.7,748.7 92.9,747.3 92,745.9 91.2,744.5 90.3,743 89.5,741.6 88.7,740.1 88,738.7 87.2,737.2 86.5,735.7 85.8,734.2 85.1,732.7 84.4,731.2 83.7,729.7 83.1,728.2 82.5,726.6 81.8,725.1 81.3,723.5 80.7,722 80.1,720.4 79.6,718.8 79.1,717.3 78.6,715.7 78.1,714.1 77.7,712.5 77.3,710.9 76.8,709.3 76.4,707.7 76.1,706 75.7,704.4 75.4,702.8 75.1,701.2 74.8,699.5 74.5,697.9 74.3,696.3 74,694.6 73.8,693 73.6,691.3 73.4,689.7 73.3,688 73.2,686.4 73.1,684.7 73,683.1 72.9,681.4 72.8,679.8 72.8,678.1 72.8,676.5 72.8,674.8 72.9,673.2 72.9,671.5 73,669.9 73.1,668.2 73.2,666.6 73.3,665 73.5,663.3 73.7,661.7 73.9,660.1 74.1,658.4 74.3,656.8 74.6,655.2 74.8,653.6 75.1,652 75.5,650.4 75.8,648.8 76.2,647.2 76.5,645.6 76.9,644 77.3,642.4 77.8,640.9 78.2,639.3 78.7,637.8 79.2,636.2 79.7,634.7 80.3,633.1 80.8,631.6 81.4,630.1 82,628.6 82.6,627.1 83.2,625.6 83.9,624.1 84.5,622.7 85.2,621.2 85.9,619.8 86.6,618.3 87.4,616.9 88.1,615.5 88.9,614.1 89.7,612.7 90.5,611.3 91.3,609.9 92.2,608.6 93.1,607.2 93.9,605.9 94.8,604.6 95.7,603.3 96.7,602 97.6,600.7 98.6,599.4 99.6,598.2 100.6,597 101.6,595.7 102.6,594.5 103.6,593.3 104.7,592.2 105.8,591 106.9,589.8 108,588.7 109.1,587.6 110.2,586.5 111.3,585.4 112.5,584.3 113.7,583.3 114.9,582.3 116.1,581.2 117.3,580.2 118.5,579.3 119.7,578.3 121,577.3 122.2,576.4 123.5,575.5 124.8,574.6 126.1,573.7 127.4,572.9 128.7,572 130.1,571.2 131.4,570.4 132.8,569.6 134.1,568.9 135.5,568.1 136.9,567.4 138.3,566.7 139.7,566 141.1,565.4 142.5,564.7 143.9,564.1 145.4,563.5 146.8,562.9 148.2,562.3 149.7,561.8 151.2,561.3 152.6,560.8 154.1,560.3Z" fill="url(#exg3)"/>
</g></g>
<path d="M155.6,559.8 157.1,559.4 158.6,559 160.1,558.6 161.6,558.2 163.1,557.8 164.7,557.5 166.2,557.2 167.7,556.9 169.2,556.6 170.8,556.4 172.3,556.1 173.9,555.9 175.4,555.7 177,555.6 178.5,555.4 180.1,555.3 181.6,555.2 183.2,555.1 184.8,555.1 186.3,555 187.9,555 189.4,555 191,555 192.6,555.1 194.1,555.2 195.7,555.3 197.3,555.4 198.8,555.5 200.4,555.7 202,555.8 203.5,556 205.1,556.3 206.6,556.5 208.2,556.8 209.7,557.1 211.3,557.4 212.8,557.7 214.4,558.1 215.9,558.4 217.4,558.8 219,559.2 220.5,559.7 222,560.1 223.5,560.6 225,561.1 226.5,561.6 228,562.1 229.5,562.7 231,563.3 232.5,563.9 234,564.5 235.4,565.1 236.9,565.8 238.3,566.5 239.8,567.2 241.2,567.9 242.6,568.6 244.1,569.4 245.5,570.2 246.9,571 248.2,571.8 249.6,572.6 251,573.5 252.4,574.3 253.7,575.2 255,576.1 256.4,577 257.7,578 259,578.9 260.3,579.9 261.6,580.9 262.8,581.9 264.1,582.9 265.4,584 266.6,585.1 267.8,586.1 269,587.2 270.2,588.3 271.4,589.5 272.6,590.6 273.7,591.8 274.9,592.9 276,594.1 277.1,595.3 278.2,596.5 279.3,597.8 280.4,599 281.4,600.3 282.4,601.6 283.5,602.8 284.5,604.1 285.5,605.5 286.4,606.8 287.4,608.1 288.3,609.5 289.3,610.8 290.2,612.2 291.1,613.6 292,615 292.8,616.4 293.7,617.8 294.5,619.3 295.3,620.7 296.1,622.2 296.8,623.6 297.6,625.1 298.3,626.6 299.1,628.1 299.8,629.6 300.4,631.1 301.1,632.6 301.7,634.2 302.4,635.7 303,637.2 303.6,638.8 304.1,640.3 304.7,641.9 305.2,643.5 305.7,645.1 306.2,646.6 306.7,648.2 307.1,649.8 307.6,651.4 308,653 308.4,654.7 308.7,656.3 309.1,657.9 309.4,659.5 309.7,661.2 310,662.8 310.3,664.4 310.6,666.1 310.8,667.7 311,669.3 311.2,671 311.4,672.6 311.5,674.3 311.7,675.9 311.8,677.6 311.9,679.2 311.9,680.9 312,682.5 312,684.2 312,685.8 312,687.5 312,689.1 311.9,690.8 311.8,692.4 311.7,694.1 311.6,695.7 311.5,697.4 311.3,699 311.2,700.6 311,702.3 310.8,703.9 310.5,705.5 310.3,707.1 310,708.7 309.7,710.3 309.4,711.9 309,713.5 308.7,715.1 308.3,716.7 307.9,718.3 307.5,719.9 307,721.4 306.6,723 306.1,724.6 305.6,726.1 305.1,727.6 304.6,729.2 304,730.7 303.4,732.2 302.8,733.7 302.2,735.2 301.6,736.7 301,738.2 300.3,739.7 299.6,741.1 298.9,742.6 298.2,744 297.4,745.4 296.7,746.8 295.9,748.2 295.1,749.6 294.3,751 293.5,752.4 292.6,753.7 291.8,755.1 290.9,756.4 290,757.7 289.1,759 288.1,760.3 287.2,761.6 286.2,762.9 285.3,764.1 284.3,765.4 283.2,766.6 282.2,767.8 281.2,769 280.1,770.2 279.1,771.3 278,772.5 276.9,773.6 275.7,774.7 274.6,775.8 273.5,776.9 272.3,778 271.1,779 270,780.1 268.8,781.1 267.5,782.1 266.3,783.1 265.1,784 263.8,785 262.6,785.9 261.3,786.8 260,787.7 258.7,788.6 257.4,789.4 256.1,790.3 254.8,791.1 253.4,791.9 252.1,792.7 250.7,793.4 249.3,794.2 247.9,794.9 246.6,795.6 245.2,796.3 243.7,797 242.3,797.6 240.9,798.2 239.5,798.8 238,799.4 236.6,800 235.1,800.5 233.6,801.1 232.2,801.6 230.7,802 229.2,802.5 227.7,802.9 226.2,803.4 224.7,803.8 223.2,804.1 221.7,804.5 220.2,804.8 218.6,805.2 217.1,805.4 215.6,805.7 214,806 212.5,806.2 211,806.4 209.4,806.6 207.9,806.8 206.3,806.9 204.7,807 203.2,807.1 201.6,807.2 200.1,807.3 198.5,807.3 196.9,807.3 195.4,807.3 193.8,807.3 192.2,807.2 190.7,807.2 189.1,807.1 187.5,806.9 186,806.8 184.4,806.7 182.9,806.5 181.3,806.3 179.7,806 178.2,805.8 176.6,805.5 175.1,805.3 173.5,804.9 172,804.6 170.4,804.3 168.9,803.9 167.4,803.5 165.8,803.1 164.3,802.7 162.8,802.2 161.3,801.7 159.8,801.2 158.3,800.7 156.8,800.2 155.3,799.6 153.8,799 152.3,798.4 150.9,797.8 149.4,797.2 147.9,796.5 146.5,795.8 145,795.1 143.6,794.4 142.2,793.7 140.8,792.9 139.4,792.2 138,791.4 136.6,790.6 135.2,789.7 133.8,788.9 132.5,788 131.1,787.1 129.8,786.2 128.4,785.3 127.1,784.3 125.8,783.4 124.5,782.4 123.2,781.4 122,780.4 120.7,779.4 119.5,778.3 118.2,777.3 117,776.2 115.8,775.1 114.6,774 113.4,772.9 112.3,771.7 111.1,770.6 110,769.4 108.8,768.2 107.7,767 106.6,765.8 105.5,764.5 104.5,763.3 103.4,762 102.4,760.8 101.4,759.5 100.3,758.2 99.4,756.9 98.4,755.5 97.4,754.2 96.5,752.8 95.5,751.5 94.6,750.1 93.7,748.7 92.9,747.3 92,745.9 91.2,744.5 90.3,743 89.5,741.6 88.7,740.1 88,738.7 87.2,737.2 86.5,735.7 85.8,734.2 85.1,732.7 84.4,731.2 83.7,729.7 83.1,728.2 82.5,726.6 81.8,725.1 81.3,723.5 80.7,722 80.1,720.4 79.6,718.8 79.1,717.3 78.6,715.7 78.1,714.1 77.7,712.5 77.3,710.9 76.8,709.3 76.4,707.7 76.1,706 75.7,704.4 75.4,702.8 75.1,701.2 74.8,699.5 74.5,697.9 74.3,696.3 74,694.6 73.8,693 73.6,691.3 73.4,689.7 73.3,688 73.2,686.4 73.1,684.7 73,683.1 72.9,681.4 72.8,679.8 72.8,678.1 72.8,676.5 72.8,674.8 72.9,673.2 72.9,671.5 73,669.9 73.1,668.2 73.2,666.6 73.3,665 73.5,663.3 73.7,661.7 73.9,660.1 74.1,658.4 74.3,656.8 74.6,655.2 74.8,653.6 75.1,652 75.5,650.4 75.8,648.8 76.2,647.2 76.5,645.6 76.9,644 77.3,642.4 77.8,640.9 78.2,639.3 78.7,637.8 79.2,636.2 79.7,634.7 80.3,633.1 80.8,631.6 81.4,630.1 82,628.6 82.6,627.1 83.2,625.6 83.9,624.1 84.5,622.7 85.2,621.2 85.9,619.8 86.6,618.3 87.4,616.9 88.1,615.5 88.9,614.1 89.7,612.7 90.5,611.3 91.3,609.9 92.2,608.6 93.1,607.2 93.9,605.9 94.8,604.6 95.7,603.3 96.7,602 97.6,600.7 98.6,599.4 99.6,598.2 100.6,597 101.6,595.7 102.6,594.5 103.6,593.3 104.7,592.2 105.8,591 106.9,589.8 108,588.7 109.1,587.6 110.2,586.5 111.3,585.4 112.5,584.3 113.7,583.3 114.9,582.3 116.1,581.2 117.3,580.2 118.5,579.3 119.7,578.3 121,577.3 122.2,576.4 123.5,575.5 124.8,574.6 126.1,573.7 127.4,572.9 128.7,572 130.1,571.2 131.4,570.4 132.8,569.6 134.1,568.9 135.5,568.1 136.9,567.4 138.3,566.7 139.7,566 141.1,565.4 142.5,564.7 143.9,564.1 145.4,563.5 146.8,562.9 148.2,562.3 149.7,561.8 151.2,561.3 152.6,560.8 154.1,560.3Z" fill="none" stroke="#1a1a1a" stroke-width="0.6" clip-path="url(#cx3)"/>
<path d="M150.3,559 151.5,558.6 152.6,558.3 153.8,557.9 155,557.6 156.2,557.3 157.4,557 158.6,556.7 159.8,556.4 161,556.2 162.2,556 163.5,555.8 164.7,555.6 165.9,555.5 167.2,555.4 168.4,555.3 169.7,555.2 170.9,555.1 172.2,555.1 173.4,555.1 174.7,555.1 176,555.1 177.2,555.1 178.5,555.2 179.8,555.3 181.1,555.4 182.3,555.5 183.6,555.7 184.9,555.9 186.2,556.1 187.5,556.3 188.8,556.5 190,556.8 191.3,557.1 192.6,557.4 193.9,557.7 195.2,558 196.5,558.4 197.8,558.8 199.1,559.2 200.3,559.6 201.6,560.1 202.9,560.5 204.2,561 205.5,561.5 206.7,562 208,562.6 209.3,563.2 210.5,563.7 211.8,564.4 213.1,565 214.3,565.6 215.6,566.3 216.8,567 218.1,567.7 219.3,568.4 220.6,569.2 221.8,569.9 223,570.7 224.2,571.5 225.5,572.3 226.7,573.2 227.9,574 229.1,574.9 230.3,575.8 231.5,576.7 232.6,577.6 233.8,578.6 235,579.5 236.1,580.5 237.3,581.5 238.4,582.5 239.6,583.6 240.7,584.6 241.8,585.7 242.9,586.7 244,587.8 245.1,588.9 246.2,590.1 247.3,591.2 248.4,592.4 249.4,593.5 250.5,594.7 251.5,595.9 252.5,597.1 253.5,598.4 254.5,599.6 255.5,600.9 256.5,602.1 257.5,603.4 258.5,604.7 259.4,606 260.4,607.4 261.3,608.7 262.2,610 263.1,611.4 264,612.8 264.9,614.1 265.8,615.5 266.6,616.9 267.5,618.4 268.3,619.8 269.1,621.2 269.9,622.7 270.7,624.1 271.5,625.6 272.2,627.1 273,628.5 273.7,630 274.5,631.5 275.2,633.1 275.9,634.6 276.5,636.1 277.2,637.6 277.9,639.2 278.5,640.7 279.1,642.3 279.7,643.8 280.3,645.4 280.9,647 281.5,648.5 282,650.1 282.6,651.7 283.1,653.3 283.6,654.9 284.1,656.5 284.5,658.1 285,659.7 285.4,661.3 285.8,662.9 286.3,664.6 286.6,666.2 287,667.8 287.4,669.4 287.7,671.1 288.1,672.7 288.4,674.3 288.7,676 288.9,677.6 289.2,679.2 289.4,680.8 289.7,682.5 289.9,684.1 290.1,685.7 290.2,687.4 290.4,689 290.6,690.6 290.7,692.2 290.8,693.9 290.9,695.5 291,697.1 291,698.7 291.1,700.3 291.1,701.9 291.1,703.5 291.1,705.1 291.1,706.7 291,708.3 291,709.9 290.9,711.5 290.8,713.1 290.7,714.6 290.6,716.2 290.4,717.8 290.3,719.3 290.1,720.9 289.9,722.4 289.7,723.9 289.5,725.5 289.2,727 289,728.5 288.7,730 288.4,731.5 288.1,732.9 287.8,734.4 287.5,735.9 287.1,737.3 286.7,738.8 286.3,740.2 285.9,741.6 285.5,743 285.1,744.4 284.6,745.8 284.2,747.2 283.7,748.6 283.2,749.9 282.7,751.3 282.1,752.6 281.6,753.9 281,755.2 280.4,756.5 279.9,757.8 279.3,759.1 278.6,760.3 278,761.6 277.3,762.8 276.7,764 276,765.2 275.3,766.4 274.6,767.5 273.9,768.7 273.1,769.8 272.4,770.9 271.6,772 270.9,773.1 270.1,774.2 269.3,775.3 268.5,776.3 267.6,777.3 266.8,778.3 265.9,779.3 265.1,780.3 264.2,781.3 263.3,782.2 262.4,783.1 261.5,784 260.5,784.9 259.6,785.8 258.7,786.6 257.7,787.5 256.7,788.3 255.7,789.1 254.7,789.8 253.7,790.6 252.7,791.3 251.7,792.1 250.7,792.8 249.6,793.4 248.6,794.1 247.5,794.7 246.4,795.4 245.3,796 244.3,796.5 243.2,797.1 242,797.6 240.9,798.2 239.8,798.7 238.7,799.1 237.5,799.6 236.4,800 235.2,800.5 234,800.9 232.9,801.2 231.7,801.6 230.5,801.9 229.3,802.2 228.1,802.5 226.9,802.8 225.7,803.1 224.5,803.3 223.3,803.5 222,803.7 220.8,803.9 219.6,804 218.3,804.1 217.1,804.2 215.8,804.3 214.6,804.4 213.3,804.4 212.1,804.4 210.8,804.4 209.5,804.4 208.3,804.4 207,804.3 205.7,804.2 204.4,804.1 203.2,804 201.9,803.8 200.6,803.6 199.3,803.4 198,803.2 196.7,803 195.5,802.7 194.2,802.4 192.9,802.1 191.6,801.8 190.3,801.5 189,801.1 187.7,800.7 186.4,800.3 185.2,799.9 183.9,799.4 182.6,799 181.3,798.5 180,798 178.8,797.5 177.5,796.9 176.2,796.3 175,795.8 173.7,795.1 172.4,794.5 171.2,793.9 169.9,793.2 168.7,792.5 167.4,791.8 166.2,791.1 164.9,790.3 163.7,789.6 162.5,788.8 161.3,788 160,787.2 158.8,786.3 157.6,785.5 156.4,784.6 155.2,783.7 154,782.8 152.9,781.9 151.7,780.9 150.5,780 149.4,779 148.2,778 147.1,777 145.9,775.9 144.8,774.9 143.7,773.8 142.6,772.8 141.5,771.7 140.4,770.6 139.3,769.4 138.2,768.3 137.1,767.1 136.1,766 135,764.8 134,763.6 133,762.4 132,761.1 131,759.9 130,758.6 129,757.4 128,756.1 127,754.8 126.1,753.5 125.1,752.1 124.2,750.8 123.3,749.5 122.4,748.1 121.5,746.7 120.6,745.4 119.7,744 118.9,742.6 118,741.1 117.2,739.7 116.4,738.3 115.6,736.8 114.8,735.4 114,733.9 113.3,732.4 112.5,731 111.8,729.5 111,728 110.3,726.4 109.6,724.9 109,723.4 108.3,721.9 107.6,720.3 107,718.8 106.4,717.2 105.8,715.7 105.2,714.1 104.6,712.5 104,711 103.5,709.4 102.9,707.8 102.4,706.2 101.9,704.6 101.4,703 101,701.4 100.5,699.8 100.1,698.2 99.7,696.6 99.2,694.9 98.9,693.3 98.5,691.7 98.1,690.1 97.8,688.4 97.4,686.8 97.1,685.2 96.8,683.5 96.6,681.9 96.3,680.3 96.1,678.7 95.8,677 95.6,675.4 95.4,673.8 95.3,672.1 95.1,670.5 94.9,668.9 94.8,667.3 94.7,665.6 94.6,664 94.5,662.4 94.5,660.8 94.4,659.2 94.4,657.6 94.4,656 94.4,654.4 94.4,652.8 94.5,651.2 94.5,649.6 94.6,648 94.7,646.4 94.8,644.9 94.9,643.3 95.1,641.7 95.2,640.2 95.4,638.6 95.6,637.1 95.8,635.6 96,634 96.3,632.5 96.5,631 96.8,629.5 97.1,628 97.4,626.6 97.7,625.1 98,623.6 98.4,622.2 98.8,620.7 99.2,619.3 99.6,617.9 100,616.5 100.4,615.1 100.9,613.7 101.3,612.3 101.8,610.9 102.3,609.6 102.8,608.2 103.4,606.9 103.9,605.6 104.5,604.3 105.1,603 105.6,601.7 106.2,600.4 106.9,599.2 107.5,597.9 108.2,596.7 108.8,595.5 109.5,594.3 110.2,593.1 110.9,592 111.6,590.8 112.4,589.7 113.1,588.6 113.9,587.5 114.6,586.4 115.4,585.3 116.2,584.2 117,583.2 117.9,582.2 118.7,581.2 119.6,580.2 120.4,579.2 121.3,578.2 122.2,577.3 123.1,576.4 124,575.5 125,574.6 125.9,573.7 126.8,572.9 127.8,572 128.8,571.2 129.8,570.4 130.8,569.7 131.8,568.9 132.8,568.2 133.8,567.4 134.8,566.7 135.9,566.1 136.9,565.4 138,564.8 139.1,564.1 140.2,563.5 141.2,563 142.3,562.4 143.5,561.9 144.6,561.3 145.7,560.8 146.8,560.4 148,559.9 149.1,559.5Z" fill="#2ee81e" stroke="#1a1a1a" stroke-width="0.6"/>
<path d="M97.3,680.7 97.1,679.5 96.9,678.3 96.7,677 96.6,675.8 96.4,674.6 96.3,673.3 96.2,672.1 96,670.8 95.9,669.6 95.8,668.3 95.7,667 95.7,665.7 95.6,664.5 95.5,663.2 95.5,661.9 95.5,660.6 95.4,659.3 95.4,658 95.4,656.6 95.5,655.3 95.5,654 95.5,652.7 95.6,651.3 95.7,650 95.8,648.6 95.9,647.3 96,645.9 96.1,644.6 96.3,643.2 96.5,641.9 96.7,640.5 96.9,639.1 97.1,637.8 97.3,636.4 97.6,635 97.9,633.6 98.1,632.3 98.5,630.9 98.8,629.5 99.2,628.1 99.5,626.7 99.9,625.4 100.3,624 100.8,622.6 101.2,621.2 101.7,619.9 102.2,618.5 102.7,617.1 103.3,615.8 103.8,614.4 104.4,613.1 105,611.7 105.7,610.4 106.3,609 107,607.7 107.7,606.4 108.5,605.1 109.2,603.8 110,602.5 110.8,601.3 111.6,600 112.5,598.8 113.4,597.5 114.3,596.3 115.2,595.1 116.2,593.9 117.1,592.8 118.1,591.6 119.2,590.5 120.2,589.4 121.3,588.3 122.4,587.3 123.5,586.2 124.6,585.2 125.8,584.2 127,583.2 128.2,582.3 129.4,581.4 130.6,580.5 131.9,579.6 133.2,578.8 134.5,578 135.8,577.2 137.1,576.5 138.5,575.7 139.9,575.1 141.3,574.4 142.7,573.8 144.1,573.2 145.5,572.6 146.9,572.1 148.4,571.6 149.8,571.1 151.3,570.7 152.8,570.3 154.3,570 155.8,569.6 157.3,569.3 158.8,569.1 160.3,568.8 161.8,568.6 163.3,568.5 164.8,568.3 166.4,568.2 167.9,568.1 169.4,568.1 170.9,568.1 172.4,568.1 173.9,568.1 175.5,568.2 177,568.3 178.5,568.4 180,568.6 181.5,568.8 182.9,569 184.4,569.2 185.9,569.5 187.4,569.7 188.8,570 190.3,570.3 191.7,570.7 193.1,571 194.6,571.4 196,571.8 197.4,572.2 198.8,572.7 200.2,573.1 201.5,573.6 202.9,574.1 204.2,574.6 205.6,575.1 206.9,575.7 208.2,576.2 209.5,576.8 210.8,577.3 212.1,577.9 213.4,578.5 214.7,579.1 215.9,579.8 217.2,580.4 218.4,581 219.6,581.7 220.8,582.4 222,583 223.2,583.7 224.4,584.4 225.5,585.1 226.7,585.8 227.8,586.6 229,587.3 230.1,588 231.2,588.8 232.3,589.5 233.4,590.3 234.5,591.1 235.5,591.9 236.6,592.7 237.7,593.5 238.7,594.3 239.7,595.1 240.7,595.9 241.7,596.7 242.7,597.5 243.7,598.4 244.7,599.2 245.7,600.1 246.6,601 247.6,601.8 248.5,602.7 249.5,603.6 250.4,604.5 251.3,605.4 252.2,606.3 253.1,607.2 253.9,608.1 254.8,609 255.7,610 256.5,610.9 257.4,611.9 258.2,612.8 259,613.8 259.8,614.7 260.6,615.7 261.4,616.7 262.1,617.7 262.9,618.7 263.7,619.7 264.4,620.7 265.1,621.7 265.9,622.7 266.6,623.7 267.3,624.8 268,625.8 268.6,626.9 269.3,627.9 270,629 270.6,630 271.2,631.1 271.9,632.2 272.5,633.3 273.1,634.4 273.7,635.4 274.2,636.5 274.8,637.6 275.4,638.8 275.9,639.9 276.4,641 277,642.1 277.5,643.3 278,644.4 278.5,645.5 278.9,646.7 279.4,647.8 279.9,649 280.3,650.2 280.8,651.3 281.2,652.5 281.6,653.7 282,654.9 282.4,656 282.8,657.2 283.1,658.4 283.5,659.6 283.9,660.8 284.2,662 284.5,663.3 284.8,664.5 285.2,665.7 285.5,666.9 285.7,668.2 286,669.4 286.3,670.6 286.6,671.9 286.8,673.1 287,674.4 287.3,675.6 287.5,676.9 287.7,678.2 287.9,679.4 288.1,680.7 288.3,682 288.5,683.3 288.6,684.6 288.8,685.9 288.9,687.2 289,688.5 289.2,689.8 289.3,691.1 289.4,692.4 289.5,693.8 289.5,695.1 289.6,696.5 289.7,697.8 289.7,699.1 289.7,700.5 289.7,701.9 289.7,703.2 289.7,704.6 289.7,706 289.7,707.4 289.6,708.7 289.6,710.1 289.5,711.5 289.4,712.9 289.3,714.3 289.2,715.7 289,717.2 288.9,718.6 288.7,720 288.5,721.4 288.3,722.8 288.1,724.3 287.9,725.7 287.6,727.2 287.3,728.6 287.1,730 286.7,731.5 286.4,732.9 286.1,734.4 285.7,735.8 285.3,737.3 284.9,738.7 284.5,740.2 284,741.6 283.6,743.1 283.1,744.5 282.6,745.9 282,747.4 281.5,748.8 280.9,750.3 280.3,751.7 279.7,753.1 279,754.5 278.3,755.9 277.6,757.3 276.9,758.7 276.2,760.1 275.4,761.5 274.6,762.9 273.8,764.2 272.9,765.6 272.1,766.9 271.2,768.2 270.2,769.5 269.3,770.8 268.3,772.1 267.3,773.4 266.3,774.6 265.2,775.8 264.2,777 263.1,778.2 261.9,779.4 260.8,780.5 259.6,781.6 258.4,782.7 257.2,783.8 255.9,784.8 254.7,785.8 253.4,786.8 252.1,787.8 250.7,788.7 249.4,789.6 248,790.4 246.6,791.3 245.2,792.1 243.7,792.8 242.3,793.6 240.8,794.3 239.3,794.9 237.8,795.6 236.3,796.2 234.8,796.7 233.3,797.3 231.7,797.7 230.1,798.2 228.6,798.6 227,799 225.4,799.3 223.8,799.6 222.2,799.9 220.6,800.1 219,800.3 217.4,800.5 215.7,800.6 214.1,800.7 212.5,800.7 210.9,800.7 209.3,800.7 207.7,800.6 206,800.6 204.4,800.4 202.8,800.3 201.2,800.1 199.6,799.9 198.1,799.6 196.5,799.3 194.9,799 193.4,798.7 191.8,798.3 190.3,797.9 188.7,797.5 187.2,797 185.7,796.6 184.2,796.1 182.7,795.5 181.3,795 179.8,794.4 178.4,793.8 177,793.2 175.5,792.6 174.1,791.9 172.8,791.3 171.4,790.6 170,789.9 168.7,789.2 167.4,788.4 166.1,787.7 164.8,786.9 163.5,786.1 162.2,785.3 161,784.5 159.8,783.7 158.5,782.9 157.3,782.1 156.2,781.2 155,780.3 153.8,779.5 152.7,778.6 151.6,777.7 150.5,776.8 149.4,775.9 148.3,775 147.2,774.1 146.2,773.1 145.2,772.2 144.1,771.3 143.1,770.3 142.1,769.4 141.2,768.4 140.2,767.4 139.3,766.5 138.3,765.5 137.4,764.5 136.5,763.5 135.6,762.6 134.7,761.6 133.8,760.6 133,759.6 132.1,758.6 131.3,757.6 130.5,756.6 129.7,755.5 128.9,754.5 128.1,753.5 127.3,752.5 126.6,751.5 125.8,750.5 125.1,749.4 124.3,748.4 123.6,747.4 122.9,746.3 122.2,745.3 121.5,744.3 120.9,743.2 120.2,742.2 119.5,741.1 118.9,740.1 118.3,739 117.6,738 117,736.9 116.4,735.9 115.8,734.8 115.2,733.7 114.7,732.7 114.1,731.6 113.5,730.5 113,729.5 112.5,728.4 111.9,727.3 111.4,726.3 110.9,725.2 110.4,724.1 109.9,723 109.4,721.9 108.9,720.8 108.5,719.7 108,718.7 107.5,717.6 107.1,716.5 106.7,715.4 106.2,714.3 105.8,713.1 105.4,712 105,710.9 104.6,709.8 104.2,708.7 103.8,707.6 103.5,706.4 103.1,705.3 102.7,704.2 102.4,703 102,701.9 101.7,700.8 101.4,699.6 101.1,698.5 100.8,697.3 100.5,696.2 100.2,695 99.9,693.8 99.6,692.7 99.3,691.5 99.1,690.3 98.8,689.1 98.6,687.9 98.3,686.7 98.1,685.6 97.9,684.3 97.7,683.1 97.5,681.9Z" fill="#8cf400"/>
<path d="M100.6,680.7 100.5,679.5 100.3,678.4 100.1,677.2 100,676 99.8,674.8 99.7,673.6 99.6,672.4 99.5,671.2 99.4,670 99.3,668.7 99.2,667.5 99.1,666.3 99.1,665 99,663.8 99,662.6 98.9,661.3 98.9,660 98.9,658.8 98.9,657.5 98.9,656.2 99,655 99,653.7 99.1,652.4 99.1,651.1 99.2,649.8 99.3,648.5 99.4,647.2 99.6,645.9 99.7,644.6 99.9,643.3 100,641.9 100.2,640.6 100.4,639.3 100.6,638 100.9,636.6 101.1,635.3 101.4,634 101.7,632.6 102,631.3 102.3,629.9 102.7,628.6 103,627.3 103.4,625.9 103.8,624.6 104.2,623.2 104.7,621.9 105.1,620.6 105.6,619.2 106.1,617.9 106.6,616.6 107.2,615.2 107.8,613.9 108.3,612.6 109,611.3 109.6,610 110.3,608.7 110.9,607.4 111.6,606.1 112.4,604.8 113.1,603.6 113.9,602.3 114.7,601.1 115.5,599.9 116.4,598.6 117.2,597.4 118.1,596.2 119,595.1 120,593.9 120.9,592.8 121.9,591.7 122.9,590.6 124,589.5 125,588.4 126.1,587.4 127.2,586.4 128.3,585.4 129.5,584.4 130.7,583.5 131.9,582.5 133.1,581.6 134.3,580.8 135.5,579.9 136.8,579.1 138.1,578.3 139.4,577.6 140.7,576.8 142.1,576.2 143.4,575.5 144.8,574.9 146.2,574.3 147.6,573.7 149,573.2 150.4,572.6 151.8,572.2 153.3,571.7 154.7,571.3 156.2,571 157.7,570.6 159.1,570.3 160.6,570 162.1,569.8 163.6,569.6 165.1,569.4 166.6,569.3 168.1,569.2 169.6,569.1 171.1,569.1 172.6,569 174.1,569.1 175.6,569.1 177.1,569.2 178.6,569.3 180,569.4 181.5,569.6 183,569.8 184.5,570 185.9,570.2 187.4,570.5 188.8,570.8 190.3,571.1 191.7,571.5 193.1,571.8 194.5,572.2 195.9,572.6 197.3,573 198.7,573.5 200.1,574 201.4,574.4 202.8,575 204.1,575.5 205.5,576 206.8,576.6 208.1,577.1 209.4,577.7 210.6,578.3 211.9,579 213.2,579.6 214.4,580.2 215.6,580.9 216.8,581.6 218,582.3 219.2,582.9 220.4,583.7 221.6,584.4 222.7,585.1 223.9,585.8 225,586.6 226.1,587.3 227.2,588.1 228.3,588.9 229.4,589.7 230.5,590.5 231.5,591.3 232.6,592.1 233.6,592.9 234.6,593.7 235.6,594.5 236.6,595.4 237.6,596.2 238.6,597.1 239.5,597.9 240.5,598.8 241.4,599.6 242.4,600.5 243.3,601.4 244.2,602.3 245.1,603.2 246,604.1 246.8,605 247.7,605.9 248.5,606.8 249.4,607.7 250.2,608.6 251,609.6 251.8,610.5 252.6,611.5 253.4,612.4 254.2,613.3 255,614.3 255.7,615.3 256.5,616.2 257.2,617.2 257.9,618.2 258.6,619.2 259.4,620.1 260,621.1 260.7,622.1 261.4,623.1 262.1,624.1 262.7,625.1 263.4,626.1 264,627.1 264.6,628.2 265.2,629.2 265.8,630.2 266.4,631.3 267,632.3 267.6,633.3 268.2,634.4 268.7,635.4 269.3,636.5 269.8,637.5 270.3,638.6 270.8,639.7 271.3,640.7 271.8,641.8 272.3,642.9 272.8,644 273.3,645.1 273.7,646.1 274.2,647.2 274.6,648.3 275,649.4 275.5,650.6 275.9,651.7 276.3,652.8 276.7,653.9 277.1,655 277.4,656.1 277.8,657.3 278.1,658.4 278.5,659.5 278.8,660.7 279.2,661.8 279.5,663 279.8,664.1 280.1,665.3 280.4,666.4 280.7,667.6 280.9,668.8 281.2,670 281.4,671.1 281.7,672.3 281.9,673.5 282.1,674.7 282.4,675.9 282.6,677.1 282.8,678.3 283,679.5 283.2,680.7 283.3,681.9 283.5,683.2 283.6,684.4 283.8,685.6 283.9,686.9 284.1,688.1 284.2,689.3 284.3,690.6 284.4,691.9 284.5,693.1 284.5,694.4 284.6,695.7 284.6,696.9 284.7,698.2 284.7,699.5 284.7,700.8 284.7,702.1 284.7,703.4 284.7,704.7 284.7,706 284.6,707.3 284.6,708.7 284.5,710 284.4,711.3 284.3,712.7 284.2,714 284.1,715.3 284,716.7 283.8,718 283.6,719.4 283.5,720.8 283.3,722.1 283,723.5 282.8,724.9 282.6,726.2 282.3,727.6 282,729 281.7,730.4 281.4,731.7 281,733.1 280.7,734.5 280.3,735.9 279.9,737.3 279.5,738.7 279,740 278.6,741.4 278.1,742.8 277.6,744.2 277.1,745.6 276.6,746.9 276,748.3 275.4,749.7 274.8,751 274.2,752.4 273.5,753.7 272.8,755.1 272.1,756.4 271.4,757.7 270.7,759 269.9,760.3 269.1,761.6 268.3,762.9 267.4,764.2 266.6,765.5 265.7,766.7 264.8,767.9 263.8,769.2 262.9,770.4 261.9,771.5 260.9,772.7 259.8,773.9 258.8,775 257.7,776.1 256.6,777.2 255.4,778.2 254.3,779.3 253.1,780.3 251.9,781.3 250.7,782.2 249.4,783.2 248.1,784.1 246.9,785 245.6,785.8 244.2,786.6 242.9,787.4 241.5,788.2 240.1,788.9 238.7,789.6 237.3,790.3 235.9,790.9 234.5,791.5 233,792 231.5,792.6 230,793 228.6,793.5 227.1,793.9 225.5,794.3 224,794.7 222.5,795 221,795.2 219.4,795.5 217.9,795.7 216.3,795.9 214.8,796 213.2,796.1 211.7,796.2 210.1,796.2 208.6,796.2 207,796.2 205.5,796.1 203.9,796 202.4,795.9 200.8,795.7 199.3,795.5 197.8,795.3 196.3,795 194.7,794.7 193.2,794.4 191.8,794.1 190.3,793.7 188.8,793.3 187.3,792.9 185.9,792.4 184.4,792 183,791.5 181.6,791 180.2,790.4 178.8,789.9 177.4,789.3 176.1,788.7 174.7,788.1 173.4,787.4 172,786.8 170.7,786.1 169.4,785.4 168.2,784.7 166.9,784 165.6,783.3 164.4,782.5 163.2,781.8 162,781 160.8,780.2 159.6,779.4 158.5,778.6 157.3,777.8 156.2,777 155.1,776.1 154,775.3 152.9,774.4 151.8,773.5 150.8,772.7 149.7,771.8 148.7,770.9 147.7,770 146.7,769.1 145.7,768.2 144.7,767.3 143.8,766.4 142.8,765.4 141.9,764.5 141,763.6 140.1,762.6 139.2,761.7 138.3,760.7 137.5,759.8 136.6,758.8 135.8,757.8 134.9,756.9 134.1,755.9 133.3,754.9 132.5,754 131.7,753 131,752 130.2,751 129.5,750 128.7,749 128,748.1 127.3,747.1 126.6,746.1 125.9,745.1 125.2,744.1 124.6,743.1 123.9,742.1 123.3,741.1 122.6,740 122,739 121.4,738 120.8,737 120.2,736 119.6,735 119,733.9 118.4,732.9 117.9,731.9 117.3,730.9 116.8,729.8 116.2,728.8 115.7,727.8 115.2,726.7 114.7,725.7 114.2,724.7 113.7,723.6 113.2,722.6 112.7,721.5 112.3,720.5 111.8,719.4 111.3,718.4 110.9,717.3 110.5,716.3 110,715.2 109.6,714.1 109.2,713.1 108.8,712 108.4,710.9 108,709.8 107.6,708.8 107.3,707.7 106.9,706.6 106.5,705.5 106.2,704.4 105.9,703.3 105.5,702.2 105.2,701.1 104.9,700 104.6,698.9 104.3,697.8 104,696.7 103.7,695.6 103.4,694.5 103.1,693.4 102.9,692.2 102.6,691.1 102.4,690 102.1,688.8 101.9,687.7 101.7,686.5 101.4,685.4 101.2,684.2 101,683.1 100.8,681.9Z" fill="#e2f000"/>
<path d="M103.6,680.7 103.4,679.6 103.2,678.4 103.1,677.3 102.9,676.1 102.8,675 102.7,673.8 102.6,672.7 102.5,671.5 102.4,670.3 102.3,669.1 102.2,668 102.1,666.8 102.1,665.6 102,664.4 102,663.2 102,662 102,660.7 101.9,659.5 102,658.3 102,657.1 102,655.8 102.1,654.6 102.1,653.3 102.2,652.1 102.3,650.8 102.4,649.6 102.5,648.3 102.6,647.1 102.7,645.8 102.9,644.5 103,643.2 103.2,642 103.4,640.7 103.6,639.4 103.9,638.1 104.1,636.8 104.4,635.5 104.6,634.2 104.9,632.9 105.2,631.6 105.6,630.3 105.9,629 106.3,627.7 106.7,626.4 107.1,625.1 107.5,623.8 107.9,622.5 108.4,621.2 108.9,620 109.4,618.7 109.9,617.4 110.5,616.1 111,614.8 111.6,613.5 112.2,612.3 112.9,611 113.5,609.8 114.2,608.5 114.9,607.3 115.6,606.1 116.4,604.8 117.1,603.6 117.9,602.4 118.7,601.3 119.6,600.1 120.4,598.9 121.3,597.8 122.2,596.7 123.1,595.5 124.1,594.5 125,593.4 126,592.3 127.1,591.3 128.1,590.3 129.2,589.3 130.2,588.3 131.4,587.3 132.5,586.4 133.6,585.5 134.8,584.6 136,583.8 137.2,583 138.4,582.2 139.7,581.4 140.9,580.6 142.2,579.9 143.5,579.2 144.8,578.6 146.1,578 147.5,577.4 148.8,576.8 150.2,576.3 151.6,575.8 152.9,575.3 154.3,574.9 155.7,574.5 157.2,574.1 158.6,573.8 160,573.5 161.5,573.2 162.9,573 164.3,572.7 165.8,572.6 167.3,572.4 168.7,572.3 170.2,572.2 171.6,572.2 173.1,572.2 174.5,572.2 176,572.2 177.4,572.3 178.9,572.4 180.3,572.5 181.8,572.7 183.2,572.9 184.6,573.1 186.1,573.3 187.5,573.6 188.9,573.9 190.3,574.2 191.7,574.5 193,574.9 194.4,575.3 195.8,575.7 197.1,576.1 198.5,576.6 199.8,577 201.1,577.5 202.4,578 203.7,578.5 205,579.1 206.3,579.6 207.5,580.2 208.8,580.8 210,581.4 211.3,582 212.5,582.6 213.7,583.3 214.8,583.9 216,584.6 217.2,585.3 218.3,586 219.5,586.7 220.6,587.4 221.7,588.1 222.8,588.9 223.9,589.6 225,590.4 226,591.1 227.1,591.9 228.1,592.7 229.1,593.5 230.1,594.3 231.1,595.1 232.1,595.9 233.1,596.7 234.1,597.5 235,598.3 235.9,599.2 236.9,600 237.8,600.9 238.7,601.7 239.6,602.6 240.5,603.4 241.3,604.3 242.2,605.2 243,606.1 243.9,606.9 244.7,607.8 245.5,608.7 246.3,609.6 247.1,610.5 247.9,611.4 248.7,612.4 249.4,613.3 250.2,614.2 250.9,615.1 251.6,616 252.4,617 253.1,617.9 253.8,618.9 254.5,619.8 255.2,620.7 255.8,621.7 256.5,622.7 257.1,623.6 257.8,624.6 258.4,625.5 259,626.5 259.6,627.5 260.2,628.5 260.8,629.4 261.4,630.4 262,631.4 262.6,632.4 263.1,633.4 263.7,634.4 264.2,635.4 264.7,636.4 265.3,637.4 265.8,638.4 266.3,639.5 266.8,640.5 267.2,641.5 267.7,642.5 268.2,643.6 268.6,644.6 269.1,645.6 269.5,646.7 269.9,647.7 270.4,648.8 270.8,649.8 271.2,650.9 271.6,651.9 272,653 272.3,654.1 272.7,655.1 273.1,656.2 273.4,657.3 273.8,658.3 274.1,659.4 274.4,660.5 274.7,661.6 275.1,662.7 275.4,663.8 275.7,664.9 275.9,666 276.2,667.1 276.5,668.2 276.7,669.3 277,670.5 277.2,671.6 277.5,672.7 277.7,673.8 277.9,675 278.1,676.1 278.3,677.3 278.5,678.4 278.7,679.6 278.9,680.7 279,681.9 279.2,683 279.3,684.2 279.5,685.4 279.6,686.6 279.7,687.8 279.8,689 279.9,690.1 280,691.3 280.1,692.5 280.2,693.8 280.3,695 280.3,696.2 280.3,697.4 280.4,698.6 280.4,699.9 280.4,701.1 280.4,702.4 280.4,703.6 280.4,704.9 280.3,706.1 280.3,707.4 280.2,708.7 280.2,709.9 280.1,711.2 280,712.5 279.9,713.8 279.7,715.1 279.6,716.4 279.4,717.7 279.3,719 279.1,720.3 278.9,721.6 278.7,722.9 278.4,724.2 278.2,725.5 277.9,726.8 277.7,728.2 277.4,729.5 277.1,730.8 276.7,732.2 276.4,733.5 276,734.8 275.6,736.2 275.2,737.5 274.8,738.8 274.4,740.1 273.9,741.5 273.4,742.8 272.9,744.1 272.4,745.5 271.8,746.8 271.3,748.1 270.7,749.4 270.1,750.7 269.5,752 268.8,753.3 268.1,754.6 267.4,755.9 266.7,757.2 266,758.4 265.2,759.7 264.4,760.9 263.6,762.1 262.7,763.4 261.9,764.6 261,765.8 260.1,766.9 259.2,768.1 258.2,769.2 257.2,770.4 256.2,771.5 255.2,772.6 254.1,773.6 253.1,774.7 252,775.7 250.8,776.7 249.7,777.7 248.5,778.6 247.3,779.6 246.1,780.5 244.9,781.3 243.7,782.2 242.4,783 241.1,783.8 239.8,784.6 238.5,785.3 237.1,786 235.8,786.7 234.4,787.3 233,787.9 231.6,788.5 230.2,789 228.8,789.5 227.4,790 225.9,790.4 224.5,790.8 223,791.2 221.5,791.5 220,791.8 218.5,792 217,792.3 215.6,792.5 214.1,792.6 212.5,792.7 211,792.8 209.5,792.9 208,792.9 206.5,792.9 205,792.8 203.5,792.7 202,792.6 200.5,792.5 199.1,792.3 197.6,792.1 196.1,791.9 194.6,791.6 193.2,791.3 191.7,791 190.3,790.6 188.8,790.3 187.4,789.9 186,789.4 184.6,789 183.2,788.5 181.8,788 180.5,787.5 179.1,787 177.8,786.4 176.4,785.8 175.1,785.2 173.8,784.6 172.5,784 171.3,783.3 170,782.7 168.7,782 167.5,781.3 166.3,780.6 165.1,779.8 163.9,779.1 162.7,778.3 161.6,777.6 160.4,776.8 159.3,776 158.2,775.2 157.1,774.4 156,773.6 154.9,772.7 153.9,771.9 152.9,771.1 151.8,770.2 150.8,769.3 149.8,768.5 148.8,767.6 147.9,766.7 146.9,765.8 146,764.9 145,764 144.1,763.1 143.2,762.2 142.3,761.3 141.5,760.3 140.6,759.4 139.8,758.5 138.9,757.6 138.1,756.6 137.3,755.7 136.5,754.7 135.7,753.8 134.9,752.8 134.2,751.9 133.4,750.9 132.7,750 132,749 131.2,748 130.5,747.1 129.8,746.1 129.1,745.1 128.5,744.2 127.8,743.2 127.2,742.2 126.5,741.2 125.9,740.2 125.3,739.3 124.6,738.3 124,737.3 123.4,736.3 122.9,735.3 122.3,734.3 121.7,733.3 121.2,732.3 120.6,731.3 120.1,730.3 119.5,729.3 119,728.3 118.5,727.3 118,726.3 117.5,725.3 117,724.3 116.5,723.3 116.1,722.3 115.6,721.3 115.1,720.2 114.7,719.2 114.2,718.2 113.8,717.2 113.4,716.2 113,715.1 112.6,714.1 112.2,713.1 111.8,712 111.4,711 111,710 110.6,708.9 110.3,707.9 109.9,706.8 109.6,705.8 109.2,704.7 108.9,703.7 108.6,702.6 108.2,701.6 107.9,700.5 107.6,699.4 107.3,698.4 107,697.3 106.7,696.2 106.5,695.1 106.2,694 105.9,692.9 105.7,691.9 105.4,690.8 105.2,689.7 105,688.6 104.7,687.5 104.5,686.3 104.3,685.2 104.1,684.1 103.9,683 103.7,681.9Z" fill="#ffb000"/>
<path d="M105.9,680.7 105.8,679.6 105.6,678.5 105.5,677.4 105.3,676.3 105.2,675.1 105.1,674 105,672.9 104.9,671.7 104.8,670.6 104.7,669.5 104.6,668.3 104.6,667.1 104.5,666 104.5,664.8 104.4,663.6 104.4,662.5 104.4,661.3 104.4,660.1 104.4,658.9 104.4,657.7 104.4,656.5 104.5,655.3 104.5,654.1 104.6,652.9 104.7,651.7 104.8,650.4 104.9,649.2 105,648 105.1,646.8 105.3,645.5 105.4,644.3 105.6,643 105.8,641.8 106,640.5 106.2,639.3 106.4,638 106.7,636.7 107,635.5 107.2,634.2 107.5,632.9 107.8,631.7 108.2,630.4 108.5,629.1 108.9,627.9 109.3,626.6 109.7,625.3 110.1,624.1 110.5,622.8 111,621.5 111.5,620.3 112,619 112.5,617.7 113,616.5 113.6,615.2 114.2,614 114.8,612.7 115.4,611.5 116,610.3 116.7,609 117.4,607.8 118.1,606.6 118.8,605.4 119.6,604.3 120.4,603.1 121.2,601.9 122,600.8 122.8,599.6 123.7,598.5 124.6,597.4 125.5,596.3 126.4,595.2 127.4,594.2 128.4,593.1 129.4,592.1 130.4,591.1 131.5,590.2 132.5,589.2 133.6,588.3 134.7,587.3 135.9,586.5 137,585.6 138.2,584.8 139.4,584 140.6,583.2 141.8,582.4 143,581.7 144.3,581 145.6,580.3 146.9,579.7 148.2,579.1 149.5,578.5 150.8,578 152.2,577.4 153.5,577 154.9,576.5 156.3,576.1 157.7,575.7 159.1,575.3 160.5,575 161.9,574.7 163.3,574.5 164.7,574.3 166.1,574.1 167.6,573.9 169,573.8 170.4,573.7 171.9,573.6 173.3,573.6 174.7,573.6 176.2,573.6 177.6,573.7 179,573.8 180.5,573.9 181.9,574.1 183.3,574.3 184.7,574.5 186.1,574.7 187.5,575 188.9,575.2 190.3,575.6 191.6,575.9 193,576.3 194.4,576.6 195.7,577 197,577.5 198.4,577.9 199.7,578.4 201,578.9 202.3,579.4 203.5,579.9 204.8,580.5 206.1,581 207.3,581.6 208.5,582.2 209.7,582.8 210.9,583.5 212.1,584.1 213.3,584.8 214.5,585.4 215.6,586.1 216.8,586.8 217.9,587.5 219,588.2 220.1,589 221.2,589.7 222.2,590.5 223.3,591.2 224.3,592 225.4,592.8 226.4,593.6 227.4,594.3 228.4,595.2 229.3,596 230.3,596.8 231.3,597.6 232.2,598.4 233.1,599.3 234,600.1 234.9,601 235.8,601.8 236.7,602.7 237.6,603.5 238.4,604.4 239.3,605.3 240.1,606.2 240.9,607 241.7,607.9 242.5,608.8 243.3,609.7 244.1,610.6 244.8,611.5 245.6,612.4 246.3,613.3 247,614.3 247.8,615.2 248.5,616.1 249.2,617 249.8,617.9 250.5,618.9 251.2,619.8 251.8,620.7 252.5,621.7 253.1,622.6 253.8,623.6 254.4,624.5 255,625.4 255.6,626.4 256.2,627.4 256.8,628.3 257.3,629.3 257.9,630.2 258.4,631.2 259,632.2 259.5,633.1 260,634.1 260.6,635.1 261.1,636 261.6,637 262.1,638 262.6,639 263,640 263.5,641 264,642 264.4,642.9 264.9,643.9 265.3,644.9 265.7,645.9 266.1,646.9 266.5,648 266.9,649 267.3,650 267.7,651 268.1,652 268.5,653 268.8,654.1 269.2,655.1 269.5,656.1 269.9,657.1 270.2,658.2 270.5,659.2 270.9,660.3 271.2,661.3 271.5,662.3 271.8,663.4 272,664.5 272.3,665.5 272.6,666.6 272.9,667.6 273.1,668.7 273.4,669.8 273.6,670.9 273.8,671.9 274.1,673 274.3,674.1 274.5,675.2 274.7,676.3 274.9,677.4 275.1,678.5 275.2,679.6 275.4,680.7 275.6,681.8 275.7,683 275.9,684.1 276,685.2 276.1,686.3 276.2,687.5 276.3,688.6 276.4,689.8 276.5,690.9 276.6,692.1 276.7,693.2 276.7,694.4 276.8,695.6 276.8,696.8 276.9,697.9 276.9,699.1 276.9,700.3 276.9,701.5 276.9,702.7 276.9,703.9 276.8,705.1 276.8,706.3 276.7,707.6 276.6,708.8 276.6,710 276.5,711.2 276.4,712.5 276.2,713.7 276.1,715 275.9,716.2 275.8,717.5 275.6,718.7 275.4,720 275.2,721.2 275,722.5 274.7,723.8 274.5,725 274.2,726.3 273.9,727.6 273.6,728.8 273.3,730.1 273,731.4 272.6,732.7 272.2,734 271.9,735.2 271.4,736.5 271,737.8 270.6,739.1 270.1,740.3 269.6,741.6 269.1,742.9 268.6,744.1 268,745.4 267.5,746.7 266.9,747.9 266.3,749.2 265.6,750.4 265,751.6 264.3,752.8 263.6,754.1 262.9,755.3 262.2,756.5 261.4,757.7 260.6,758.8 259.8,760 259,761.2 258.1,762.3 257.2,763.4 256.3,764.5 255.4,765.6 254.5,766.7 253.5,767.8 252.5,768.8 251.5,769.8 250.5,770.8 249.4,771.8 248.3,772.8 247.3,773.7 246.1,774.6 245,775.5 243.8,776.4 242.7,777.2 241.5,778 240.3,778.8 239,779.6 237.8,780.3 236.5,781 235.2,781.7 233.9,782.3 232.6,782.9 231.3,783.5 229.9,784.1 228.6,784.6 227.2,785.1 225.8,785.5 224.5,785.9 223.1,786.3 221.7,786.7 220.2,787 218.8,787.3 217.4,787.6 216,787.8 214.5,788 213.1,788.1 211.7,788.2 210.2,788.3 208.8,788.4 207.3,788.4 205.9,788.4 204.4,788.4 203,788.3 201.6,788.2 200.1,788.1 198.7,787.9 197.3,787.8 195.9,787.6 194.5,787.3 193.1,787 191.7,786.8 190.3,786.4 188.9,786.1 187.5,785.7 186.2,785.3 184.8,784.9 183.5,784.5 182.1,784 180.8,783.5 179.5,783 178.2,782.5 176.9,782 175.7,781.4 174.4,780.8 173.2,780.2 171.9,779.6 170.7,779 169.5,778.4 168.3,777.7 167.2,777 166,776.3 164.8,775.6 163.7,774.9 162.6,774.2 161.5,773.5 160.4,772.7 159.3,772 158.2,771.2 157.2,770.4 156.1,769.6 155.1,768.8 154.1,768 153.1,767.2 152.1,766.4 151.2,765.6 150.2,764.7 149.3,763.9 148.3,763 147.4,762.2 146.5,761.3 145.6,760.5 144.7,759.6 143.9,758.7 143,757.8 142.2,756.9 141.4,756 140.5,755.2 139.7,754.3 138.9,753.4 138.2,752.5 137.4,751.5 136.6,750.6 135.9,749.7 135.1,748.8 134.4,747.9 133.7,747 133,746 132.3,745.1 131.6,744.2 131,743.2 130.3,742.3 129.6,741.3 129,740.4 128.4,739.5 127.7,738.5 127.1,737.6 126.5,736.6 125.9,735.7 125.4,734.7 124.8,733.8 124.2,732.8 123.7,731.8 123.1,730.9 122.6,729.9 122,728.9 121.5,728 121,727 120.5,726 120,725.1 119.5,724.1 119,723.1 118.6,722.1 118.1,721.1 117.6,720.2 117.2,719.2 116.8,718.2 116.3,717.2 115.9,716.2 115.5,715.2 115.1,714.2 114.7,713.2 114.3,712.2 113.9,711.2 113.5,710.2 113.1,709.2 112.8,708.2 112.4,707.1 112.1,706.1 111.7,705.1 111.4,704.1 111.1,703.1 110.8,702 110.4,701 110.1,700 109.8,698.9 109.6,697.9 109.3,696.8 109,695.8 108.7,694.7 108.5,693.7 108.2,692.6 108,691.6 107.7,690.5 107.5,689.4 107.3,688.3 107.1,687.3 106.9,686.2 106.7,685.1 106.5,684 106.3,682.9 106.1,681.8Z" fill="#ff5a00"/>
<g clip-path="url(#ce3)"><path d="M136,562.8 C148,562.8 165,563.8 188,565.8 C210,567.8 232,572.8 262,590.8 L262,522.8 L136,522.8 Z" fill="#00eecc"/><path d="M143,559.8 C155,560.3 170,561.3 190,562.3 C210,563.3 230,566.8 250,577.8 L250,522.8 L143,522.8 Z" fill="#00b4f8"/><path d="M138,562.8 C155,559.3 175,559.3 195,560.1 C212,560.8 225,561.8 240,568.8 L240,522.8 L138,522.8 Z" fill="#0a28e0"/></g>
<g clip-path="url(#cr3)"><rect x="90" y="562.8" width="220" height="240" fill="#ff0000"/><path d="M138,586.5 C160,584.2 185,582.4 200,581.4 C208,580.9 214,580.2 220,578.6 L220,555.0 L138,555.0 Z" fill="#8c6408"/><path d="M94.1,768.5 94.1,767.6 94.1,766.8 94.1,765.9 94.3,765.1 94.5,764.2 94.7,763.3 95,762.5 95.4,761.6 95.8,760.8 96.3,759.9 96.8,759 97.4,758.2 98,757.3 98.7,756.4 99.5,755.6 100.3,754.7 101.1,753.9 102,753.1 103,752.2 104,751.4 105.1,750.6 106.2,749.8 107.3,748.9 108.6,748.2 109.8,747.4 111.1,746.6 112.5,745.8 113.9,745.1 115.3,744.3 116.8,743.6 118.3,742.8 119.9,742.1 121.5,741.4 123.2,740.8 124.9,740.1 126.6,739.4 128.3,738.8 130.1,738.2 132,737.5 133.8,737 135.7,736.4 137.6,735.8 139.6,735.3 141.5,734.8 143.5,734.2 145.6,733.8 147.6,733.3 149.7,732.8 151.7,732.4 153.9,732 156,731.6 158.1,731.2 160.3,730.9 162.4,730.6 164.6,730.3 166.8,730 169,729.7 171.1,729.5 173.3,729.2 175.6,729 177.8,728.9 180,728.7 182.2,728.6 184.4,728.5 186.6,728.4 188.8,728.3 190.9,728.3 193.1,728.3 195.3,728.3 197.4,728.3 199.6,728.3 201.7,728.4 203.8,728.5 205.9,728.6 208,728.8 210,728.9 212.1,729.1 214.1,729.3 216.1,729.5 218,729.8 220,730.1 221.9,730.3 223.7,730.7 225.6,731 227.4,731.3 229.2,731.7 230.9,732.1 232.6,732.5 234.3,733 235.9,733.4 237.5,733.9 239,734.4 240.5,734.9 242,735.4 243.4,736 244.8,736.5 246.1,737.1 247.4,737.7 248.7,738.3 249.8,739 251,739.6 252.1,740.3 253.1,740.9 254.1,741.6 255,742.3 255.9,743 256.8,743.8 257.5,744.5 258.3,745.3 258.9,746 259.5,746.8 260.1,747.6 260.6,748.4 261,749.2 261.4,750 261.8,750.8 262,751.6 262.2,752.5 262.4,753.3 262.5,754.1 262.5,755 262.5,755.8 262.5,756.7 262.3,757.5 262.1,758.4 261.9,759.3 261.6,760.1 261.2,761 260.8,761.9 260.3,762.7 259.8,763.6 259.2,764.5 258.6,765.3 257.9,766.2 257.1,767 256.3,767.9 255.5,768.7 254.6,769.6 253.6,770.4 252.6,771.2 251.5,772.1 250.4,772.9 249.3,773.7 248,774.5 246.8,775.3 245.5,776 244.1,776.8 242.7,777.6 241.3,778.3 239.8,779.1 238.3,779.8 236.7,780.5 235.1,781.2 233.4,781.9 231.7,782.5 230,783.2 228.3,783.8 226.5,784.5 224.6,785.1 222.8,785.7 220.9,786.2 219,786.8 217,787.3 215.1,787.9 213.1,788.4 211,788.9 209,789.3 206.9,789.8 204.9,790.2 202.7,790.6 200.6,791 198.5,791.4 196.3,791.7 194.2,792.1 192,792.4 189.8,792.6 187.6,792.9 185.5,793.2 183.3,793.4 181,793.6 178.8,793.7 176.6,793.9 174.4,794 172.2,794.1 170,794.2 167.8,794.3 165.7,794.3 163.5,794.4 161.3,794.4 159.2,794.3 157,794.3 154.9,794.2 152.8,794.1 150.7,794 148.6,793.9 146.6,793.7 144.5,793.5 142.5,793.3 140.5,793.1 138.6,792.8 136.6,792.6 134.7,792.3 132.9,792 131,791.6 129.2,791.3 127.4,790.9 125.7,790.5 124,790.1 122.3,789.7 120.7,789.2 119.1,788.7 117.6,788.2 116.1,787.7 114.6,787.2 113.2,786.6 111.8,786.1 110.5,785.5 109.2,784.9 107.9,784.3 106.8,783.7 105.6,783 104.5,782.3 103.5,781.7 102.5,781 101.6,780.3 100.7,779.6 99.8,778.8 99.1,778.1 98.3,777.4 97.7,776.6 97.1,775.8 96.5,775 96,774.2 95.6,773.4 95.2,772.6 94.8,771.8 94.6,771 94.4,770.2 94.2,769.3Z" fill="#ff6400"/></g>
<path d="M206.4,580.0 L207.5,580.5 L208.6,581.1 L209.7,581.6 L210.8,582.2 L211.9,582.8 L213.0,583.4 L214.1,584.0 L215.2,584.7 L216.2,585.3 L217.3,586.0 L218.4,586.7 L219.4,587.4 L220.5,588.1 L221.5,588.9 L222.6,589.6 L223.6,590.4 L224.6,591.2 L225.7,592.0 L226.7,592.8 L227.7,593.7 L228.7,594.5 L229.7,595.4 L230.7,596.2 L231.7,597.1 L232.7,598.0" fill="none" stroke="#ff4a10" stroke-width="3.2" stroke-linecap="round" clip-path="url(#ce3)"/>
<path d="M141,575.5 Q144,573.5 147,573.8" fill="none" stroke="#ff9a00" stroke-width="2.4" stroke-linecap="round"/>
<path d="M154.6,577.6 155.6,577.2 156.6,576.9 157.6,576.6 158.6,576.3 159.6,576.1 160.6,575.8 161.7,575.6 162.7,575.4 163.8,575.2 164.8,575 165.9,574.9 166.9,574.7 168,574.6 169,574.5 170.1,574.4 171.2,574.3 172.2,574.3 173.3,574.3 174.4,574.3 175.5,574.3 176.6,574.3 177.7,574.3 178.8,574.4 179.8,574.5 180.9,574.6 182,574.7 183.1,574.8 184.2,575 185.3,575.1 186.4,575.3 187.5,575.5 188.6,575.8 189.7,576 190.8,576.3 191.9,576.5 193,576.8 194.1,577.2 195.2,577.5 196.3,577.8 197.4,578.2 198.5,578.6 199.6,579 200.7,579.4 201.8,579.9 202.9,580.3 204,580.8 205.1,581.3 206.2,581.8 207.2,582.3 208.3,582.8 209.4,583.4 210.5,584 211.5,584.6 212.6,585.2 213.6,585.8 214.7,586.4 215.8,587.1 216.8,587.7 217.8,588.4 218.9,589.1 219.9,589.9 220.9,590.6 222,591.3 223,592.1 224,592.9 225,593.7 226,594.5 227,595.3 228,596.1 229,597 229.9,597.9 230.9,598.8 231.9,599.6 232.8,600.6 233.8,601.5 234.7,602.4 235.6,603.4 236.6,604.3 237.5,605.3 238.4,606.3 239.3,607.3 240.2,608.3 241.1,609.3 241.9,610.4 242.8,611.4 243.7,612.5 244.5,613.6 245.3,614.7 246.2,615.8 247,616.9 247.8,618 248.6,619.1 249.4,620.3 250.2,621.4 250.9,622.6 251.7,623.8 252.4,624.9 253.2,626.1 253.9,627.3 254.6,628.5 255.3,629.8 256,631 256.7,632.2 257.4,633.5 258,634.7 258.7,636 259.3,637.3 259.9,638.5 260.5,639.8 261.1,641.1 261.7,642.4 262.3,643.7 262.9,645 263.4,646.3 264,647.7 264.5,649 265,650.3 265.5,651.6 266,653 266.5,654.3 266.9,655.7 267.4,657 267.8,658.4 268.2,659.8 268.6,661.1 269,662.5 269.4,663.9 269.8,665.3 270.1,666.6 270.5,668 270.8,669.4 271.1,670.8 271.4,672.2 271.7,673.6 272,675 272.2,676.4 272.5,677.8 272.7,679.1 272.9,680.5 273.1,681.9 273.3,683.3 273.5,684.7 273.6,686.1 273.8,687.5 273.9,688.9 274,690.3 274.1,691.7 274.2,693.1 274.3,694.4 274.3,695.8 274.4,697.2 274.4,698.6 274.4,699.9 274.4,701.3 274.4,702.7 274.4,704 274.3,705.4 274.3,706.8 274.2,708.1 274.1,709.4 274,710.8 273.9,712.1 273.8,713.4 273.6,714.8 273.5,716.1 273.3,717.4 273.1,718.7 272.9,720 272.7,721.3 272.5,722.6 272.2,723.9 272,725.1 271.7,726.4 271.4,727.6 271.1,728.9 270.8,730.1 270.5,731.4 270.1,732.6 269.8,733.8 269.4,735 269,736.2 268.6,737.4 268.2,738.6 267.8,739.7 267.4,740.9 266.9,742 266.4,743.2 266,744.3 265.5,745.4 265,746.5 264.5,747.6 263.9,748.7 263.4,749.7 262.9,750.8 262.3,751.8 261.7,752.9 261.1,753.9 260.5,754.9 259.9,755.9 259.3,756.9 258.7,757.8 258,758.8 257.3,759.7 256.7,760.6 256,761.6 255.3,762.5 254.6,763.3 253.9,764.2 253.2,765.1 252.4,765.9 251.7,766.7 250.9,767.6 250.1,768.4 249.4,769.1 248.6,769.9 247.8,770.7 247,771.4 246.2,772.1 245.3,772.8 244.5,773.5 243.6,774.2 242.8,774.9 241.9,775.5 241,776.1 240.2,776.7 239.3,777.3 238.4,777.9 237.5,778.5 236.5,779 235.6,779.5 234.7,780 233.8,780.5 232.8,781 231.9,781.5 230.9,781.9 229.9,782.3 228.9,782.7 228,783.1 227,783.5 226,783.9 225,784.2 224,784.5 223,784.8 221.9,785.1 220.9,785.4 219.9,785.6 218.9,785.8 217.8,786.1 216.8,786.2 215.7,786.4 214.7,786.6 213.6,786.7 212.6,786.8 211.5,786.9 210.4,787 209.4,787.1 208.3,787.1 207.2,787.2 206.1,787.2 205.1,787.2 204,787.1 202.9,787.1 201.8,787 200.7,787 199.6,786.9 198.5,786.8 197.4,786.6 196.3,786.5 195.2,786.3 194.1,786.1 193,785.9 191.9,785.7 190.8,785.4 189.7,785.2 188.6,784.9 187.5,784.6 186.4,784.3 185.3,783.9 184.2,783.6 183.1,783.2 182,782.8 180.9,782.4 179.8,782 178.7,781.6 177.6,781.1 176.6,780.7 175.5,780.2 174.4,779.7 173.3,779.1 172.2,778.6 171.2,778.1 170.1,777.5 169,776.9 168,776.3 166.9,775.7 165.8,775 164.8,774.4 163.7,773.7 162.7,773 161.7,772.3 160.6,771.6 159.6,770.9 158.6,770.1 157.6,769.3 156.5,768.6 155.5,767.8 154.5,767 153.5,766.1 152.6,765.3 151.6,764.4 150.6,763.6 149.6,762.7 148.7,761.8 147.7,760.9 146.8,760 145.8,759 144.9,758.1 144,757.1 143.1,756.1 142.2,755.1 141.3,754.1 140.4,753.1 139.5,752.1 138.6,751.1 137.7,750 136.9,748.9 136,747.9 135.2,746.8 134.4,745.7 133.6,744.6 132.7,743.4 131.9,742.3 131.2,741.2 130.4,740 129.6,738.9 128.9,737.7 128.1,736.5 127.4,735.3 126.6,734.1 125.9,732.9 125.2,731.7 124.5,730.4 123.8,729.2 123.2,728 122.5,726.7 121.9,725.5 121.2,724.2 120.6,722.9 120,721.6 119.4,720.3 118.8,719 118.2,717.7 117.7,716.4 117.1,715.1 116.6,713.8 116.1,712.5 115.5,711.1 115,709.8 114.6,708.4 114.1,707.1 113.6,705.7 113.2,704.4 112.7,703 112.3,701.7 111.9,700.3 111.5,698.9 111.1,697.6 110.8,696.2 110.4,694.8 110.1,693.4 109.8,692 109.4,690.6 109.1,689.3 108.9,687.9 108.6,686.5 108.3,685.1 108.1,683.7 107.9,682.3 107.6,680.9 107.4,679.5 107.3,678.1 107.1,676.7 106.9,675.3 106.8,673.9 106.7,672.5 106.5,671.2 106.4,669.8 106.3,668.4 106.3,667 106.2,665.6 106.2,664.2 106.1,662.9 106.1,661.5 106.1,660.1 106.1,658.8 106.2,657.4 106.2,656 106.3,654.7 106.4,653.3 106.4,652 106.5,650.7 106.7,649.3 106.8,648 106.9,646.7 107.1,645.4 107.3,644 107.4,642.7 107.6,641.4 107.9,640.1 108.1,638.9 108.3,637.6 108.6,636.3 108.9,635 109.1,633.8 109.4,632.5 109.8,631.3 110.1,630.1 110.4,628.9 110.8,627.6 111.1,626.4 111.5,625.2 111.9,624.1 112.3,622.9 112.8,621.7 113.2,620.6 113.6,619.4 114.1,618.3 114.6,617.2 115.1,616.1 115.6,615 116.1,613.9 116.6,612.8 117.1,611.7 117.7,610.7 118.2,609.6 118.8,608.6 119.4,607.6 120,606.6 120.6,605.6 121.2,604.6 121.9,603.6 122.5,602.7 123.2,601.7 123.9,600.8 124.5,599.9 125.2,599 125.9,598.1 126.7,597.2 127.4,596.4 128.1,595.5 128.9,594.7 129.6,593.9 130.4,593.1 131.2,592.3 132,591.5 132.8,590.8 133.6,590 134.4,589.3 135.2,588.6 136.1,587.9 136.9,587.2 137.8,586.6 138.6,585.9 139.5,585.3 140.4,584.7 141.3,584.1 142.2,583.5 143.1,583 144,582.4 144.9,581.9 145.8,581.4 146.8,580.9 147.7,580.4 148.7,580 149.6,579.5 150.6,579.1 151.6,578.7 152.6,578.3 153.6,577.9Z" fill="none" stroke="#1a1a1a" stroke-width="0.7"/>
<path d="M140.4,585.6 L141.3,585.0 L142.2,584.4 L143.1,583.9 L144.0,583.3 L144.9,582.8 L145.8,582.3 L146.8,581.8 L147.7,581.3 L148.7,580.9 L149.6,580.4 L150.6,580.0 L151.6,579.6 L152.6,579.2 L153.6,578.8 L154.6,578.5 L155.6,578.1 L156.6,577.8 L157.6,577.5 L158.6,577.2 L159.6,577.0 L160.6,576.7 L161.7,576.5 L162.7,576.3 L163.8,576.1 L164.8,575.9 L165.9,575.8 L166.9,575.6 L168.0,575.5 L169.0,575.4 L170.1,575.3 L171.2,575.2 L172.2,575.2 L173.3,575.2 L174.4,575.2 L175.5,575.2 L176.6,575.2 L177.7,575.2 L178.8,575.3 L179.8,575.4 L180.9,575.5 L182.0,575.6 L183.1,575.7 L184.2,575.9 L185.3,576.0 L186.4,576.2 L187.5,576.4 L188.6,576.7 L189.7,576.9 L190.8,577.2 L191.9,577.4 L193.0,577.7 L194.1,578.1 L195.2,578.4 L196.3,578.7 L197.4,579.1 L198.5,579.5 L199.6,579.9 L200.7,580.3 L201.8,580.8 L202.9,581.2 L204.0,581.7 L205.1,582.2 L206.2,582.7 L207.2,583.2 L208.3,583.7 L209.4,584.3 L210.5,584.9 L211.5,585.5" fill="none" stroke="#23502a" stroke-width="1.8" clip-path="url(#cr3)" opacity="0.85"/>
<line x1="180.3" y1="554.3" x2="180.3" y2="573.3" stroke="#222" stroke-width="0.5"/>
<line x1="187.5" y1="784.8" x2="187.5" y2="800.8" stroke="#222" stroke-width="0.5"/>
<rect x="0.5" y="69.3" width="64.1" height="142.1" fill="#fff" stroke="#a0a0a0" stroke-width="1"/>
<rect x="5.40" y="101.50" width="12.00" height="7.83" fill="#ff0000"/>
<rect x="5.40" y="109.28" width="12.00" height="7.83" fill="#ff5d00"/>
<rect x="5.40" y="117.05" width="12.00" height="7.83" fill="#ffb900"/>
<rect x="5.40" y="124.83" width="12.00" height="7.83" fill="#e8ff00"/>
<rect x="5.40" y="132.61" width="12.00" height="7.83" fill="#8bff00"/>
<rect x="5.40" y="140.38" width="12.00" height="7.83" fill="#2eff00"/>
<rect x="5.40" y="148.16" width="12.00" height="7.83" fill="#00ff2e"/>
<rect x="5.40" y="155.94" width="12.00" height="7.83" fill="#00ff8b"/>
<rect x="5.40" y="163.72" width="12.00" height="7.83" fill="#00ffe8"/>
<rect x="5.40" y="171.49" width="12.00" height="7.83" fill="#00b9ff"/>
<rect x="5.40" y="179.27" width="12.00" height="7.83" fill="#005dff"/>
<rect x="5.40" y="187.05" width="12.00" height="7.83" fill="#0000ff"/>
<rect x="5.40" y="194.82" width="12.00" height="7.83" fill="#0000ff"/>
<line x1="5.40" y1="101.50" x2="21.20" y2="101.50" stroke="#333" stroke-width="0.6"/>
<line x1="5.40" y1="109.28" x2="21.20" y2="109.28" stroke="#333" stroke-width="0.6"/>
<line x1="5.40" y1="117.05" x2="21.20" y2="117.05" stroke="#333" stroke-width="0.6"/>
<line x1="5.40" y1="124.83" x2="21.20" y2="124.83" stroke="#333" stroke-width="0.6"/>
<line x1="5.40" y1="132.61" x2="21.20" y2="132.61" stroke="#333" stroke-width="0.6"/>
<line x1="5.40" y1="140.38" x2="21.20" y2="140.38" stroke="#333" stroke-width="0.6"/>
<line x1="5.40" y1="148.16" x2="21.20" y2="148.16" stroke="#333" stroke-width="0.6"/>
<line x1="5.40" y1="155.94" x2="21.20" y2="155.94" stroke="#333" stroke-width="0.6"/>
<line x1="5.40" y1="163.72" x2="21.20" y2="163.72" stroke="#333" stroke-width="0.6"/>
<line x1="5.40" y1="171.49" x2="21.20" y2="171.49" stroke="#333" stroke-width="0.6"/>
<line x1="5.40" y1="179.27" x2="21.20" y2="179.27" stroke="#333" stroke-width="0.6"/>
<line x1="5.40" y1="187.05" x2="21.20" y2="187.05" stroke="#333" stroke-width="0.6"/>
<line x1="5.40" y1="194.82" x2="21.20" y2="194.82" stroke="#333" stroke-width="0.6"/>
<line x1="5.40" y1="202.60" x2="21.20" y2="202.60" stroke="#333" stroke-width="0.6"/>
<text x="0.00" y="104.15" font-family="Liberation Sans, sans-serif" font-size="7.8" fill="#111" transform="translate(25.00 0) scale(1.1 1) translate(-0.00 0)">320</text>
<text x="0.00" y="111.93" font-family="Liberation Sans, sans-serif" font-size="7.8" fill="#111" transform="translate(25.00 0) scale(1.1 1) translate(-0.00 0)">293</text>
<text x="0.00" y="119.70" font-family="Liberation Sans, sans-serif" font-size="7.8" fill="#111" transform="translate(25.00 0) scale(1.1 1) translate(-0.00 0)">267</text>
<text x="0.00" y="127.48" font-family="Liberation Sans, sans-serif" font-size="7.8" fill="#111" transform="translate(25.00 0) scale(1.1 1) translate(-0.00 0)">240</text>
<text x="0.00" y="135.26" font-family="Liberation Sans, sans-serif" font-size="7.8" fill="#111" transform="translate(25.00 0) scale(1.1 1) translate(-0.00 0)">213</text>
<text x="0.00" y="143.03" font-family="Liberation Sans, sans-serif" font-size="7.8" fill="#111" transform="translate(25.00 0) scale(1.1 1) translate(-0.00 0)">187</text>
<text x="0.00" y="150.81" font-family="Liberation Sans, sans-serif" font-size="7.8" fill="#111" transform="translate(25.00 0) scale(1.1 1) translate(-0.00 0)">160</text>
<text x="0.00" y="158.59" font-family="Liberation Sans, sans-serif" font-size="7.8" fill="#111" transform="translate(25.00 0) scale(1.1 1) translate(-0.00 0)">133</text>
<text x="0.00" y="166.37" font-family="Liberation Sans, sans-serif" font-size="7.8" fill="#111" transform="translate(25.00 0) scale(1.1 1) translate(-0.00 0)">107</text>
<text x="0.00" y="174.14" font-family="Liberation Sans, sans-serif" font-size="7.8" fill="#111" transform="translate(25.00 0) scale(1.1 1) translate(-0.00 0)">80.0</text>
<text x="0.00" y="181.92" font-family="Liberation Sans, sans-serif" font-size="7.8" fill="#111" transform="translate(25.00 0) scale(1.1 1) translate(-0.00 0)">53.3</text>
<text x="0.00" y="189.70" font-family="Liberation Sans, sans-serif" font-size="7.8" fill="#111" transform="translate(25.00 0) scale(1.1 1) translate(-0.00 0)">26.7</text>
<text x="0.00" y="197.47" font-family="Liberation Sans, sans-serif" font-size="7.8" fill="#111" transform="translate(25.00 0) scale(1.1 1) translate(-0.00 0)">0.00</text>
<text x="0" y="87.70" font-family="Liberation Sans, sans-serif" font-size="10.4" fill="#111" transform="translate(13.90 0) scale(1.18 1)">σ</text>
<text x="0" y="90.90" font-family="Liberation Sans, sans-serif" font-size="5.6" font-style="italic" fill="#111" transform="translate(21.10 0) scale(1.15 1)">rr</text>
<text x="27.50" y="87.70" font-family="Liberation Sans, sans-serif" font-size="11" fill="#111" textLength="35.80" lengthAdjust="spacingAndGlyphs">(MPa)</text>
<rect x="0.5" y="331.1" width="64.1" height="142.3" fill="#fff" stroke="#a0a0a0" stroke-width="1"/>
<rect x="8.40" y="364.40" width="12.30" height="7.81" fill="#ff0000"/>
<rect x="8.40" y="372.16" width="12.30" height="7.81" fill="#ff5d00"/>
<rect x="8.40" y="379.92" width="12.30" height="7.81" fill="#ffb900"/>
<rect x="8.40" y="387.68" width="12.30" height="7.81" fill="#e8ff00"/>
<rect x="8.40" y="395.45" width="12.30" height="7.81" fill="#8bff00"/>
<rect x="8.40" y="403.21" width="12.30" height="7.81" fill="#2eff00"/>
<rect x="8.40" y="410.97" width="12.30" height="7.81" fill="#00ff2e"/>
<rect x="8.40" y="418.73" width="12.30" height="7.81" fill="#00ff8b"/>
<rect x="8.40" y="426.49" width="12.30" height="7.81" fill="#00ffe8"/>
<rect x="8.40" y="434.25" width="12.30" height="7.81" fill="#00b9ff"/>
<rect x="8.40" y="442.02" width="12.30" height="7.81" fill="#005dff"/>
<rect x="8.40" y="449.78" width="12.30" height="7.81" fill="#0000ff"/>
<rect x="8.40" y="457.54" width="12.30" height="7.81" fill="#0000ff"/>
<line x1="8.40" y1="364.40" x2="24.30" y2="364.40" stroke="#333" stroke-width="0.6"/>
<line x1="8.40" y1="372.16" x2="24.30" y2="372.16" stroke="#333" stroke-width="0.6"/>
<line x1="8.40" y1="379.92" x2="24.30" y2="379.92" stroke="#333" stroke-width="0.6"/>
<line x1="8.40" y1="387.68" x2="24.30" y2="387.68" stroke="#333" stroke-width="0.6"/>
<line x1="8.40" y1="395.45" x2="24.30" y2="395.45" stroke="#333" stroke-width="0.6"/>
<line x1="8.40" y1="403.21" x2="24.30" y2="403.21" stroke="#333" stroke-width="0.6"/>
<line x1="8.40" y1="410.97" x2="24.30" y2="410.97" stroke="#333" stroke-width="0.6"/>
<line x1="8.40" y1="418.73" x2="24.30" y2="418.73" stroke="#333" stroke-width="0.6"/>
<line x1="8.40" y1="426.49" x2="24.30" y2="426.49" stroke="#333" stroke-width="0.6"/>
<line x1="8.40" y1="434.25" x2="24.30" y2="434.25" stroke="#333" stroke-width="0.6"/>
<line x1="8.40" y1="442.02" x2="24.30" y2="442.02" stroke="#333" stroke-width="0.6"/>
<line x1="8.40" y1="449.78" x2="24.30" y2="449.78" stroke="#333" stroke-width="0.6"/>
<line x1="8.40" y1="457.54" x2="24.30" y2="457.54" stroke="#333" stroke-width="0.6"/>
<line x1="8.40" y1="465.30" x2="24.30" y2="465.30" stroke="#333" stroke-width="0.6"/>
<text x="0.00" y="367.05" font-family="Liberation Sans, sans-serif" font-size="7.8" fill="#111" transform="translate(27.70 0) scale(1.1 1) translate(-0.00 0)">200</text>
<text x="0.00" y="374.81" font-family="Liberation Sans, sans-serif" font-size="7.8" fill="#111" transform="translate(27.70 0) scale(1.1 1) translate(-0.00 0)">178</text>
<text x="0.00" y="382.57" font-family="Liberation Sans, sans-serif" font-size="7.8" fill="#111" transform="translate(27.70 0) scale(1.1 1) translate(-0.00 0)">155</text>
<text x="0.00" y="390.33" font-family="Liberation Sans, sans-serif" font-size="7.8" fill="#111" transform="translate(27.70 0) scale(1.1 1) translate(-0.00 0)">133</text>
<text x="0.00" y="398.10" font-family="Liberation Sans, sans-serif" font-size="7.8" fill="#111" transform="translate(27.70 0) scale(1.1 1) translate(-0.00 0)">110</text>
<text x="0.00" y="405.86" font-family="Liberation Sans, sans-serif" font-size="7.8" fill="#111" transform="translate(27.70 0) scale(1.1 1) translate(-0.00 0)">87.5</text>
<text x="0.00" y="413.62" font-family="Liberation Sans, sans-serif" font-size="7.8" fill="#111" transform="translate(27.70 0) scale(1.1 1) translate(-0.00 0)">65.0</text>
<text x="0.00" y="421.38" font-family="Liberation Sans, sans-serif" font-size="7.8" fill="#111" transform="translate(27.70 0) scale(1.1 1) translate(-0.00 0)">42.5</text>
<text x="0.00" y="429.14" font-family="Liberation Sans, sans-serif" font-size="7.8" fill="#111" transform="translate(27.70 0) scale(1.1 1) translate(-0.00 0)">20.0</text>
<text x="0.00" y="436.90" font-family="Liberation Sans, sans-serif" font-size="7.8" fill="#111" transform="translate(27.70 0) scale(1.1 1) translate(-0.00 0)">-2.50</text>
<text x="0.00" y="444.67" font-family="Liberation Sans, sans-serif" font-size="7.8" fill="#111" transform="translate(27.70 0) scale(1.1 1) translate(-0.00 0)">-25.0</text>
<text x="0.00" y="452.43" font-family="Liberation Sans, sans-serif" font-size="7.8" fill="#111" transform="translate(27.70 0) scale(1.1 1) translate(-0.00 0)">-47.5</text>
<text x="0.00" y="460.19" font-family="Liberation Sans, sans-serif" font-size="7.8" fill="#111" transform="translate(27.70 0) scale(1.1 1) translate(-0.00 0)">-70.0</text>
<text x="0" y="351.70" font-family="Liberation Sans, sans-serif" font-size="10.4" fill="#111" transform="translate(7.50 0) scale(1.18 1)">σ</text>
<text x="0" y="354.90" font-family="Liberation Sans, sans-serif" font-size="5.6" font-style="italic" fill="#111" transform="translate(14.70 0) scale(1.15 1)">θθ</text>
<text x="23.20" y="351.70" font-family="Liberation Sans, sans-serif" font-size="11" fill="#111" textLength="36.10" lengthAdjust="spacingAndGlyphs">(MPa)</text>
<rect x="0.5" y="593.6" width="64.1" height="141.3" fill="#fff" stroke="#a0a0a0" stroke-width="1"/>
<rect x="8.40" y="626.80" width="12.30" height="7.79" fill="#ff0000"/>
<rect x="8.40" y="634.54" width="12.30" height="7.79" fill="#ff5d00"/>
<rect x="8.40" y="642.28" width="12.30" height="7.79" fill="#ffb900"/>
<rect x="8.40" y="650.02" width="12.30" height="7.79" fill="#e8ff00"/>
<rect x="8.40" y="657.75" width="12.30" height="7.79" fill="#8bff00"/>
<rect x="8.40" y="665.49" width="12.30" height="7.79" fill="#2eff00"/>
<rect x="8.40" y="673.23" width="12.30" height="7.79" fill="#00ff2e"/>
<rect x="8.40" y="680.97" width="12.30" height="7.79" fill="#00ff8b"/>
<rect x="8.40" y="688.71" width="12.30" height="7.79" fill="#00ffe8"/>
<rect x="8.40" y="696.45" width="12.30" height="7.79" fill="#00b9ff"/>
<rect x="8.40" y="704.18" width="12.30" height="7.79" fill="#005dff"/>
<rect x="8.40" y="711.92" width="12.30" height="7.79" fill="#0000ff"/>
<rect x="8.40" y="719.66" width="12.30" height="7.79" fill="#0000ff"/>
<line x1="8.40" y1="626.80" x2="24.30" y2="626.80" stroke="#333" stroke-width="0.6"/>
<line x1="8.40" y1="634.54" x2="24.30" y2="634.54" stroke="#333" stroke-width="0.6"/>
<line x1="8.40" y1="642.28" x2="24.30" y2="642.28" stroke="#333" stroke-width="0.6"/>
<line x1="8.40" y1="650.02" x2="24.30" y2="650.02" stroke="#333" stroke-width="0.6"/>
<line x1="8.40" y1="657.75" x2="24.30" y2="657.75" stroke="#333" stroke-width="0.6"/>
<line x1="8.40" y1="665.49" x2="24.30" y2="665.49" stroke="#333" stroke-width="0.6"/>
<line x1="8.40" y1="673.23" x2="24.30" y2="673.23" stroke="#333" stroke-width="0.6"/>
<line x1="8.40" y1="680.97" x2="24.30" y2="680.97" stroke="#333" stroke-width="0.6"/>
<line x1="8.40" y1="688.71" x2="24.30" y2="688.71" stroke="#333" stroke-width="0.6"/>
<line x1="8.40" y1="696.45" x2="24.30" y2="696.45" stroke="#333" stroke-width="0.6"/>
<line x1="8.40" y1="704.18" x2="24.30" y2="704.18" stroke="#333" stroke-width="0.6"/>
<line x1="8.40" y1="711.92" x2="24.30" y2="711.92" stroke="#333" stroke-width="0.6"/>
<line x1="8.40" y1="719.66" x2="24.30" y2="719.66" stroke="#333" stroke-width="0.6"/>
<line x1="8.40" y1="727.40" x2="24.30" y2="727.40" stroke="#333" stroke-width="0.6"/>
<text x="0.00" y="629.45" font-family="Liberation Sans, sans-serif" font-size="7.8" fill="#111" transform="translate(27.70 0) scale(1.1 1) translate(-0.00 0)">200</text>
<text x="0.00" y="637.19" font-family="Liberation Sans, sans-serif" font-size="7.8" fill="#111" transform="translate(27.70 0) scale(1.1 1) translate(-0.00 0)">178</text>
<text x="0.00" y="644.93" font-family="Liberation Sans, sans-serif" font-size="7.8" fill="#111" transform="translate(27.70 0) scale(1.1 1) translate(-0.00 0)">155</text>
<text x="0.00" y="652.67" font-family="Liberation Sans, sans-serif" font-size="7.8" fill="#111" transform="translate(27.70 0) scale(1.1 1) translate(-0.00 0)">133</text>
<text x="0.00" y="660.40" font-family="Liberation Sans, sans-serif" font-size="7.8" fill="#111" transform="translate(27.70 0) scale(1.1 1) translate(-0.00 0)">110</text>
<text x="0.00" y="668.14" font-family="Liberation Sans, sans-serif" font-size="7.8" fill="#111" transform="translate(27.70 0) scale(1.1 1) translate(-0.00 0)">87.5</text>
<text x="0.00" y="675.88" font-family="Liberation Sans, sans-serif" font-size="7.8" fill="#111" transform="translate(27.70 0) scale(1.1 1) translate(-0.00 0)">65.0</text>
<text x="0.00" y="683.62" font-family="Liberation Sans, sans-serif" font-size="7.8" fill="#111" transform="translate(27.70 0) scale(1.1 1) translate(-0.00 0)">42.5</text>
<text x="0.00" y="691.36" font-family="Liberation Sans, sans-serif" font-size="7.8" fill="#111" transform="translate(27.70 0) scale(1.1 1) translate(-0.00 0)">20.0</text>
<text x="0.00" y="699.10" font-family="Liberation Sans, sans-serif" font-size="7.8" fill="#111" transform="translate(27.70 0) scale(1.1 1) translate(-0.00 0)">-2.50</text>
<text x="0.00" y="706.83" font-family="Liberation Sans, sans-serif" font-size="7.8" fill="#111" transform="translate(27.70 0) scale(1.1 1) translate(-0.00 0)">-25.0</text>
<text x="0.00" y="714.57" font-family="Liberation Sans, sans-serif" font-size="7.8" fill="#111" transform="translate(27.70 0) scale(1.1 1) translate(-0.00 0)">-47.5</text>
<text x="0.00" y="722.31" font-family="Liberation Sans, sans-serif" font-size="7.8" fill="#111" transform="translate(27.70 0) scale(1.1 1) translate(-0.00 0)">-70.0</text>
<text x="0" y="614.00" font-family="Liberation Sans, sans-serif" font-size="10.4" fill="#111" transform="translate(7.50 0) scale(1.18 1)">σ</text>
<text x="0" y="617.20" font-family="Liberation Sans, sans-serif" font-size="5.6" font-style="italic" fill="#111" transform="translate(14.70 0) scale(1.15 1)">ϕϕ</text>
<text x="23.20" y="614.00" font-family="Liberation Sans, sans-serif" font-size="11" fill="#111" textLength="36.10" lengthAdjust="spacingAndGlyphs">(MPa)</text>
</svg>
</body></html>
